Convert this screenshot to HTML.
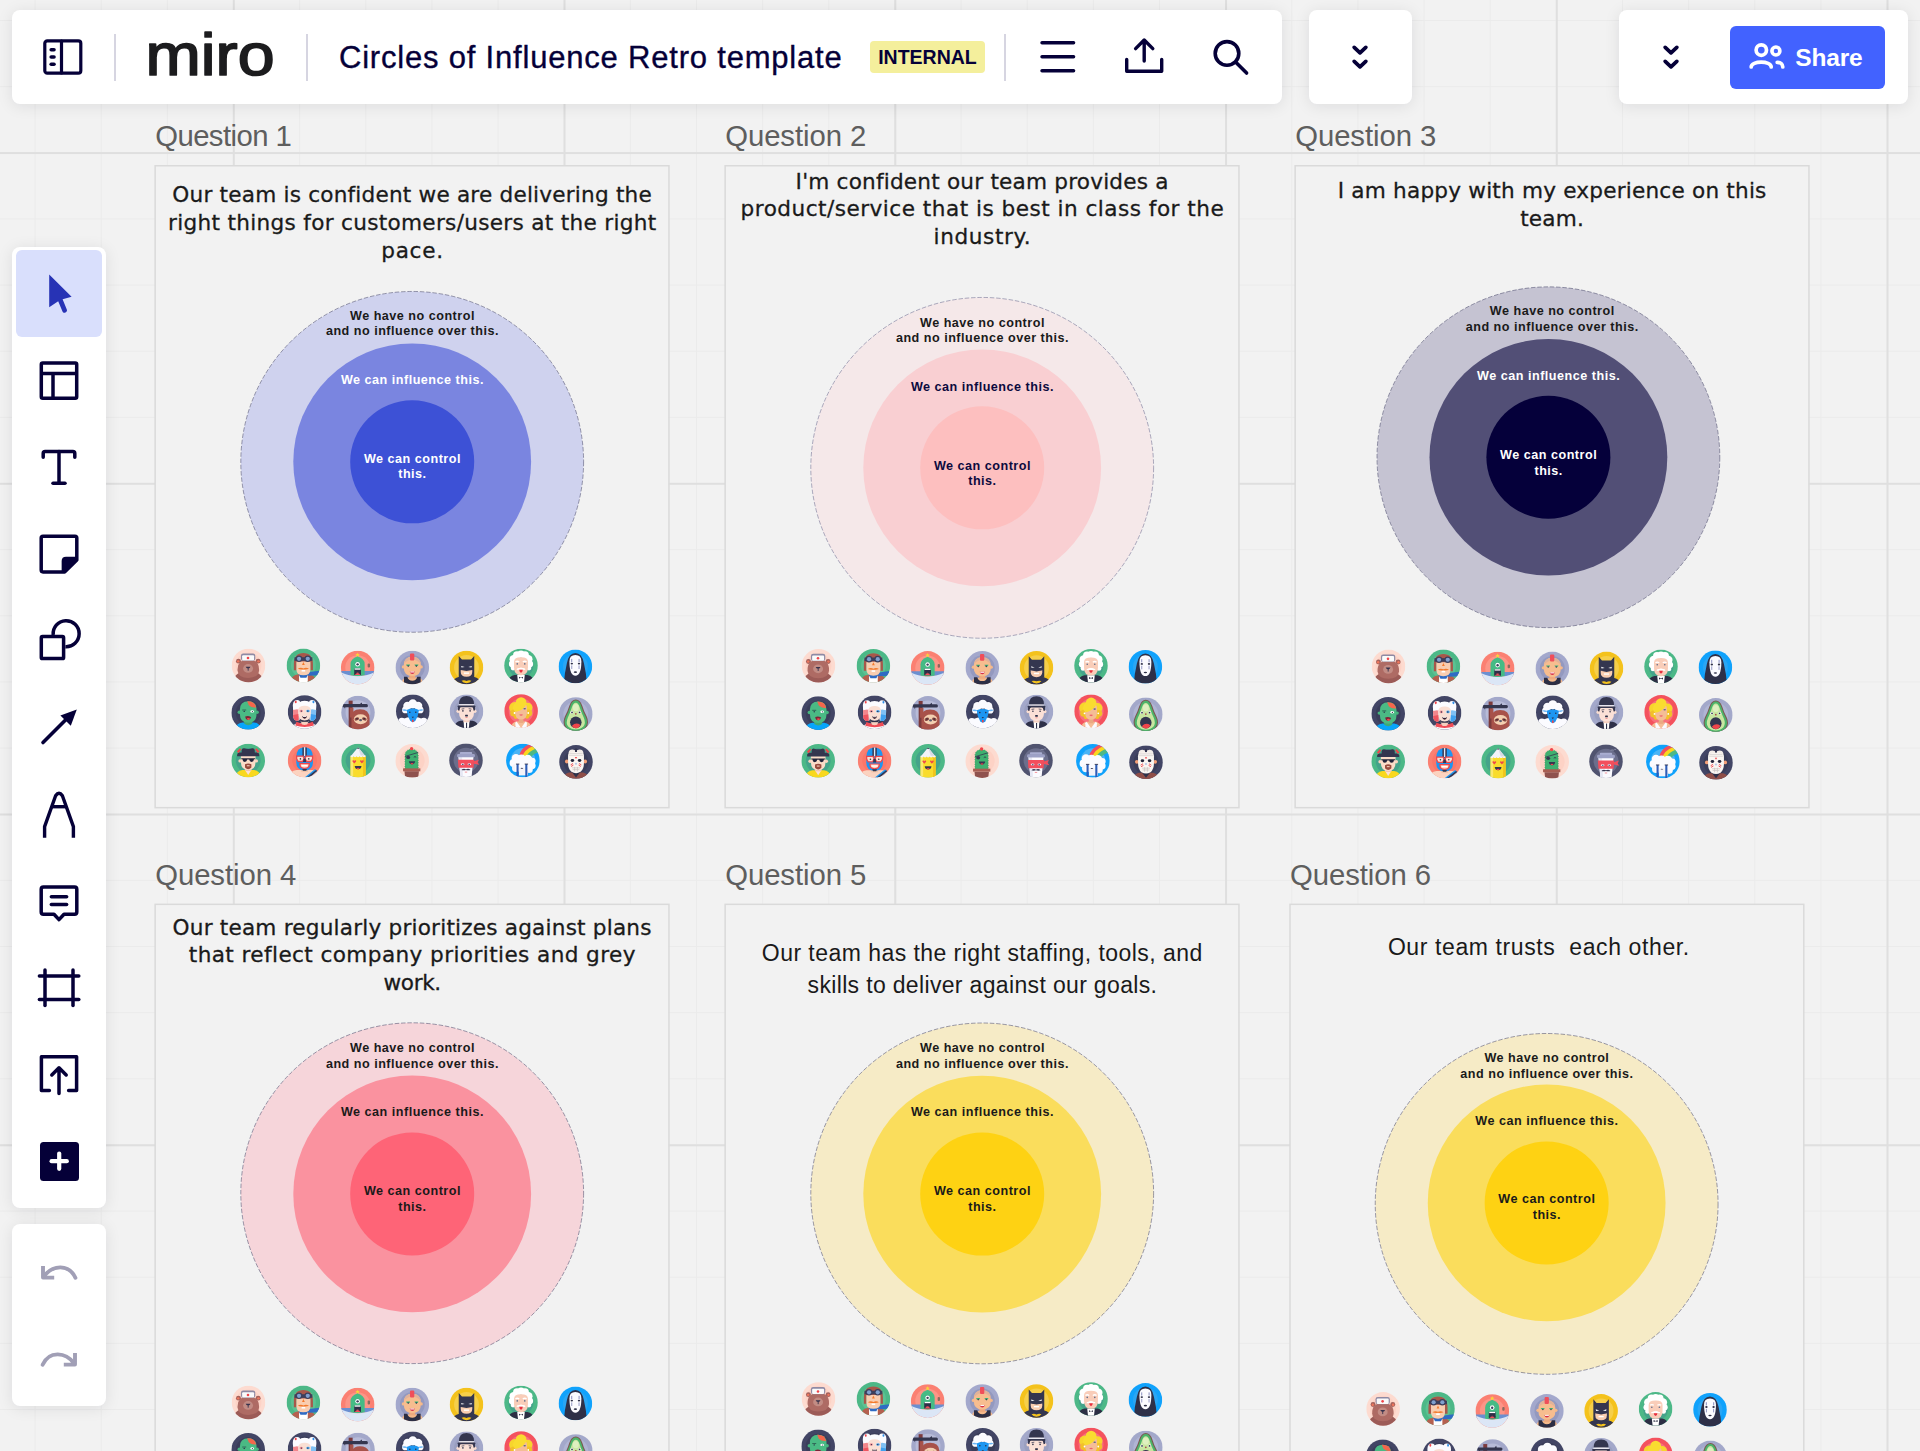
<!DOCTYPE html>
<html lang="en"><head><meta charset="utf-8"><title>Circles of Influence Retro template</title>
<style>
*{box-sizing:border-box;margin:0;padding:0}
html,body{width:1920px;height:1451px;overflow:hidden}
body{position:relative;background-color:#f2f2f2;font-family:"Liberation Sans",sans-serif;
background-image:
 linear-gradient(to right,#dfdfdf 0,#dfdfdf 1.5px,transparent 1.5px),
 linear-gradient(to bottom,#dfdfdf 0,#dfdfdf 1.5px,transparent 1.5px),
 linear-gradient(to right,#ebebeb 0,#ebebeb 1px,transparent 1px),
 linear-gradient(to bottom,#ebebeb 0,#ebebeb 1px,transparent 1px);
background-size:330.75px 330.75px,330.75px 330.75px,66.15px 66.15px,66.15px 66.15px;
background-position:232.8px 0,0 152.05px,34.6px 0,0 20.05px;
}
.panel{position:absolute;background:#fff;border-radius:8px;box-shadow:0 2px 16px rgba(20,20,30,.095)}
.abs{position:absolute}
.qlabel{position:absolute;font-size:29.3px;line-height:34px;color:#5e5e5e;white-space:nowrap;letter-spacing:-0.57px}
.cardsvg{overflow:hidden}
.ctext{position:absolute;width:600px;text-align:center;color:#1a1a1a;white-space:nowrap}
.geo{font-family:"DejaVu Sans","Liberation Sans",sans-serif;font-size:21.6px;line-height:27.7px;letter-spacing:0.2px;padding-left:0.2px;-webkit-text-stroke:0.3px #1a1a1a}
.os{font-size:23px;line-height:32.6px;letter-spacing:0.45px;padding-left:0.45px}
.circ{position:absolute;border-radius:50%}
.cl{position:absolute;width:300px;text-align:center;font-weight:bold;font-size:12.6px;line-height:15.8px;white-space:nowrap;letter-spacing:0.5px;padding-left:0.5px}
svg{position:absolute;overflow:visible}
</style></head>
<body>
<svg width="0" height="0" style="left:0;top:0"><defs><clipPath id="avc"><circle cx="17" cy="17" r="16.9"/></clipPath></defs></svg>
<div class="qlabel" style="left:155.2px;top:118.9px;letter-spacing:-0.57px">Question 1</div>
<svg class="cardsvg" style="left:153px;top:164px" width="520" height="648" viewBox="153 164 520 648">
<rect x="155.15" y="165.75" width="513.8" height="641.9" fill="#f2f2f2" stroke="#dadada" stroke-width="1.5"/>
<ellipse cx="412.2" cy="461.85" rx="171.4" ry="170.4" fill="#cfd2ee" stroke="rgba(40,40,80,.5)" stroke-width="0.9" stroke-dasharray="4.5 1.8"/>
<ellipse cx="412.2" cy="461.85" rx="118.9" ry="118.3" fill="#7a85e0"/>
<ellipse cx="412.2" cy="461.85" rx="62" ry="61.5" fill="#3d51d6"/>
<g transform="translate(231.6 648.6) scale(0.9941)"><g clip-path="url(#avc)"><rect width="34" height="34" fill="#fddbd0"/><circle cx="17" cy="17" r="13" fill="#fdd3c6"/><circle cx="6.9" cy="12.6" r="2.5" fill="#a5625c"/><circle cx="26.7" cy="12.6" r="2.5" fill="#a5625c"/><circle cx="6.6" cy="12.8" r="1.2" fill="#f0765c"/><circle cx="27" cy="12.8" r="1.2" fill="#f0765c"/><ellipse cx="16.8" cy="31.5" rx="14.6" ry="9" fill="#9c5b57"/><path d="M6 22 Q5.4 11 16.8 11 Q28.2 11 27.6 22 Q27 29.5 16.8 29.5 Q6.6 29.5 6 22 Z" fill="#ae6b64"/><ellipse cx="16.6" cy="20" rx="5" ry="4.4" fill="#c28c84"/><path d="M14.2 18.2 H19 Q18.6 20 16.6 20 Q14.6 20 14.2 18.2 Z" fill="#37324c"/><rect x="16.2" y="19.6" width=".9" height="2.6" fill="#37324c"/><rect x="9.4" y="5" width="14.4" height="7.2" rx="2.2" fill="#8e8aa4"/><rect x="10.6" y="6.6" width="12" height="5.4" rx="1" fill="#fafafa"/><circle cx="16.5" cy="9.4" r="1.3" fill="#f0454a"/></g></g>
<g transform="translate(286.5 648.5) scale(0.9941)"><g clip-path="url(#avc)"><rect width="34" height="34" fill="#4cb887"/><circle cx="17" cy="17" r="12.5" fill="#5cc193"/><path d="M4 34 Q5 26.5 12 26 H22 Q29 26.5 30 34 Z" fill="#b5604f"/><rect x="12.6" y="27" width="8.8" height="8" fill="#fff"/><path d="M12 25.5 H22 L20 29.5 H14 Z" fill="#2f6bc4"/><path d="M21 24 L33 22.4 V27 L22 27.5 Z" fill="#2f6bc4"/><path d="M7.4 16 Q7.4 4.6 17 4.6 Q26.6 4.6 26.6 16 V22 H24 V14 H10 V22 H7.4 Z" fill="#a8574a"/><path d="M10 13 H24 V21 Q24 27 17 27 Q10 27 10 21 Z" fill="#f9cdb0"/><path d="M17 13.6 L15.6 16.6 H18.4 Z" fill="#f47a2c"/><path d="M11.4 20.4 Q14 18.6 17 20 Q20 18.6 22.6 20.4 Q20 21.6 17 21 Q14 21.6 11.4 20.4 Z" fill="#f47a2c"/><rect x="15.2" y="21.6" width="3.6" height="1.6" fill="#fff"/><rect x="8" y="8.8" width="18" height="3.6" fill="#3c3f5c"/><circle cx="12.6" cy="10.4" r="3.3" fill="#3c3f5c"/><circle cx="21.4" cy="10.4" r="3.3" fill="#3c3f5c"/><circle cx="12.6" cy="10.4" r="2.1" fill="#7fa0cf"/><circle cx="21.4" cy="10.4" r="2.1" fill="#7fa0cf"/></g></g>
<g transform="translate(340.8 650.7) scale(0.9941)"><g clip-path="url(#avc)"><rect width="34" height="34" fill="#fb8072"/><circle cx="17" cy="17" r="12.5" fill="#fc9587"/><path d="M0 20.4 H34 V25 H0 Z" fill="#6b8fd0"/><path d="M9.8 25 V13.4 Q9.8 8.4 16.9 5.7 Q24 8.4 24 13.4 V25 Z" fill="#45bb85"/><path d="M16.9 2 L17.6 3.4 L19.1 3.6 L18 4.7 L18.3 6.2 L16.9 5.4 L15.5 6.2 L15.8 4.7 L14.7 3.6 L16.2 3.4 Z" fill="#f9d23a"/><path d="M13.8 12.6 Q16.9 9.6 20 12.6 Z" fill="#2f9a78"/><circle cx="16.9" cy="13.6" r="2.3" fill="#fff"/><circle cx="16.9" cy="13.7" r="1.2" fill="#3c3f5c"/><path d="M13.5 17.8 H20.3 V24 H13.5 Z" fill="#2e3048"/><rect x="13.9" y="17.8" width="6" height="1.3" fill="#fff"/><path d="M14 24 Q16.9 19.8 19.8 24 Z" fill="#f0505a"/><rect x="27" y="13" width="2.4" height="3.8" rx="1" fill="#8a6a5e"/><path d="M0 21.6 Q17 29.6 34 21.6 V34 H0 Z" fill="#dbe6f6"/><path d="M12.4 24.8 Q16.9 26.2 21.4 24.8 V23 H12.4 Z" fill="#45bb85"/><path d="M13.5 22.4 H20.3 V24.4 H13.5 Z" fill="#2e3048"/><path d="M14 24.4 Q16.9 20.6 19.8 24.4 Z" fill="#f0505a"/></g></g>
<g transform="translate(395.4 650.6) scale(0.9941)"><g clip-path="url(#avc)"><rect width="34" height="34" fill="#a3a8cc"/><circle cx="17" cy="17" r="12.5" fill="#9499bf"/><path d="M6 34 Q6.4 28 10.4 27 H23.6 Q27.6 28 28 34 Z" fill="#f5b98a"/><path d="M8.6 34 V26.4 H12 Q13 30.4 17 30.4 Q21 30.4 22 26.4 H25.4 V34 Z" fill="#2c2e44"/><rect x="14" y="23" width="6" height="5" fill="#eeaa7e"/><circle cx="8" cy="16.4" r="1.6" fill="#f5b98a"/><circle cx="26" cy="16.4" r="1.6" fill="#f5b98a"/><path d="M8.4 15 Q8.4 6.3 17 6.3 Q25.6 6.3 25.6 15 V17 Q25.6 25.6 17 25.6 Q8.4 25.6 8.4 17 Z" fill="#f7bd8f"/><path d="M8.7 13 Q9.8 6.6 17 6.3 Q24.2 6.6 25.3 13 Q21 9 17 9 Q13 9 8.7 13 Z" fill="#e0b29a"/><rect x="14.7" y="3" width="4.3" height="7" rx="1" fill="#f04e5a"/><path d="M10.8 14 H14.8 L14.2 15.4 H11.4 Z" fill="#3fb577"/><path d="M19.2 14 H23.2 L22.6 15.4 H19.8 Z" fill="#3fb577"/><circle cx="12.9" cy="15.6" r=".8" fill="#3c3f5c"/><circle cx="21.1" cy="15.6" r=".8" fill="#3c3f5c"/><path d="M14.4 21 H19.6 Q19 23.6 17 23.6 Q15 23.6 14.4 21 Z" fill="#d8304a"/><rect x="15" y="21" width="4" height="1" fill="#fff"/></g></g>
<g transform="translate(449.6 650.6) scale(0.9941)"><g clip-path="url(#avc)"><rect width="34" height="34" fill="#f4c21c"/><circle cx="17" cy="17" r="12.5" fill="#f6cf4a"/><path d="M2 34 Q3 27.5 10 26.4 L17 25 L24 26.4 Q31 27.5 32 34 Z" fill="#34364f"/><path d="M9.2 27 V5.4 L12.4 9 H21.6 L24.8 5.4 V27 Z" fill="#34364f"/><path d="M11.2 19.4 H22.8 V21.6 Q22.8 26.4 17 26.4 Q11.2 26.4 11.2 21.6 Z" fill="#f9cdb0"/><path d="M11.2 19.4 L17 17.6 L22.8 19.4 L17 20.6 Z" fill="#34364f"/><path d="M11.6 15.4 L15.2 16.6 L12 17 Z" fill="#fff"/><path d="M22.4 15.4 L18.8 16.6 L22 17 Z" fill="#fff"/><rect x="14.4" y="22" width="5.2" height="1.4" fill="#fff"/><path d="M12 30.4 Q14.6 29.4 17 30.6 Q19.4 29.4 22 30.4 Q20.6 32.6 17 32.8 Q13.4 32.6 12 30.4 Z" fill="#f4c21c"/></g></g>
<g transform="translate(504.1 648.6) scale(0.9941)"><g clip-path="url(#avc)"><rect width="34" height="34" fill="#4cb887"/><circle cx="17" cy="17" r="12.5" fill="#44a38a"/><path d="M4 34 Q4.6 27.6 10.6 26.6 H23.4 Q29.4 27.6 30 34 Z" fill="#2c2e44"/><path d="M13.2 26.6 H20.8 L20 34 H14 Z" fill="#fff"/><path d="M15 28.2 L17 29.2 L19 28.2 V30.2 L17 29.4 L15 30.2 Z" fill="#2c2e44"/><circle cx="9.6" cy="10.6" r="4.2" fill="#fff"/><circle cx="24.4" cy="10.6" r="4.2" fill="#fff"/><circle cx="13" cy="6.6" r="4" fill="#fff"/><circle cx="21" cy="6.6" r="4" fill="#fff"/><circle cx="17" cy="5.6" r="3.6" fill="#fff"/><circle cx="8.2" cy="15.4" r="3.4" fill="#fff"/><circle cx="25.8" cy="15.4" r="3.4" fill="#fff"/><circle cx="9" cy="19.6" r="2.4" fill="#fff"/><circle cx="25" cy="19.6" r="2.4" fill="#fff"/><path d="M10 13 Q10 8.6 17 8.6 Q24 8.6 24 13 V19 Q24 26.8 17 26.8 Q10 26.8 10 19 Z" fill="#f9cdb9"/><path d="M11.4 13.4 Q13.2 12 15.2 13.4" stroke="#fff" stroke-width="1.3" fill="none"/><path d="M18.8 13.4 Q20.8 12 22.6 13.4" stroke="#fff" stroke-width="1.3" fill="none"/><circle cx="13.2" cy="15.4" r=".8" fill="#5a6a8a"/><circle cx="20.8" cy="15.4" r=".8" fill="#5a6a8a"/><path d="M12.8 20.8 Q17 18.2 21.2 20.8 Q17 20.4 12.8 20.8 Z" fill="#fff" stroke="#fff" stroke-width="1"/><path d="M15.2 21.4 H18.8 Q18.6 24.2 17 24.2 Q15.4 24.2 15.2 21.4 Z" fill="#e83040"/></g></g>
<g transform="translate(558.5 649.5) scale(0.9941)"><g clip-path="url(#avc)"><rect width="34" height="34" fill="#10a2fc"/><circle cx="17" cy="17" r="12.5" fill="#2aa6f4"/><path d="M5.4 34 Q6 24 8.4 14 Q10.4 3.6 17 3.6 Q23.6 3.6 25.6 14 Q28 24 28.6 34 Z" fill="#2e3048"/><path d="M11 12 Q11 5.6 17 5.6 Q23 5.6 23 12 Q23 19 21.4 23 Q20 26.4 17 26.4 Q14 26.4 12.6 23 Q11 19 11 12 Z" fill="#fbfbff"/><ellipse cx="13.4" cy="14.2" rx="1.2" ry=".9" fill="#2e3048"/><ellipse cx="20.6" cy="14.2" rx="1.2" ry=".9" fill="#2e3048"/><rect x="12.8" y="9.4" width="1" height="3.2" fill="#8a8fc0"/><rect x="20.2" y="9.4" width="1" height="3.2" fill="#8a8fc0"/><rect x="12.9" y="16" width=".9" height="3.6" fill="#8a8fc0"/><rect x="20.2" y="16" width=".9" height="3.6" fill="#8a8fc0"/><ellipse cx="17" cy="22.8" rx="1.7" ry=".8" fill="#2e3048"/></g></g>
<g transform="translate(231.3 695.9) scale(0.9941)"><g clip-path="url(#avc)"><rect width="34" height="34" fill="#424565"/><circle cx="17" cy="17" r="12.5" fill="#3a3d5a"/><path d="M3.6 34 Q5 27.4 11 26.8 H23 Q29 27.4 30.4 34 Z" fill="#08a5fa"/><path d="M13 25 H21 V28 Q17 31 13 28 Z" fill="#3fa874"/><circle cx="8" cy="16.4" r="1.7" fill="#46b47e"/><circle cx="26" cy="16.4" r="1.7" fill="#46b47e"/><path d="M8.6 14 Q8.6 5.4 17 5.4 Q25.4 5.4 25.4 14 V18 Q25.4 27 17 27 Q8.6 27 8.6 18 Z" fill="#4aba84"/><path d="M16 5.4 Q23.6 5 25 11.6 Q20.6 12.4 17.6 9.4 Z" fill="#f4664c"/><path d="M11 14.2 H15" stroke="#2e6a58" stroke-width="1"/><circle cx="13" cy="15.6" r=".7" fill="#2e3048"/><ellipse cx="21" cy="15.6" rx="1.8" ry="1.2" fill="#fff"/><circle cx="21.2" cy="15.7" r=".6" fill="#2e3048"/><path d="M14 20.8 Q17 19.6 20 21.4 Q19 24.4 16.6 24.2 Q14.4 24 14 20.8 Z" fill="#7a2438"/><path d="M15.6 22.6 Q17.4 21.6 19 23 Q18 24.4 16.6 24.2 Z" fill="#f0454a"/></g></g>
<g transform="translate(287.7 695.1) scale(0.9941)"><g clip-path="url(#avc)"><rect width="34" height="34" fill="#424565"/><circle cx="17" cy="17" r="12.5" fill="#3a3d5a"/><path d="M5.4 14 Q4 5 9.6 5 Q12.4 5 13 8.4 L12 25 Q7 27 5.6 22 Z" fill="#fbfbff"/><path d="M28.6 14 Q30 5 24.4 5 Q21.6 5 21 8.4 L22 25 Q27 27 28.4 22 Z" fill="#fbfbff"/><path d="M5.3 15 L10.8 14 L11 25.4 Q7 27 5.6 22 Z" fill="#f2868c"/><path d="M5.5 20 L10.9 19 L11 25.4 Q7 27 5.6 22 Z" fill="#ee5560"/><path d="M28.7 15 L23.2 14 L23 25.4 Q27 27 28.4 22 Z" fill="#7fc0f4"/><path d="M28.5 20 L23.1 19 L23 25.4 Q27 27 28.4 22 Z" fill="#3fa0ee"/><rect x="7.2" y="5.6" width="1.8" height="2.6" rx=".8" fill="#f0454a"/><rect x="25" y="5.6" width="1.8" height="2.6" rx=".8" fill="#2f8ee8"/><path d="M3.6 34 Q5 29 10.6 28.4 H23.4 Q29 29 30.4 34 Z" fill="#fbfbff"/><path d="M8.8 26.8 Q17 30.6 25.2 26.8 L26.4 30.6 Q17 33.6 7.6 30.6 Z" fill="#ef4c56"/><path d="M13 26 H21 L19.6 29.6 Q17 30.6 14.4 29.6 Z" fill="#f6d0c0"/><rect x="13.6" y="25.4" width="6.8" height="1.5" fill="#2e3048"/><path d="M10.8 14 Q10.8 8 17 8 Q23.2 8 23.2 14 V18 Q23.2 25.6 17 25.6 Q10.8 25.6 10.8 18 Z" fill="#fadfd4"/><path d="M9.8 15 Q9 5.6 17 5.6 Q25 5.6 24.2 15 Q22 10.4 17 10.6 Q12 10.4 9.8 15 Z" fill="#fbfbff"/><ellipse cx="13.6" cy="16" rx="1.7" ry="1.3" fill="#f4949a"/><ellipse cx="20.4" cy="16" rx="1.7" ry="1.3" fill="#4aa6f0"/><circle cx="13.8" cy="16.1" r=".7" fill="#2e3048"/><circle cx="20.2" cy="16.1" r=".7" fill="#2e3048"/><path d="M14.6 21 H19.4 Q19 23.8 17 23.8 Q15 23.8 14.6 21 Z" fill="#3a2030"/><rect x="15.2" y="21" width="3.6" height=".9" fill="#fff"/></g></g>
<g transform="translate(341.1 695.7) scale(0.9941)"><g clip-path="url(#avc)"><rect width="34" height="34" fill="#a3a8ca"/><circle cx="17" cy="17" r="12.5" fill="#b7bbd8"/><rect x="7.6" y="5" width="4" height="29" fill="#7c3a3c"/><path d="M1.6 8.4 H19 L20.6 6.8 L21.2 8.4 H25.6 Q27 8.4 27 10 Q27 11.6 25.6 11.6 H4.4 L3.6 13 L3.2 11.6 H1.6 Z" fill="#34364f"/><path d="M10.4 34 V22 Q10.4 13.6 19 13.6 Q28.6 13.6 28.6 23 V34 Z" fill="#a8524a"/><path d="M9 12 H12.4 V22 H9 Z" fill="#a8524a"/><ellipse cx="19.6" cy="23.6" rx="6.8" ry="5" fill="#f3cfb0"/><ellipse cx="15.8" cy="23.4" rx="2.4" ry="1.5" fill="#8a4844" transform="rotate(-20 15.8 23.4)"/><ellipse cx="23.4" cy="23.4" rx="2.4" ry="1.5" fill="#8a4844" transform="rotate(20 23.4 23.4)"/><circle cx="16" cy="23.2" r=".7" fill="#1e1e2e"/><circle cx="23.2" cy="23.2" r=".7" fill="#1e1e2e"/><ellipse cx="19.6" cy="24.6" rx="1.5" ry="1.1" fill="#5a5a6e"/></g></g>
<g transform="translate(395.9 694.4) scale(0.9941)"><g clip-path="url(#avc)"><rect width="34" height="34" fill="#424565"/><circle cx="17" cy="17" r="12.5" fill="#3a3d5a"/><circle cx="17" cy="9.6" r="4.6" fill="#fbfbff"/><circle cx="11.6" cy="11.6" r="4.2" fill="#fbfbff"/><circle cx="22.4" cy="11.6" r="4.2" fill="#fbfbff"/><circle cx="9.6" cy="15.6" r="3.4" fill="#fbfbff"/><circle cx="24.4" cy="15.6" r="3.4" fill="#fbfbff"/><ellipse cx="17" cy="31" rx="15" ry="8.6" fill="#fbfbff"/><circle cx="6" cy="27" r="3.6" fill="#fbfbff"/><circle cx="28" cy="27" r="3.6" fill="#fbfbff"/><path d="M6 15.4 Q9 14.2 11.6 16 Q9 17.6 6 15.4 Z" fill="#6ab4f4"/><path d="M28 15.4 Q25 14.2 22.4 16 Q25 17.6 28 15.4 Z" fill="#6ab4f4"/><path d="M10.8 15.6 Q17 13 23.2 15.6 Q22.6 22 19.6 26.6 Q17 29.6 14.4 26.6 Q11.4 22 10.8 15.6 Z" fill="#1c96f2"/><circle cx="14" cy="18" r=".8" fill="#2e3048"/><circle cx="20" cy="18" r=".8" fill="#2e3048"/><path d="M15.8 22.4 H18.2 L17 24 Z" fill="#2e3048"/><path d="M16.2 25.4 H17.8 V27.4 Q17 28.4 16.2 27.4 Z" fill="#f0454a"/></g></g>
<g transform="translate(449.6 694.4) scale(0.9941)"><g clip-path="url(#avc)"><rect width="34" height="34" fill="#a3a8ca"/><circle cx="17" cy="17" r="12.5" fill="#9a9fc0"/><path d="M4.4 34 Q5.4 27.6 11 26.6 H23 Q28.6 27.6 29.6 34 Z" fill="#2e3048"/><path d="M14 26 H20 L19.4 34 H14.6 Z" fill="#fff"/><rect x="16.5" y="28.4" width="1.1" height="6" fill="#2e3048"/><rect x="14" y="23" width="6" height="5" fill="#f6d0c0"/><circle cx="8.6" cy="17" r="1.7" fill="#f9dcd0"/><circle cx="25.4" cy="17" r="1.7" fill="#f9dcd0"/><path d="M9.4 14 Q9.4 9 17 9 Q24.6 9 24.6 14 V18 Q24.6 26.4 17 26.4 Q9.4 26.4 9.4 18 Z" fill="#fbe0d6"/><path d="M8.4 16 V12 H12 Q10.2 13 9.8 16.4 Z" fill="#34364f"/><path d="M25.6 16 V12 H22 Q23.8 13 24.2 16.4 Z" fill="#34364f"/><path d="M9.4 10 Q9.4 1.6 17 1.6 Q24.6 1.6 24.6 10 Z" fill="#34364f"/><rect x="9.2" y="9.8" width="15.6" height="1.4" fill="#e8e8f2"/><rect x="8" y="11.2" width="18" height="1.7" rx=".8" fill="#34364f"/><circle cx="13.4" cy="16.6" r=".8" fill="#2e3048"/><circle cx="20.6" cy="16.6" r=".8" fill="#2e3048"/><path d="M12 14.8 L14.8 14.4" stroke="#2e3048" stroke-width=".7"/><path d="M22 14.8 L19.2 14.4" stroke="#2e3048" stroke-width=".7"/><rect x="15.6" y="20.4" width="2.8" height="1.8" rx=".4" fill="#2e3048"/><rect x="16" y="22.8" width="2" height=".9" fill="#f0888a"/></g></g>
<g transform="translate(504.2 694.1) scale(0.9941)"><g clip-path="url(#avc)"><rect width="34" height="34" fill="#f4525e"/><circle cx="17" cy="17" r="12.5" fill="#f8707c"/><path d="M6.6 34 Q7.6 28.6 12 27.6 H22 Q26.4 28.6 27.4 34 Z" fill="#f5bd95"/><path d="M11.6 28 L15.4 34 H11.4 Z" fill="#fff"/><path d="M22.4 28 L18.6 34 H22.6 Z" fill="#fff"/><path d="M12.4 27.6 L17 34 H12 L11.2 29 Z" fill="#fbfbff"/><path d="M21.6 27.6 L17 34 H22 L22.8 29 Z" fill="#fbfbff"/><rect x="14.6" y="22" width="4.8" height="7" fill="#eaa982"/><circle cx="10.6" cy="13.6" r="5.6" fill="#f7d52c"/><circle cx="23.4" cy="13.6" r="5" fill="#f7d52c"/><circle cx="17" cy="8.6" r="5.4" fill="#f9dc30"/><circle cx="9.6" cy="19" r="3.6" fill="#f2c02a"/><circle cx="24.8" cy="19" r="3.4" fill="#f2c02a"/><circle cx="11.8" cy="22.6" r="2.4" fill="#f2c02a"/><circle cx="23" cy="22.4" r="2.4" fill="#f2c02a"/><path d="M11 14 Q11 9 17 9 Q23 9 23 14 V18 Q23 25.6 17 25.6 Q11 25.6 11 18 Z" fill="#f5bd95"/><path d="M8.6 14 Q10 6.6 17 6.6 Q22 6.6 22.6 9.6 Q19.6 15.6 13 17.6 Q10 18 8.6 14 Z" fill="#f9dc30"/><ellipse cx="20.6" cy="14.8" rx="1.3" ry=".8" fill="#5a6a8a"/><path d="M15 20.8 Q17 19.8 19 20.8 Q17 23 15 20.8 Z" fill="#f0606c"/><circle cx="10.4" cy="19" r=".9" fill="#fff"/><circle cx="24.2" cy="19" r=".9" fill="#fff"/></g></g>
<g transform="translate(558.9 697.1) scale(0.9941)"><g clip-path="url(#avc)"><rect width="34" height="34" fill="#a3a8ca"/><circle cx="17" cy="17" r="12.5" fill="#b0b5d4"/><path d="M17 2.4 Q21.6 2.4 23.6 9 Q25 14 28 19.6 Q31 26.6 27 31.6 Q23 35.6 17 35.6 Q11 35.6 7 31.6 Q3 26.6 6 19.6 Q9 14 10.4 9 Q12.4 2.4 17 2.4 Z" fill="#7a5a50"/><path d="M17 3.4 Q20.8 3.4 22.6 9.4 Q24 14.4 27 20 Q29.8 26.4 26.2 30.8 Q22.6 34.6 17 34.6 Q11.4 34.6 7.8 30.8 Q4.2 26.4 7 20 Q10 14.4 11.4 9.4 Q13.2 3.4 17 3.4 Z" fill="#4cb46a"/><path d="M17 5.6 Q19.6 5.6 21 10.4 Q22.4 15.4 25 20.4 Q27.4 26 24.6 29.6 Q21.6 32.6 17 32.6 Q12.4 32.6 9.4 29.6 Q6.6 26 9 20.4 Q11.6 15.4 13 10.4 Q14.4 5.6 17 5.6 Z" fill="#c9e6a0"/><ellipse cx="17" cy="10.6" rx="3" ry="3.6" fill="#dff0c0"/><circle cx="13" cy="15.4" r="1.4" fill="#fff"/><circle cx="21" cy="15.4" r="1.4" fill="#fff"/><circle cx="13.2" cy="15.4" r=".9" fill="#34364f"/><circle cx="20.8" cy="15.4" r=".9" fill="#34364f"/><circle cx="17" cy="16.8" r=".9" fill="#a8524a"/><ellipse cx="17" cy="25.4" rx="5.8" ry="6" fill="#34364f"/><path d="M13 29 Q17 24.6 21.6 28 Q20 31.4 17 31.4 Q14.4 31.4 13 29 Z" fill="#f0454a"/></g></g>
<g transform="translate(231.3 743.6) scale(0.9941)"><g clip-path="url(#avc)"><rect width="34" height="34" fill="#4cb887"/><circle cx="17" cy="17" r="12.5" fill="#44a38a"/><path d="M4 34 Q5 27.6 11 26.6 H23 Q29 27.6 30 34 Z" fill="#f9d81e"/><path d="M13.4 26 L17 31.6 L20.6 26 Z" fill="#fbe0d6"/><rect x="14" y="23" width="6" height="4.6" fill="#f2c4a8"/><circle cx="8.8" cy="17.4" r="1.7" fill="#f9d3bd"/><circle cx="25.2" cy="17.4" r="1.7" fill="#f9d3bd"/><path d="M9.6 12 H24.4 V18 Q24.4 26.6 17 26.6 Q9.6 26.6 9.6 18 Z" fill="#fbdcc8"/><path d="M13.8 20.8 Q17 19 20.2 20.8 V24 Q17 27.4 13.8 24 Z" fill="#9a4a3c"/><rect x="15.6" y="21.8" width="2.8" height="1" fill="#fbdcc8"/><path d="M10 14.8 H24 V15.8 H22.8 Q22.6 18.4 20.4 18.4 Q18.4 18.4 18 16 H16 Q15.6 18.4 13.6 18.4 Q11.4 18.4 11.2 15.8 H10 Z" fill="#22243a"/><path d="M6 12.6 Q5 9.6 8.4 9 H25.6 Q29 9.6 28 12.6 Z" fill="#34364f"/><path d="M10.4 10 V7 Q10.4 4.4 13 4.8 Q17 6 21 4.8 Q23.6 4.4 23.6 7 V10 Z" fill="#34364f"/><path d="M5.6 8 L8.6 4.6 L10 6 L7.4 9.4 Z" fill="#f0454a"/><path d="M28.4 8 L25.4 4.6 L24 6 L26.6 9.4 Z" fill="#f0454a"/></g></g>
<g transform="translate(287.7 743.6) scale(0.9941)"><g clip-path="url(#avc)"><rect width="34" height="34" fill="#fb8072"/><circle cx="17" cy="17" r="12.5" fill="#fc7668"/><path d="M1 34 Q2 27.6 9 26.6 H25 Q32 27.6 33 34 Z" fill="#fbd3c0"/><path d="M17 34 L27.6 25.6 L29.6 27.6 L22 34 Z" fill="#1c96f2"/><path d="M19 34 L28.6 26.6 L29.6 27.6 L22 34 Z" fill="#34364f"/><rect x="13.6" y="23" width="6.8" height="5.6" fill="#f2c4a8"/><path d="M8.6 14 Q8.6 3.6 17 3.6 Q25.4 3.6 25.4 14 V19 Q25.4 27 17 27 Q8.6 27 8.6 19 Z" fill="#1c96f2"/><path d="M14.8 3.8 H19.2 V13 H14.8 Z" fill="#34364f"/><rect x="16.3" y="3.6" width="1.4" height="9" fill="#dfe8f7"/><path d="M9 12.6 H15.4 L16.6 15 L15 18 H10.6 L9 15.4 Z" fill="#fbe0d6" stroke="#f0454a" stroke-width="1.3"/><path d="M25 12.6 H18.6 L17.4 15 L19 18 H23.4 L25 15.4 Z" fill="#fbe0d6" stroke="#f0454a" stroke-width="1.3"/><circle cx="12.8" cy="15.4" r=".8" fill="#34364f"/><circle cx="21.2" cy="15.4" r=".8" fill="#34364f"/><path d="M16 15 H18 L18.6 18.6 H15.4 Z" fill="#34364f"/><path d="M11.6 19.6 H22.4 Q22.8 25.6 17 25.6 Q11.2 25.6 11.6 19.6 Z" fill="#f0454a"/><path d="M13 20.8 H21 Q21 24.4 17 24.4 Q13 24.4 13 20.8 Z" fill="#fbd3c0"/><rect x="14" y="21.6" width="6" height="1.3" fill="#fff"/><path d="M14.6 25.6 H19.4 L18.6 27.4 H15.4 Z" fill="#34364f"/></g></g>
<g transform="translate(341.2 743.6) scale(0.9941)"><g clip-path="url(#avc)"><rect width="34" height="34" fill="#4cb887"/><circle cx="17" cy="17" r="12.5" fill="#44a38a"/><path d="M9.4 13 L17 3.6 L24.6 13 Z" fill="#f3f3f8"/><path d="M17 3.6 L24.6 13 H20 Z" fill="#d9d9e4"/><path d="M15.8 5.1 L17 3.6 L18.2 5.1 Z" fill="#34364f"/><rect x="9.4" y="12.6" width="15.2" height="22" fill="#f9dc2c"/><rect x="9.4" y="12.6" width="2.6" height="22" fill="#fbe870"/><rect x="22" y="12.6" width="2.6" height="22" fill="#f2c41c"/><path d="M9.4 12.8 Q11 14.6 12.4 12.8 Q14 14.6 15.5 12.8 Q17 14.6 18.5 12.8 Q20 14.6 21.6 12.8 Q23 14.6 24.6 12.8 V12 H9.4 Z" fill="#f3f3f8"/><path d="M13.2 20 L11.4 18 Q11 16.8 12.2 16.8 Q13 16.8 13.2 17.6 Q13.4 16.8 14.2 16.8 Q15.4 16.8 15 18 Z" fill="#f0454a"/><path d="M20.8 20 L19 18 Q18.6 16.8 19.8 16.8 Q20.6 16.8 20.8 17.6 Q21 16.8 21.8 16.8 Q23 16.8 22.6 18 Z" fill="#f0454a"/><path d="M13.6 22.6 H20.4 Q20 25.8 17 25.8 Q14 25.8 13.6 22.6 Z" fill="#34364f"/><path d="M15.4 24.8 Q17 23.8 18.6 24.8 Q18 25.8 17 25.8 Q16 25.8 15.4 24.8 Z" fill="#f0454a"/></g></g>
<g transform="translate(395.3 743.9) scale(0.9941)"><g clip-path="url(#avc)"><rect width="34" height="34" fill="#fddbd0"/><circle cx="17" cy="17" r="12.5" fill="#fdd2c5"/><path d="M9.8 25.6 V11.6 Q9.8 5.6 16.4 5.6 Q23 5.6 23 11.6 V25.6 Z" fill="#3fb070" stroke="#2e9a60" stroke-width=".8" stroke-dasharray="1 1.4"/><circle cx="16.4" cy="4.8" r="1.7" fill="#f0454a"/><path d="M9.8 12.6 L23 8.6" stroke="#34364f" stroke-width=".8"/><ellipse cx="13" cy="13.6" rx="2" ry="1.7" fill="#34364f"/><path d="M18.6 13.4 Q19.8 12.2 21 13.4" stroke="#34364f" stroke-width=".9" fill="none"/><path d="M13.6 17.4 H20 Q19.6 20.6 16.8 20.6 Q14 20.6 13.6 17.4 Z" fill="#34364f"/><path d="M15.2 19.6 Q16.8 18.6 18.4 19.6 Q17.8 20.6 16.8 20.6 Q15.8 20.6 15.2 19.6 Z" fill="#f0454a"/><rect x="7.8" y="24.6" width="17.4" height="3" fill="#a85e52"/><path d="M9.2 27.6 H23.8 L23 34 H10 Z" fill="#8f524e"/></g></g>
<g transform="translate(449.1 743.4) scale(0.9941)"><g clip-path="url(#avc)"><rect width="34" height="34" fill="#50536f"/><circle cx="17" cy="17" r="12.5" fill="#6b6e8c"/><path d="M21.6 6.4 Q23 5 24.4 6 Q25.6 4.4 27 5.4" stroke="#8a8da8" stroke-width="1" fill="none"/><path d="M9.4 13 H24.6 L22.6 34 H11.4 Z" fill="#fbfbff"/><path d="M9.4 13 H13 L14 34 H11.4 Z" fill="#e6e8f4"/><rect x="10.8" y="8.6" width="12.4" height="2.6" rx="1" fill="#a9add0"/><rect x="8" y="10.6" width="18" height="3.4" rx="1.4" fill="#9da1c6"/><path d="M8.8 16.4 H25.2 L24.6 24.6 H9.4 Z" fill="#f24e5c"/><path d="M25 18 L30 16.4 L28.6 19 L30.4 21.6 L25 20.4 Z" fill="#f24e5c"/><ellipse cx="13.6" cy="21" rx="1.9" ry="1" fill="#e6e8f4"/><ellipse cx="20.4" cy="21" rx="1.9" ry="1" fill="#e6e8f4"/><circle cx="13.8" cy="21.2" r=".7" fill="#34364f"/><circle cx="20.2" cy="21.2" r=".7" fill="#34364f"/><path d="M12.4 26.8 Q14.6 24.6 17 26.2 Q19.4 24.6 21.6 26.8 Q19.4 27.4 17 26.8 Q14.6 27.4 12.4 26.8 Z" fill="#34364f"/><rect x="15.8" y="28.4" width="2.4" height=".9" fill="#f28a92"/></g></g>
<g transform="translate(506 743.6) scale(0.9941)"><g clip-path="url(#avc)"><rect width="34" height="34" fill="#10a2fc"/><circle cx="17" cy="17" r="12.5" fill="#49b4f6"/><path d="M13 13 Q15 3.6 25.4 0 L28.4 3.6 Q19 7 17.6 15 Z" fill="#f24e5c"/><path d="M16.2 14 Q18 6 27.4 2.4 L30.4 6 Q22 8.6 20.6 16 Z" fill="#f9d81e"/><path d="M19.4 15 Q21 9 29.6 5.2 L32.6 9 Q25.6 10.6 23.8 17 Z" fill="#4cb887"/><circle cx="10" cy="14.6" r="4.2" fill="#fbfbff"/><circle cx="15.6" cy="15" r="4" fill="#fbfbff"/><circle cx="22" cy="15.4" r="4.2" fill="#fbfbff"/><circle cx="26.4" cy="17.6" r="3.4" fill="#fbfbff"/><circle cx="7.6" cy="19.6" r="4" fill="#fbfbff"/><circle cx="26" cy="22" r="3.8" fill="#fbfbff"/><circle cx="10" cy="24.6" r="4" fill="#f3f3f8"/><circle cx="23.4" cy="26" r="3.6" fill="#f3f3f8"/><rect x="9" y="14" width="17" height="14" fill="#fbfbff"/><rect x="13" y="24" width="9" height="8" fill="#f3f3f8"/><rect x="10.6" y="20.6" width="2.1" height="14" fill="#2d5cb8"/><rect x="19.4" y="20.6" width="2.1" height="14" fill="#2d5cb8"/><path d="M10 20.6 H13.4 M18.8 20.6 H22.2" stroke="#34364f" stroke-width=".9"/><path d="M14.6 25.2 Q16 23.4 17.4 25.2 Z" fill="#34364f"/></g></g>
<g transform="translate(559.1 745) scale(0.9941)"><g clip-path="url(#avc)"><rect width="34" height="34" fill="#424565"/><circle cx="17" cy="17" r="12.5" fill="#3a3d5a"/><path d="M4 34 Q5 28.6 10 27.6 H24 Q29 28.6 30 34 Z" fill="#8f4e48"/><path d="M12.6 27 H21.4 L17 32.6 Z" fill="#2e3048"/><circle cx="7.8" cy="16.6" r="1.9" fill="#f5a078"/><circle cx="26.2" cy="16.6" r="1.9" fill="#f5a078"/><path d="M9.4 9 Q9.4 4.6 13.6 4.6 L17 5.6 L20.4 4.6 Q24.6 4.6 24.6 9 V11 H9.4 Z" fill="#f3ede8"/><path d="M16 3.6 H18 V7 H16 Z" fill="#34364f"/><path d="M9 11 Q9 7 17 7 Q25 7 25 11 V18 Q25 24 21.6 27 Q17 29.6 12.4 27 Q9 24 9 18 Z" fill="#faf6f2"/><path d="M10.6 8.6 H23.4 M10 10.4 H24" stroke="#d8d2d0" stroke-width=".8"/><ellipse cx="13.4" cy="15.6" rx="1.8" ry="1.5" fill="#22243a"/><ellipse cx="20.6" cy="15.6" rx="1.8" ry="1.5" fill="#22243a"/><path d="M15.8 12 L17 14 L18.2 12 Z" fill="#f0454a"/><path d="M11.6 20 L14 18.6 M12 21.6 L14.4 20.2" stroke="#f0454a" stroke-width=".9"/><path d="M22.4 20 L20 18.6 M22 21.6 L19.6 20.2" stroke="#f0454a" stroke-width=".9"/><ellipse cx="17" cy="18.8" rx="1.2" ry="1" fill="#b8c8e8"/><path d="M13 23 H21 M13.6 24.8 H20.4 M15.6 22 V26.6 M18.4 22 V26.6" stroke="#c8c2c0" stroke-width=".7"/></g></g>
</svg>
<div class="ctext geo" style="left:112.05px;top:181.4px">Our team is confident we are delivering the<br><span style="letter-spacing:0.30px;padding-left:0.30px">right things for customers/users at the right</span><br><span style="letter-spacing:0.70px;padding-left:0.70px">pace.</span></div>
<div class="cl" style="left:262.2px;top:308.6px;color:#1a1a1a">We have no control<br>and no influence over this.</div>
<div class="cl" style="left:262.2px;top:372.5px;color:#ffffff">We can influence this.</div>
<div class="cl" style="left:262.2px;top:451.6px;color:#ffffff">We can control<br>this.</div>
<div class="qlabel" style="left:725.2px;top:118.9px;letter-spacing:-0.07px">Question 2</div>
<svg class="cardsvg" style="left:723px;top:164px" width="520" height="648" viewBox="723 164 520 648">
<rect x="725.15" y="165.75" width="513.8" height="641.9" fill="#f2f2f2" stroke="#dadada" stroke-width="1.5"/>
<ellipse cx="982.2" cy="467.85" rx="171.4" ry="170.4" fill="#f5e8e9" stroke="rgba(60,60,110,.45)" stroke-width="0.9" stroke-dasharray="4.5 1.8"/>
<ellipse cx="982.2" cy="467.85" rx="118.9" ry="118.3" fill="#f9cfd2"/>
<ellipse cx="982.2" cy="467.85" rx="62" ry="61.5" fill="#fdbfbf"/>
<g transform="translate(801.6 648.9) scale(0.9941)"><g clip-path="url(#avc)"><rect width="34" height="34" fill="#fddbd0"/><circle cx="17" cy="17" r="13" fill="#fdd3c6"/><circle cx="6.9" cy="12.6" r="2.5" fill="#a5625c"/><circle cx="26.7" cy="12.6" r="2.5" fill="#a5625c"/><circle cx="6.6" cy="12.8" r="1.2" fill="#f0765c"/><circle cx="27" cy="12.8" r="1.2" fill="#f0765c"/><ellipse cx="16.8" cy="31.5" rx="14.6" ry="9" fill="#9c5b57"/><path d="M6 22 Q5.4 11 16.8 11 Q28.2 11 27.6 22 Q27 29.5 16.8 29.5 Q6.6 29.5 6 22 Z" fill="#ae6b64"/><ellipse cx="16.6" cy="20" rx="5" ry="4.4" fill="#c28c84"/><path d="M14.2 18.2 H19 Q18.6 20 16.6 20 Q14.6 20 14.2 18.2 Z" fill="#37324c"/><rect x="16.2" y="19.6" width=".9" height="2.6" fill="#37324c"/><rect x="9.4" y="5" width="14.4" height="7.2" rx="2.2" fill="#8e8aa4"/><rect x="10.6" y="6.6" width="12" height="5.4" rx="1" fill="#fafafa"/><circle cx="16.5" cy="9.4" r="1.3" fill="#f0454a"/></g></g>
<g transform="translate(856.5 648.8) scale(0.9941)"><g clip-path="url(#avc)"><rect width="34" height="34" fill="#4cb887"/><circle cx="17" cy="17" r="12.5" fill="#5cc193"/><path d="M4 34 Q5 26.5 12 26 H22 Q29 26.5 30 34 Z" fill="#b5604f"/><rect x="12.6" y="27" width="8.8" height="8" fill="#fff"/><path d="M12 25.5 H22 L20 29.5 H14 Z" fill="#2f6bc4"/><path d="M21 24 L33 22.4 V27 L22 27.5 Z" fill="#2f6bc4"/><path d="M7.4 16 Q7.4 4.6 17 4.6 Q26.6 4.6 26.6 16 V22 H24 V14 H10 V22 H7.4 Z" fill="#a8574a"/><path d="M10 13 H24 V21 Q24 27 17 27 Q10 27 10 21 Z" fill="#f9cdb0"/><path d="M17 13.6 L15.6 16.6 H18.4 Z" fill="#f47a2c"/><path d="M11.4 20.4 Q14 18.6 17 20 Q20 18.6 22.6 20.4 Q20 21.6 17 21 Q14 21.6 11.4 20.4 Z" fill="#f47a2c"/><rect x="15.2" y="21.6" width="3.6" height="1.6" fill="#fff"/><rect x="8" y="8.8" width="18" height="3.6" fill="#3c3f5c"/><circle cx="12.6" cy="10.4" r="3.3" fill="#3c3f5c"/><circle cx="21.4" cy="10.4" r="3.3" fill="#3c3f5c"/><circle cx="12.6" cy="10.4" r="2.1" fill="#7fa0cf"/><circle cx="21.4" cy="10.4" r="2.1" fill="#7fa0cf"/></g></g>
<g transform="translate(910.8 651) scale(0.9941)"><g clip-path="url(#avc)"><rect width="34" height="34" fill="#fb8072"/><circle cx="17" cy="17" r="12.5" fill="#fc9587"/><path d="M0 20.4 H34 V25 H0 Z" fill="#6b8fd0"/><path d="M9.8 25 V13.4 Q9.8 8.4 16.9 5.7 Q24 8.4 24 13.4 V25 Z" fill="#45bb85"/><path d="M16.9 2 L17.6 3.4 L19.1 3.6 L18 4.7 L18.3 6.2 L16.9 5.4 L15.5 6.2 L15.8 4.7 L14.7 3.6 L16.2 3.4 Z" fill="#f9d23a"/><path d="M13.8 12.6 Q16.9 9.6 20 12.6 Z" fill="#2f9a78"/><circle cx="16.9" cy="13.6" r="2.3" fill="#fff"/><circle cx="16.9" cy="13.7" r="1.2" fill="#3c3f5c"/><path d="M13.5 17.8 H20.3 V24 H13.5 Z" fill="#2e3048"/><rect x="13.9" y="17.8" width="6" height="1.3" fill="#fff"/><path d="M14 24 Q16.9 19.8 19.8 24 Z" fill="#f0505a"/><rect x="27" y="13" width="2.4" height="3.8" rx="1" fill="#8a6a5e"/><path d="M0 21.6 Q17 29.6 34 21.6 V34 H0 Z" fill="#dbe6f6"/><path d="M12.4 24.8 Q16.9 26.2 21.4 24.8 V23 H12.4 Z" fill="#45bb85"/><path d="M13.5 22.4 H20.3 V24.4 H13.5 Z" fill="#2e3048"/><path d="M14 24.4 Q16.9 20.6 19.8 24.4 Z" fill="#f0505a"/></g></g>
<g transform="translate(965.4 650.9) scale(0.9941)"><g clip-path="url(#avc)"><rect width="34" height="34" fill="#a3a8cc"/><circle cx="17" cy="17" r="12.5" fill="#9499bf"/><path d="M6 34 Q6.4 28 10.4 27 H23.6 Q27.6 28 28 34 Z" fill="#f5b98a"/><path d="M8.6 34 V26.4 H12 Q13 30.4 17 30.4 Q21 30.4 22 26.4 H25.4 V34 Z" fill="#2c2e44"/><rect x="14" y="23" width="6" height="5" fill="#eeaa7e"/><circle cx="8" cy="16.4" r="1.6" fill="#f5b98a"/><circle cx="26" cy="16.4" r="1.6" fill="#f5b98a"/><path d="M8.4 15 Q8.4 6.3 17 6.3 Q25.6 6.3 25.6 15 V17 Q25.6 25.6 17 25.6 Q8.4 25.6 8.4 17 Z" fill="#f7bd8f"/><path d="M8.7 13 Q9.8 6.6 17 6.3 Q24.2 6.6 25.3 13 Q21 9 17 9 Q13 9 8.7 13 Z" fill="#e0b29a"/><rect x="14.7" y="3" width="4.3" height="7" rx="1" fill="#f04e5a"/><path d="M10.8 14 H14.8 L14.2 15.4 H11.4 Z" fill="#3fb577"/><path d="M19.2 14 H23.2 L22.6 15.4 H19.8 Z" fill="#3fb577"/><circle cx="12.9" cy="15.6" r=".8" fill="#3c3f5c"/><circle cx="21.1" cy="15.6" r=".8" fill="#3c3f5c"/><path d="M14.4 21 H19.6 Q19 23.6 17 23.6 Q15 23.6 14.4 21 Z" fill="#d8304a"/><rect x="15" y="21" width="4" height="1" fill="#fff"/></g></g>
<g transform="translate(1019.6 650.9) scale(0.9941)"><g clip-path="url(#avc)"><rect width="34" height="34" fill="#f4c21c"/><circle cx="17" cy="17" r="12.5" fill="#f6cf4a"/><path d="M2 34 Q3 27.5 10 26.4 L17 25 L24 26.4 Q31 27.5 32 34 Z" fill="#34364f"/><path d="M9.2 27 V5.4 L12.4 9 H21.6 L24.8 5.4 V27 Z" fill="#34364f"/><path d="M11.2 19.4 H22.8 V21.6 Q22.8 26.4 17 26.4 Q11.2 26.4 11.2 21.6 Z" fill="#f9cdb0"/><path d="M11.2 19.4 L17 17.6 L22.8 19.4 L17 20.6 Z" fill="#34364f"/><path d="M11.6 15.4 L15.2 16.6 L12 17 Z" fill="#fff"/><path d="M22.4 15.4 L18.8 16.6 L22 17 Z" fill="#fff"/><rect x="14.4" y="22" width="5.2" height="1.4" fill="#fff"/><path d="M12 30.4 Q14.6 29.4 17 30.6 Q19.4 29.4 22 30.4 Q20.6 32.6 17 32.8 Q13.4 32.6 12 30.4 Z" fill="#f4c21c"/></g></g>
<g transform="translate(1074.1 648.9) scale(0.9941)"><g clip-path="url(#avc)"><rect width="34" height="34" fill="#4cb887"/><circle cx="17" cy="17" r="12.5" fill="#44a38a"/><path d="M4 34 Q4.6 27.6 10.6 26.6 H23.4 Q29.4 27.6 30 34 Z" fill="#2c2e44"/><path d="M13.2 26.6 H20.8 L20 34 H14 Z" fill="#fff"/><path d="M15 28.2 L17 29.2 L19 28.2 V30.2 L17 29.4 L15 30.2 Z" fill="#2c2e44"/><circle cx="9.6" cy="10.6" r="4.2" fill="#fff"/><circle cx="24.4" cy="10.6" r="4.2" fill="#fff"/><circle cx="13" cy="6.6" r="4" fill="#fff"/><circle cx="21" cy="6.6" r="4" fill="#fff"/><circle cx="17" cy="5.6" r="3.6" fill="#fff"/><circle cx="8.2" cy="15.4" r="3.4" fill="#fff"/><circle cx="25.8" cy="15.4" r="3.4" fill="#fff"/><circle cx="9" cy="19.6" r="2.4" fill="#fff"/><circle cx="25" cy="19.6" r="2.4" fill="#fff"/><path d="M10 13 Q10 8.6 17 8.6 Q24 8.6 24 13 V19 Q24 26.8 17 26.8 Q10 26.8 10 19 Z" fill="#f9cdb9"/><path d="M11.4 13.4 Q13.2 12 15.2 13.4" stroke="#fff" stroke-width="1.3" fill="none"/><path d="M18.8 13.4 Q20.8 12 22.6 13.4" stroke="#fff" stroke-width="1.3" fill="none"/><circle cx="13.2" cy="15.4" r=".8" fill="#5a6a8a"/><circle cx="20.8" cy="15.4" r=".8" fill="#5a6a8a"/><path d="M12.8 20.8 Q17 18.2 21.2 20.8 Q17 20.4 12.8 20.8 Z" fill="#fff" stroke="#fff" stroke-width="1"/><path d="M15.2 21.4 H18.8 Q18.6 24.2 17 24.2 Q15.4 24.2 15.2 21.4 Z" fill="#e83040"/></g></g>
<g transform="translate(1128.5 649.8) scale(0.9941)"><g clip-path="url(#avc)"><rect width="34" height="34" fill="#10a2fc"/><circle cx="17" cy="17" r="12.5" fill="#2aa6f4"/><path d="M5.4 34 Q6 24 8.4 14 Q10.4 3.6 17 3.6 Q23.6 3.6 25.6 14 Q28 24 28.6 34 Z" fill="#2e3048"/><path d="M11 12 Q11 5.6 17 5.6 Q23 5.6 23 12 Q23 19 21.4 23 Q20 26.4 17 26.4 Q14 26.4 12.6 23 Q11 19 11 12 Z" fill="#fbfbff"/><ellipse cx="13.4" cy="14.2" rx="1.2" ry=".9" fill="#2e3048"/><ellipse cx="20.6" cy="14.2" rx="1.2" ry=".9" fill="#2e3048"/><rect x="12.8" y="9.4" width="1" height="3.2" fill="#8a8fc0"/><rect x="20.2" y="9.4" width="1" height="3.2" fill="#8a8fc0"/><rect x="12.9" y="16" width=".9" height="3.6" fill="#8a8fc0"/><rect x="20.2" y="16" width=".9" height="3.6" fill="#8a8fc0"/><ellipse cx="17" cy="22.8" rx="1.7" ry=".8" fill="#2e3048"/></g></g>
<g transform="translate(801.3 696.2) scale(0.9941)"><g clip-path="url(#avc)"><rect width="34" height="34" fill="#424565"/><circle cx="17" cy="17" r="12.5" fill="#3a3d5a"/><path d="M3.6 34 Q5 27.4 11 26.8 H23 Q29 27.4 30.4 34 Z" fill="#08a5fa"/><path d="M13 25 H21 V28 Q17 31 13 28 Z" fill="#3fa874"/><circle cx="8" cy="16.4" r="1.7" fill="#46b47e"/><circle cx="26" cy="16.4" r="1.7" fill="#46b47e"/><path d="M8.6 14 Q8.6 5.4 17 5.4 Q25.4 5.4 25.4 14 V18 Q25.4 27 17 27 Q8.6 27 8.6 18 Z" fill="#4aba84"/><path d="M16 5.4 Q23.6 5 25 11.6 Q20.6 12.4 17.6 9.4 Z" fill="#f4664c"/><path d="M11 14.2 H15" stroke="#2e6a58" stroke-width="1"/><circle cx="13" cy="15.6" r=".7" fill="#2e3048"/><ellipse cx="21" cy="15.6" rx="1.8" ry="1.2" fill="#fff"/><circle cx="21.2" cy="15.7" r=".6" fill="#2e3048"/><path d="M14 20.8 Q17 19.6 20 21.4 Q19 24.4 16.6 24.2 Q14.4 24 14 20.8 Z" fill="#7a2438"/><path d="M15.6 22.6 Q17.4 21.6 19 23 Q18 24.4 16.6 24.2 Z" fill="#f0454a"/></g></g>
<g transform="translate(857.7 695.4) scale(0.9941)"><g clip-path="url(#avc)"><rect width="34" height="34" fill="#424565"/><circle cx="17" cy="17" r="12.5" fill="#3a3d5a"/><path d="M5.4 14 Q4 5 9.6 5 Q12.4 5 13 8.4 L12 25 Q7 27 5.6 22 Z" fill="#fbfbff"/><path d="M28.6 14 Q30 5 24.4 5 Q21.6 5 21 8.4 L22 25 Q27 27 28.4 22 Z" fill="#fbfbff"/><path d="M5.3 15 L10.8 14 L11 25.4 Q7 27 5.6 22 Z" fill="#f2868c"/><path d="M5.5 20 L10.9 19 L11 25.4 Q7 27 5.6 22 Z" fill="#ee5560"/><path d="M28.7 15 L23.2 14 L23 25.4 Q27 27 28.4 22 Z" fill="#7fc0f4"/><path d="M28.5 20 L23.1 19 L23 25.4 Q27 27 28.4 22 Z" fill="#3fa0ee"/><rect x="7.2" y="5.6" width="1.8" height="2.6" rx=".8" fill="#f0454a"/><rect x="25" y="5.6" width="1.8" height="2.6" rx=".8" fill="#2f8ee8"/><path d="M3.6 34 Q5 29 10.6 28.4 H23.4 Q29 29 30.4 34 Z" fill="#fbfbff"/><path d="M8.8 26.8 Q17 30.6 25.2 26.8 L26.4 30.6 Q17 33.6 7.6 30.6 Z" fill="#ef4c56"/><path d="M13 26 H21 L19.6 29.6 Q17 30.6 14.4 29.6 Z" fill="#f6d0c0"/><rect x="13.6" y="25.4" width="6.8" height="1.5" fill="#2e3048"/><path d="M10.8 14 Q10.8 8 17 8 Q23.2 8 23.2 14 V18 Q23.2 25.6 17 25.6 Q10.8 25.6 10.8 18 Z" fill="#fadfd4"/><path d="M9.8 15 Q9 5.6 17 5.6 Q25 5.6 24.2 15 Q22 10.4 17 10.6 Q12 10.4 9.8 15 Z" fill="#fbfbff"/><ellipse cx="13.6" cy="16" rx="1.7" ry="1.3" fill="#f4949a"/><ellipse cx="20.4" cy="16" rx="1.7" ry="1.3" fill="#4aa6f0"/><circle cx="13.8" cy="16.1" r=".7" fill="#2e3048"/><circle cx="20.2" cy="16.1" r=".7" fill="#2e3048"/><path d="M14.6 21 H19.4 Q19 23.8 17 23.8 Q15 23.8 14.6 21 Z" fill="#3a2030"/><rect x="15.2" y="21" width="3.6" height=".9" fill="#fff"/></g></g>
<g transform="translate(911.1 696) scale(0.9941)"><g clip-path="url(#avc)"><rect width="34" height="34" fill="#a3a8ca"/><circle cx="17" cy="17" r="12.5" fill="#b7bbd8"/><rect x="7.6" y="5" width="4" height="29" fill="#7c3a3c"/><path d="M1.6 8.4 H19 L20.6 6.8 L21.2 8.4 H25.6 Q27 8.4 27 10 Q27 11.6 25.6 11.6 H4.4 L3.6 13 L3.2 11.6 H1.6 Z" fill="#34364f"/><path d="M10.4 34 V22 Q10.4 13.6 19 13.6 Q28.6 13.6 28.6 23 V34 Z" fill="#a8524a"/><path d="M9 12 H12.4 V22 H9 Z" fill="#a8524a"/><ellipse cx="19.6" cy="23.6" rx="6.8" ry="5" fill="#f3cfb0"/><ellipse cx="15.8" cy="23.4" rx="2.4" ry="1.5" fill="#8a4844" transform="rotate(-20 15.8 23.4)"/><ellipse cx="23.4" cy="23.4" rx="2.4" ry="1.5" fill="#8a4844" transform="rotate(20 23.4 23.4)"/><circle cx="16" cy="23.2" r=".7" fill="#1e1e2e"/><circle cx="23.2" cy="23.2" r=".7" fill="#1e1e2e"/><ellipse cx="19.6" cy="24.6" rx="1.5" ry="1.1" fill="#5a5a6e"/></g></g>
<g transform="translate(965.9 694.7) scale(0.9941)"><g clip-path="url(#avc)"><rect width="34" height="34" fill="#424565"/><circle cx="17" cy="17" r="12.5" fill="#3a3d5a"/><circle cx="17" cy="9.6" r="4.6" fill="#fbfbff"/><circle cx="11.6" cy="11.6" r="4.2" fill="#fbfbff"/><circle cx="22.4" cy="11.6" r="4.2" fill="#fbfbff"/><circle cx="9.6" cy="15.6" r="3.4" fill="#fbfbff"/><circle cx="24.4" cy="15.6" r="3.4" fill="#fbfbff"/><ellipse cx="17" cy="31" rx="15" ry="8.6" fill="#fbfbff"/><circle cx="6" cy="27" r="3.6" fill="#fbfbff"/><circle cx="28" cy="27" r="3.6" fill="#fbfbff"/><path d="M6 15.4 Q9 14.2 11.6 16 Q9 17.6 6 15.4 Z" fill="#6ab4f4"/><path d="M28 15.4 Q25 14.2 22.4 16 Q25 17.6 28 15.4 Z" fill="#6ab4f4"/><path d="M10.8 15.6 Q17 13 23.2 15.6 Q22.6 22 19.6 26.6 Q17 29.6 14.4 26.6 Q11.4 22 10.8 15.6 Z" fill="#1c96f2"/><circle cx="14" cy="18" r=".8" fill="#2e3048"/><circle cx="20" cy="18" r=".8" fill="#2e3048"/><path d="M15.8 22.4 H18.2 L17 24 Z" fill="#2e3048"/><path d="M16.2 25.4 H17.8 V27.4 Q17 28.4 16.2 27.4 Z" fill="#f0454a"/></g></g>
<g transform="translate(1019.6 694.7) scale(0.9941)"><g clip-path="url(#avc)"><rect width="34" height="34" fill="#a3a8ca"/><circle cx="17" cy="17" r="12.5" fill="#9a9fc0"/><path d="M4.4 34 Q5.4 27.6 11 26.6 H23 Q28.6 27.6 29.6 34 Z" fill="#2e3048"/><path d="M14 26 H20 L19.4 34 H14.6 Z" fill="#fff"/><rect x="16.5" y="28.4" width="1.1" height="6" fill="#2e3048"/><rect x="14" y="23" width="6" height="5" fill="#f6d0c0"/><circle cx="8.6" cy="17" r="1.7" fill="#f9dcd0"/><circle cx="25.4" cy="17" r="1.7" fill="#f9dcd0"/><path d="M9.4 14 Q9.4 9 17 9 Q24.6 9 24.6 14 V18 Q24.6 26.4 17 26.4 Q9.4 26.4 9.4 18 Z" fill="#fbe0d6"/><path d="M8.4 16 V12 H12 Q10.2 13 9.8 16.4 Z" fill="#34364f"/><path d="M25.6 16 V12 H22 Q23.8 13 24.2 16.4 Z" fill="#34364f"/><path d="M9.4 10 Q9.4 1.6 17 1.6 Q24.6 1.6 24.6 10 Z" fill="#34364f"/><rect x="9.2" y="9.8" width="15.6" height="1.4" fill="#e8e8f2"/><rect x="8" y="11.2" width="18" height="1.7" rx=".8" fill="#34364f"/><circle cx="13.4" cy="16.6" r=".8" fill="#2e3048"/><circle cx="20.6" cy="16.6" r=".8" fill="#2e3048"/><path d="M12 14.8 L14.8 14.4" stroke="#2e3048" stroke-width=".7"/><path d="M22 14.8 L19.2 14.4" stroke="#2e3048" stroke-width=".7"/><rect x="15.6" y="20.4" width="2.8" height="1.8" rx=".4" fill="#2e3048"/><rect x="16" y="22.8" width="2" height=".9" fill="#f0888a"/></g></g>
<g transform="translate(1074.2 694.4) scale(0.9941)"><g clip-path="url(#avc)"><rect width="34" height="34" fill="#f4525e"/><circle cx="17" cy="17" r="12.5" fill="#f8707c"/><path d="M6.6 34 Q7.6 28.6 12 27.6 H22 Q26.4 28.6 27.4 34 Z" fill="#f5bd95"/><path d="M11.6 28 L15.4 34 H11.4 Z" fill="#fff"/><path d="M22.4 28 L18.6 34 H22.6 Z" fill="#fff"/><path d="M12.4 27.6 L17 34 H12 L11.2 29 Z" fill="#fbfbff"/><path d="M21.6 27.6 L17 34 H22 L22.8 29 Z" fill="#fbfbff"/><rect x="14.6" y="22" width="4.8" height="7" fill="#eaa982"/><circle cx="10.6" cy="13.6" r="5.6" fill="#f7d52c"/><circle cx="23.4" cy="13.6" r="5" fill="#f7d52c"/><circle cx="17" cy="8.6" r="5.4" fill="#f9dc30"/><circle cx="9.6" cy="19" r="3.6" fill="#f2c02a"/><circle cx="24.8" cy="19" r="3.4" fill="#f2c02a"/><circle cx="11.8" cy="22.6" r="2.4" fill="#f2c02a"/><circle cx="23" cy="22.4" r="2.4" fill="#f2c02a"/><path d="M11 14 Q11 9 17 9 Q23 9 23 14 V18 Q23 25.6 17 25.6 Q11 25.6 11 18 Z" fill="#f5bd95"/><path d="M8.6 14 Q10 6.6 17 6.6 Q22 6.6 22.6 9.6 Q19.6 15.6 13 17.6 Q10 18 8.6 14 Z" fill="#f9dc30"/><ellipse cx="20.6" cy="14.8" rx="1.3" ry=".8" fill="#5a6a8a"/><path d="M15 20.8 Q17 19.8 19 20.8 Q17 23 15 20.8 Z" fill="#f0606c"/><circle cx="10.4" cy="19" r=".9" fill="#fff"/><circle cx="24.2" cy="19" r=".9" fill="#fff"/></g></g>
<g transform="translate(1128.9 697.4) scale(0.9941)"><g clip-path="url(#avc)"><rect width="34" height="34" fill="#a3a8ca"/><circle cx="17" cy="17" r="12.5" fill="#b0b5d4"/><path d="M17 2.4 Q21.6 2.4 23.6 9 Q25 14 28 19.6 Q31 26.6 27 31.6 Q23 35.6 17 35.6 Q11 35.6 7 31.6 Q3 26.6 6 19.6 Q9 14 10.4 9 Q12.4 2.4 17 2.4 Z" fill="#7a5a50"/><path d="M17 3.4 Q20.8 3.4 22.6 9.4 Q24 14.4 27 20 Q29.8 26.4 26.2 30.8 Q22.6 34.6 17 34.6 Q11.4 34.6 7.8 30.8 Q4.2 26.4 7 20 Q10 14.4 11.4 9.4 Q13.2 3.4 17 3.4 Z" fill="#4cb46a"/><path d="M17 5.6 Q19.6 5.6 21 10.4 Q22.4 15.4 25 20.4 Q27.4 26 24.6 29.6 Q21.6 32.6 17 32.6 Q12.4 32.6 9.4 29.6 Q6.6 26 9 20.4 Q11.6 15.4 13 10.4 Q14.4 5.6 17 5.6 Z" fill="#c9e6a0"/><ellipse cx="17" cy="10.6" rx="3" ry="3.6" fill="#dff0c0"/><circle cx="13" cy="15.4" r="1.4" fill="#fff"/><circle cx="21" cy="15.4" r="1.4" fill="#fff"/><circle cx="13.2" cy="15.4" r=".9" fill="#34364f"/><circle cx="20.8" cy="15.4" r=".9" fill="#34364f"/><circle cx="17" cy="16.8" r=".9" fill="#a8524a"/><ellipse cx="17" cy="25.4" rx="5.8" ry="6" fill="#34364f"/><path d="M13 29 Q17 24.6 21.6 28 Q20 31.4 17 31.4 Q14.4 31.4 13 29 Z" fill="#f0454a"/></g></g>
<g transform="translate(801.3 743.9) scale(0.9941)"><g clip-path="url(#avc)"><rect width="34" height="34" fill="#4cb887"/><circle cx="17" cy="17" r="12.5" fill="#44a38a"/><path d="M4 34 Q5 27.6 11 26.6 H23 Q29 27.6 30 34 Z" fill="#f9d81e"/><path d="M13.4 26 L17 31.6 L20.6 26 Z" fill="#fbe0d6"/><rect x="14" y="23" width="6" height="4.6" fill="#f2c4a8"/><circle cx="8.8" cy="17.4" r="1.7" fill="#f9d3bd"/><circle cx="25.2" cy="17.4" r="1.7" fill="#f9d3bd"/><path d="M9.6 12 H24.4 V18 Q24.4 26.6 17 26.6 Q9.6 26.6 9.6 18 Z" fill="#fbdcc8"/><path d="M13.8 20.8 Q17 19 20.2 20.8 V24 Q17 27.4 13.8 24 Z" fill="#9a4a3c"/><rect x="15.6" y="21.8" width="2.8" height="1" fill="#fbdcc8"/><path d="M10 14.8 H24 V15.8 H22.8 Q22.6 18.4 20.4 18.4 Q18.4 18.4 18 16 H16 Q15.6 18.4 13.6 18.4 Q11.4 18.4 11.2 15.8 H10 Z" fill="#22243a"/><path d="M6 12.6 Q5 9.6 8.4 9 H25.6 Q29 9.6 28 12.6 Z" fill="#34364f"/><path d="M10.4 10 V7 Q10.4 4.4 13 4.8 Q17 6 21 4.8 Q23.6 4.4 23.6 7 V10 Z" fill="#34364f"/><path d="M5.6 8 L8.6 4.6 L10 6 L7.4 9.4 Z" fill="#f0454a"/><path d="M28.4 8 L25.4 4.6 L24 6 L26.6 9.4 Z" fill="#f0454a"/></g></g>
<g transform="translate(857.7 743.9) scale(0.9941)"><g clip-path="url(#avc)"><rect width="34" height="34" fill="#fb8072"/><circle cx="17" cy="17" r="12.5" fill="#fc7668"/><path d="M1 34 Q2 27.6 9 26.6 H25 Q32 27.6 33 34 Z" fill="#fbd3c0"/><path d="M17 34 L27.6 25.6 L29.6 27.6 L22 34 Z" fill="#1c96f2"/><path d="M19 34 L28.6 26.6 L29.6 27.6 L22 34 Z" fill="#34364f"/><rect x="13.6" y="23" width="6.8" height="5.6" fill="#f2c4a8"/><path d="M8.6 14 Q8.6 3.6 17 3.6 Q25.4 3.6 25.4 14 V19 Q25.4 27 17 27 Q8.6 27 8.6 19 Z" fill="#1c96f2"/><path d="M14.8 3.8 H19.2 V13 H14.8 Z" fill="#34364f"/><rect x="16.3" y="3.6" width="1.4" height="9" fill="#dfe8f7"/><path d="M9 12.6 H15.4 L16.6 15 L15 18 H10.6 L9 15.4 Z" fill="#fbe0d6" stroke="#f0454a" stroke-width="1.3"/><path d="M25 12.6 H18.6 L17.4 15 L19 18 H23.4 L25 15.4 Z" fill="#fbe0d6" stroke="#f0454a" stroke-width="1.3"/><circle cx="12.8" cy="15.4" r=".8" fill="#34364f"/><circle cx="21.2" cy="15.4" r=".8" fill="#34364f"/><path d="M16 15 H18 L18.6 18.6 H15.4 Z" fill="#34364f"/><path d="M11.6 19.6 H22.4 Q22.8 25.6 17 25.6 Q11.2 25.6 11.6 19.6 Z" fill="#f0454a"/><path d="M13 20.8 H21 Q21 24.4 17 24.4 Q13 24.4 13 20.8 Z" fill="#fbd3c0"/><rect x="14" y="21.6" width="6" height="1.3" fill="#fff"/><path d="M14.6 25.6 H19.4 L18.6 27.4 H15.4 Z" fill="#34364f"/></g></g>
<g transform="translate(911.2 743.9) scale(0.9941)"><g clip-path="url(#avc)"><rect width="34" height="34" fill="#4cb887"/><circle cx="17" cy="17" r="12.5" fill="#44a38a"/><path d="M9.4 13 L17 3.6 L24.6 13 Z" fill="#f3f3f8"/><path d="M17 3.6 L24.6 13 H20 Z" fill="#d9d9e4"/><path d="M15.8 5.1 L17 3.6 L18.2 5.1 Z" fill="#34364f"/><rect x="9.4" y="12.6" width="15.2" height="22" fill="#f9dc2c"/><rect x="9.4" y="12.6" width="2.6" height="22" fill="#fbe870"/><rect x="22" y="12.6" width="2.6" height="22" fill="#f2c41c"/><path d="M9.4 12.8 Q11 14.6 12.4 12.8 Q14 14.6 15.5 12.8 Q17 14.6 18.5 12.8 Q20 14.6 21.6 12.8 Q23 14.6 24.6 12.8 V12 H9.4 Z" fill="#f3f3f8"/><path d="M13.2 20 L11.4 18 Q11 16.8 12.2 16.8 Q13 16.8 13.2 17.6 Q13.4 16.8 14.2 16.8 Q15.4 16.8 15 18 Z" fill="#f0454a"/><path d="M20.8 20 L19 18 Q18.6 16.8 19.8 16.8 Q20.6 16.8 20.8 17.6 Q21 16.8 21.8 16.8 Q23 16.8 22.6 18 Z" fill="#f0454a"/><path d="M13.6 22.6 H20.4 Q20 25.8 17 25.8 Q14 25.8 13.6 22.6 Z" fill="#34364f"/><path d="M15.4 24.8 Q17 23.8 18.6 24.8 Q18 25.8 17 25.8 Q16 25.8 15.4 24.8 Z" fill="#f0454a"/></g></g>
<g transform="translate(965.3 744.2) scale(0.9941)"><g clip-path="url(#avc)"><rect width="34" height="34" fill="#fddbd0"/><circle cx="17" cy="17" r="12.5" fill="#fdd2c5"/><path d="M9.8 25.6 V11.6 Q9.8 5.6 16.4 5.6 Q23 5.6 23 11.6 V25.6 Z" fill="#3fb070" stroke="#2e9a60" stroke-width=".8" stroke-dasharray="1 1.4"/><circle cx="16.4" cy="4.8" r="1.7" fill="#f0454a"/><path d="M9.8 12.6 L23 8.6" stroke="#34364f" stroke-width=".8"/><ellipse cx="13" cy="13.6" rx="2" ry="1.7" fill="#34364f"/><path d="M18.6 13.4 Q19.8 12.2 21 13.4" stroke="#34364f" stroke-width=".9" fill="none"/><path d="M13.6 17.4 H20 Q19.6 20.6 16.8 20.6 Q14 20.6 13.6 17.4 Z" fill="#34364f"/><path d="M15.2 19.6 Q16.8 18.6 18.4 19.6 Q17.8 20.6 16.8 20.6 Q15.8 20.6 15.2 19.6 Z" fill="#f0454a"/><rect x="7.8" y="24.6" width="17.4" height="3" fill="#a85e52"/><path d="M9.2 27.6 H23.8 L23 34 H10 Z" fill="#8f524e"/></g></g>
<g transform="translate(1019.1 743.7) scale(0.9941)"><g clip-path="url(#avc)"><rect width="34" height="34" fill="#50536f"/><circle cx="17" cy="17" r="12.5" fill="#6b6e8c"/><path d="M21.6 6.4 Q23 5 24.4 6 Q25.6 4.4 27 5.4" stroke="#8a8da8" stroke-width="1" fill="none"/><path d="M9.4 13 H24.6 L22.6 34 H11.4 Z" fill="#fbfbff"/><path d="M9.4 13 H13 L14 34 H11.4 Z" fill="#e6e8f4"/><rect x="10.8" y="8.6" width="12.4" height="2.6" rx="1" fill="#a9add0"/><rect x="8" y="10.6" width="18" height="3.4" rx="1.4" fill="#9da1c6"/><path d="M8.8 16.4 H25.2 L24.6 24.6 H9.4 Z" fill="#f24e5c"/><path d="M25 18 L30 16.4 L28.6 19 L30.4 21.6 L25 20.4 Z" fill="#f24e5c"/><ellipse cx="13.6" cy="21" rx="1.9" ry="1" fill="#e6e8f4"/><ellipse cx="20.4" cy="21" rx="1.9" ry="1" fill="#e6e8f4"/><circle cx="13.8" cy="21.2" r=".7" fill="#34364f"/><circle cx="20.2" cy="21.2" r=".7" fill="#34364f"/><path d="M12.4 26.8 Q14.6 24.6 17 26.2 Q19.4 24.6 21.6 26.8 Q19.4 27.4 17 26.8 Q14.6 27.4 12.4 26.8 Z" fill="#34364f"/><rect x="15.8" y="28.4" width="2.4" height=".9" fill="#f28a92"/></g></g>
<g transform="translate(1076 743.9) scale(0.9941)"><g clip-path="url(#avc)"><rect width="34" height="34" fill="#10a2fc"/><circle cx="17" cy="17" r="12.5" fill="#49b4f6"/><path d="M13 13 Q15 3.6 25.4 0 L28.4 3.6 Q19 7 17.6 15 Z" fill="#f24e5c"/><path d="M16.2 14 Q18 6 27.4 2.4 L30.4 6 Q22 8.6 20.6 16 Z" fill="#f9d81e"/><path d="M19.4 15 Q21 9 29.6 5.2 L32.6 9 Q25.6 10.6 23.8 17 Z" fill="#4cb887"/><circle cx="10" cy="14.6" r="4.2" fill="#fbfbff"/><circle cx="15.6" cy="15" r="4" fill="#fbfbff"/><circle cx="22" cy="15.4" r="4.2" fill="#fbfbff"/><circle cx="26.4" cy="17.6" r="3.4" fill="#fbfbff"/><circle cx="7.6" cy="19.6" r="4" fill="#fbfbff"/><circle cx="26" cy="22" r="3.8" fill="#fbfbff"/><circle cx="10" cy="24.6" r="4" fill="#f3f3f8"/><circle cx="23.4" cy="26" r="3.6" fill="#f3f3f8"/><rect x="9" y="14" width="17" height="14" fill="#fbfbff"/><rect x="13" y="24" width="9" height="8" fill="#f3f3f8"/><rect x="10.6" y="20.6" width="2.1" height="14" fill="#2d5cb8"/><rect x="19.4" y="20.6" width="2.1" height="14" fill="#2d5cb8"/><path d="M10 20.6 H13.4 M18.8 20.6 H22.2" stroke="#34364f" stroke-width=".9"/><path d="M14.6 25.2 Q16 23.4 17.4 25.2 Z" fill="#34364f"/></g></g>
<g transform="translate(1129.1 745.3) scale(0.9941)"><g clip-path="url(#avc)"><rect width="34" height="34" fill="#424565"/><circle cx="17" cy="17" r="12.5" fill="#3a3d5a"/><path d="M4 34 Q5 28.6 10 27.6 H24 Q29 28.6 30 34 Z" fill="#8f4e48"/><path d="M12.6 27 H21.4 L17 32.6 Z" fill="#2e3048"/><circle cx="7.8" cy="16.6" r="1.9" fill="#f5a078"/><circle cx="26.2" cy="16.6" r="1.9" fill="#f5a078"/><path d="M9.4 9 Q9.4 4.6 13.6 4.6 L17 5.6 L20.4 4.6 Q24.6 4.6 24.6 9 V11 H9.4 Z" fill="#f3ede8"/><path d="M16 3.6 H18 V7 H16 Z" fill="#34364f"/><path d="M9 11 Q9 7 17 7 Q25 7 25 11 V18 Q25 24 21.6 27 Q17 29.6 12.4 27 Q9 24 9 18 Z" fill="#faf6f2"/><path d="M10.6 8.6 H23.4 M10 10.4 H24" stroke="#d8d2d0" stroke-width=".8"/><ellipse cx="13.4" cy="15.6" rx="1.8" ry="1.5" fill="#22243a"/><ellipse cx="20.6" cy="15.6" rx="1.8" ry="1.5" fill="#22243a"/><path d="M15.8 12 L17 14 L18.2 12 Z" fill="#f0454a"/><path d="M11.6 20 L14 18.6 M12 21.6 L14.4 20.2" stroke="#f0454a" stroke-width=".9"/><path d="M22.4 20 L20 18.6 M22 21.6 L19.6 20.2" stroke="#f0454a" stroke-width=".9"/><ellipse cx="17" cy="18.8" rx="1.2" ry="1" fill="#b8c8e8"/><path d="M13 23 H21 M13.6 24.8 H20.4 M15.6 22 V26.6 M18.4 22 V26.6" stroke="#c8c2c0" stroke-width=".7"/></g></g>
</svg>
<div class="ctext geo" style="left:682.05px;top:167.6px">I'm confident our team provides a<br><span style="letter-spacing:0.48px;padding-left:0.48px">product/service that is best in class for the</span><br><span style="letter-spacing:0.60px;padding-left:0.60px">industry.</span></div>
<div class="cl" style="left:832.2px;top:315.6px;color:#1a1a1a">We have no control<br>and no influence over this.</div>
<div class="cl" style="left:832.2px;top:379.5px;color:#0c0a3e">We can influence this.</div>
<div class="cl" style="left:832.2px;top:458.6px;color:#0c0a3e">We can control<br>this.</div>
<div class="qlabel" style="left:1295.2px;top:118.9px;letter-spacing:-0.07px">Question 3</div>
<svg class="cardsvg" style="left:1293px;top:164px" width="520" height="648" viewBox="1293 164 520 648">
<rect x="1295.15" y="165.75" width="513.8" height="641.9" fill="#f2f2f2" stroke="#dadada" stroke-width="1.5"/>
<ellipse cx="1548.4" cy="457.25" rx="171.4" ry="170.4" fill="#c5c3d2" stroke="rgba(40,40,80,.5)" stroke-width="0.9" stroke-dasharray="4.5 1.8"/>
<ellipse cx="1548.4" cy="457.25" rx="118.9" ry="118.3" fill="#524f76"/>
<ellipse cx="1548.4" cy="457.25" rx="62" ry="61.5" fill="#05003a"/>
<g transform="translate(1371.6 649.5) scale(0.9941)"><g clip-path="url(#avc)"><rect width="34" height="34" fill="#fddbd0"/><circle cx="17" cy="17" r="13" fill="#fdd3c6"/><circle cx="6.9" cy="12.6" r="2.5" fill="#a5625c"/><circle cx="26.7" cy="12.6" r="2.5" fill="#a5625c"/><circle cx="6.6" cy="12.8" r="1.2" fill="#f0765c"/><circle cx="27" cy="12.8" r="1.2" fill="#f0765c"/><ellipse cx="16.8" cy="31.5" rx="14.6" ry="9" fill="#9c5b57"/><path d="M6 22 Q5.4 11 16.8 11 Q28.2 11 27.6 22 Q27 29.5 16.8 29.5 Q6.6 29.5 6 22 Z" fill="#ae6b64"/><ellipse cx="16.6" cy="20" rx="5" ry="4.4" fill="#c28c84"/><path d="M14.2 18.2 H19 Q18.6 20 16.6 20 Q14.6 20 14.2 18.2 Z" fill="#37324c"/><rect x="16.2" y="19.6" width=".9" height="2.6" fill="#37324c"/><rect x="9.4" y="5" width="14.4" height="7.2" rx="2.2" fill="#8e8aa4"/><rect x="10.6" y="6.6" width="12" height="5.4" rx="1" fill="#fafafa"/><circle cx="16.5" cy="9.4" r="1.3" fill="#f0454a"/></g></g>
<g transform="translate(1426.5 649.4) scale(0.9941)"><g clip-path="url(#avc)"><rect width="34" height="34" fill="#4cb887"/><circle cx="17" cy="17" r="12.5" fill="#5cc193"/><path d="M4 34 Q5 26.5 12 26 H22 Q29 26.5 30 34 Z" fill="#b5604f"/><rect x="12.6" y="27" width="8.8" height="8" fill="#fff"/><path d="M12 25.5 H22 L20 29.5 H14 Z" fill="#2f6bc4"/><path d="M21 24 L33 22.4 V27 L22 27.5 Z" fill="#2f6bc4"/><path d="M7.4 16 Q7.4 4.6 17 4.6 Q26.6 4.6 26.6 16 V22 H24 V14 H10 V22 H7.4 Z" fill="#a8574a"/><path d="M10 13 H24 V21 Q24 27 17 27 Q10 27 10 21 Z" fill="#f9cdb0"/><path d="M17 13.6 L15.6 16.6 H18.4 Z" fill="#f47a2c"/><path d="M11.4 20.4 Q14 18.6 17 20 Q20 18.6 22.6 20.4 Q20 21.6 17 21 Q14 21.6 11.4 20.4 Z" fill="#f47a2c"/><rect x="15.2" y="21.6" width="3.6" height="1.6" fill="#fff"/><rect x="8" y="8.8" width="18" height="3.6" fill="#3c3f5c"/><circle cx="12.6" cy="10.4" r="3.3" fill="#3c3f5c"/><circle cx="21.4" cy="10.4" r="3.3" fill="#3c3f5c"/><circle cx="12.6" cy="10.4" r="2.1" fill="#7fa0cf"/><circle cx="21.4" cy="10.4" r="2.1" fill="#7fa0cf"/></g></g>
<g transform="translate(1480.8 651.6) scale(0.9941)"><g clip-path="url(#avc)"><rect width="34" height="34" fill="#fb8072"/><circle cx="17" cy="17" r="12.5" fill="#fc9587"/><path d="M0 20.4 H34 V25 H0 Z" fill="#6b8fd0"/><path d="M9.8 25 V13.4 Q9.8 8.4 16.9 5.7 Q24 8.4 24 13.4 V25 Z" fill="#45bb85"/><path d="M16.9 2 L17.6 3.4 L19.1 3.6 L18 4.7 L18.3 6.2 L16.9 5.4 L15.5 6.2 L15.8 4.7 L14.7 3.6 L16.2 3.4 Z" fill="#f9d23a"/><path d="M13.8 12.6 Q16.9 9.6 20 12.6 Z" fill="#2f9a78"/><circle cx="16.9" cy="13.6" r="2.3" fill="#fff"/><circle cx="16.9" cy="13.7" r="1.2" fill="#3c3f5c"/><path d="M13.5 17.8 H20.3 V24 H13.5 Z" fill="#2e3048"/><rect x="13.9" y="17.8" width="6" height="1.3" fill="#fff"/><path d="M14 24 Q16.9 19.8 19.8 24 Z" fill="#f0505a"/><rect x="27" y="13" width="2.4" height="3.8" rx="1" fill="#8a6a5e"/><path d="M0 21.6 Q17 29.6 34 21.6 V34 H0 Z" fill="#dbe6f6"/><path d="M12.4 24.8 Q16.9 26.2 21.4 24.8 V23 H12.4 Z" fill="#45bb85"/><path d="M13.5 22.4 H20.3 V24.4 H13.5 Z" fill="#2e3048"/><path d="M14 24.4 Q16.9 20.6 19.8 24.4 Z" fill="#f0505a"/></g></g>
<g transform="translate(1535.4 651.5) scale(0.9941)"><g clip-path="url(#avc)"><rect width="34" height="34" fill="#a3a8cc"/><circle cx="17" cy="17" r="12.5" fill="#9499bf"/><path d="M6 34 Q6.4 28 10.4 27 H23.6 Q27.6 28 28 34 Z" fill="#f5b98a"/><path d="M8.6 34 V26.4 H12 Q13 30.4 17 30.4 Q21 30.4 22 26.4 H25.4 V34 Z" fill="#2c2e44"/><rect x="14" y="23" width="6" height="5" fill="#eeaa7e"/><circle cx="8" cy="16.4" r="1.6" fill="#f5b98a"/><circle cx="26" cy="16.4" r="1.6" fill="#f5b98a"/><path d="M8.4 15 Q8.4 6.3 17 6.3 Q25.6 6.3 25.6 15 V17 Q25.6 25.6 17 25.6 Q8.4 25.6 8.4 17 Z" fill="#f7bd8f"/><path d="M8.7 13 Q9.8 6.6 17 6.3 Q24.2 6.6 25.3 13 Q21 9 17 9 Q13 9 8.7 13 Z" fill="#e0b29a"/><rect x="14.7" y="3" width="4.3" height="7" rx="1" fill="#f04e5a"/><path d="M10.8 14 H14.8 L14.2 15.4 H11.4 Z" fill="#3fb577"/><path d="M19.2 14 H23.2 L22.6 15.4 H19.8 Z" fill="#3fb577"/><circle cx="12.9" cy="15.6" r=".8" fill="#3c3f5c"/><circle cx="21.1" cy="15.6" r=".8" fill="#3c3f5c"/><path d="M14.4 21 H19.6 Q19 23.6 17 23.6 Q15 23.6 14.4 21 Z" fill="#d8304a"/><rect x="15" y="21" width="4" height="1" fill="#fff"/></g></g>
<g transform="translate(1589.6 651.5) scale(0.9941)"><g clip-path="url(#avc)"><rect width="34" height="34" fill="#f4c21c"/><circle cx="17" cy="17" r="12.5" fill="#f6cf4a"/><path d="M2 34 Q3 27.5 10 26.4 L17 25 L24 26.4 Q31 27.5 32 34 Z" fill="#34364f"/><path d="M9.2 27 V5.4 L12.4 9 H21.6 L24.8 5.4 V27 Z" fill="#34364f"/><path d="M11.2 19.4 H22.8 V21.6 Q22.8 26.4 17 26.4 Q11.2 26.4 11.2 21.6 Z" fill="#f9cdb0"/><path d="M11.2 19.4 L17 17.6 L22.8 19.4 L17 20.6 Z" fill="#34364f"/><path d="M11.6 15.4 L15.2 16.6 L12 17 Z" fill="#fff"/><path d="M22.4 15.4 L18.8 16.6 L22 17 Z" fill="#fff"/><rect x="14.4" y="22" width="5.2" height="1.4" fill="#fff"/><path d="M12 30.4 Q14.6 29.4 17 30.6 Q19.4 29.4 22 30.4 Q20.6 32.6 17 32.8 Q13.4 32.6 12 30.4 Z" fill="#f4c21c"/></g></g>
<g transform="translate(1644.1 649.5) scale(0.9941)"><g clip-path="url(#avc)"><rect width="34" height="34" fill="#4cb887"/><circle cx="17" cy="17" r="12.5" fill="#44a38a"/><path d="M4 34 Q4.6 27.6 10.6 26.6 H23.4 Q29.4 27.6 30 34 Z" fill="#2c2e44"/><path d="M13.2 26.6 H20.8 L20 34 H14 Z" fill="#fff"/><path d="M15 28.2 L17 29.2 L19 28.2 V30.2 L17 29.4 L15 30.2 Z" fill="#2c2e44"/><circle cx="9.6" cy="10.6" r="4.2" fill="#fff"/><circle cx="24.4" cy="10.6" r="4.2" fill="#fff"/><circle cx="13" cy="6.6" r="4" fill="#fff"/><circle cx="21" cy="6.6" r="4" fill="#fff"/><circle cx="17" cy="5.6" r="3.6" fill="#fff"/><circle cx="8.2" cy="15.4" r="3.4" fill="#fff"/><circle cx="25.8" cy="15.4" r="3.4" fill="#fff"/><circle cx="9" cy="19.6" r="2.4" fill="#fff"/><circle cx="25" cy="19.6" r="2.4" fill="#fff"/><path d="M10 13 Q10 8.6 17 8.6 Q24 8.6 24 13 V19 Q24 26.8 17 26.8 Q10 26.8 10 19 Z" fill="#f9cdb9"/><path d="M11.4 13.4 Q13.2 12 15.2 13.4" stroke="#fff" stroke-width="1.3" fill="none"/><path d="M18.8 13.4 Q20.8 12 22.6 13.4" stroke="#fff" stroke-width="1.3" fill="none"/><circle cx="13.2" cy="15.4" r=".8" fill="#5a6a8a"/><circle cx="20.8" cy="15.4" r=".8" fill="#5a6a8a"/><path d="M12.8 20.8 Q17 18.2 21.2 20.8 Q17 20.4 12.8 20.8 Z" fill="#fff" stroke="#fff" stroke-width="1"/><path d="M15.2 21.4 H18.8 Q18.6 24.2 17 24.2 Q15.4 24.2 15.2 21.4 Z" fill="#e83040"/></g></g>
<g transform="translate(1698.5 650.4) scale(0.9941)"><g clip-path="url(#avc)"><rect width="34" height="34" fill="#10a2fc"/><circle cx="17" cy="17" r="12.5" fill="#2aa6f4"/><path d="M5.4 34 Q6 24 8.4 14 Q10.4 3.6 17 3.6 Q23.6 3.6 25.6 14 Q28 24 28.6 34 Z" fill="#2e3048"/><path d="M11 12 Q11 5.6 17 5.6 Q23 5.6 23 12 Q23 19 21.4 23 Q20 26.4 17 26.4 Q14 26.4 12.6 23 Q11 19 11 12 Z" fill="#fbfbff"/><ellipse cx="13.4" cy="14.2" rx="1.2" ry=".9" fill="#2e3048"/><ellipse cx="20.6" cy="14.2" rx="1.2" ry=".9" fill="#2e3048"/><rect x="12.8" y="9.4" width="1" height="3.2" fill="#8a8fc0"/><rect x="20.2" y="9.4" width="1" height="3.2" fill="#8a8fc0"/><rect x="12.9" y="16" width=".9" height="3.6" fill="#8a8fc0"/><rect x="20.2" y="16" width=".9" height="3.6" fill="#8a8fc0"/><ellipse cx="17" cy="22.8" rx="1.7" ry=".8" fill="#2e3048"/></g></g>
<g transform="translate(1371.3 696.8) scale(0.9941)"><g clip-path="url(#avc)"><rect width="34" height="34" fill="#424565"/><circle cx="17" cy="17" r="12.5" fill="#3a3d5a"/><path d="M3.6 34 Q5 27.4 11 26.8 H23 Q29 27.4 30.4 34 Z" fill="#08a5fa"/><path d="M13 25 H21 V28 Q17 31 13 28 Z" fill="#3fa874"/><circle cx="8" cy="16.4" r="1.7" fill="#46b47e"/><circle cx="26" cy="16.4" r="1.7" fill="#46b47e"/><path d="M8.6 14 Q8.6 5.4 17 5.4 Q25.4 5.4 25.4 14 V18 Q25.4 27 17 27 Q8.6 27 8.6 18 Z" fill="#4aba84"/><path d="M16 5.4 Q23.6 5 25 11.6 Q20.6 12.4 17.6 9.4 Z" fill="#f4664c"/><path d="M11 14.2 H15" stroke="#2e6a58" stroke-width="1"/><circle cx="13" cy="15.6" r=".7" fill="#2e3048"/><ellipse cx="21" cy="15.6" rx="1.8" ry="1.2" fill="#fff"/><circle cx="21.2" cy="15.7" r=".6" fill="#2e3048"/><path d="M14 20.8 Q17 19.6 20 21.4 Q19 24.4 16.6 24.2 Q14.4 24 14 20.8 Z" fill="#7a2438"/><path d="M15.6 22.6 Q17.4 21.6 19 23 Q18 24.4 16.6 24.2 Z" fill="#f0454a"/></g></g>
<g transform="translate(1427.7 696) scale(0.9941)"><g clip-path="url(#avc)"><rect width="34" height="34" fill="#424565"/><circle cx="17" cy="17" r="12.5" fill="#3a3d5a"/><path d="M5.4 14 Q4 5 9.6 5 Q12.4 5 13 8.4 L12 25 Q7 27 5.6 22 Z" fill="#fbfbff"/><path d="M28.6 14 Q30 5 24.4 5 Q21.6 5 21 8.4 L22 25 Q27 27 28.4 22 Z" fill="#fbfbff"/><path d="M5.3 15 L10.8 14 L11 25.4 Q7 27 5.6 22 Z" fill="#f2868c"/><path d="M5.5 20 L10.9 19 L11 25.4 Q7 27 5.6 22 Z" fill="#ee5560"/><path d="M28.7 15 L23.2 14 L23 25.4 Q27 27 28.4 22 Z" fill="#7fc0f4"/><path d="M28.5 20 L23.1 19 L23 25.4 Q27 27 28.4 22 Z" fill="#3fa0ee"/><rect x="7.2" y="5.6" width="1.8" height="2.6" rx=".8" fill="#f0454a"/><rect x="25" y="5.6" width="1.8" height="2.6" rx=".8" fill="#2f8ee8"/><path d="M3.6 34 Q5 29 10.6 28.4 H23.4 Q29 29 30.4 34 Z" fill="#fbfbff"/><path d="M8.8 26.8 Q17 30.6 25.2 26.8 L26.4 30.6 Q17 33.6 7.6 30.6 Z" fill="#ef4c56"/><path d="M13 26 H21 L19.6 29.6 Q17 30.6 14.4 29.6 Z" fill="#f6d0c0"/><rect x="13.6" y="25.4" width="6.8" height="1.5" fill="#2e3048"/><path d="M10.8 14 Q10.8 8 17 8 Q23.2 8 23.2 14 V18 Q23.2 25.6 17 25.6 Q10.8 25.6 10.8 18 Z" fill="#fadfd4"/><path d="M9.8 15 Q9 5.6 17 5.6 Q25 5.6 24.2 15 Q22 10.4 17 10.6 Q12 10.4 9.8 15 Z" fill="#fbfbff"/><ellipse cx="13.6" cy="16" rx="1.7" ry="1.3" fill="#f4949a"/><ellipse cx="20.4" cy="16" rx="1.7" ry="1.3" fill="#4aa6f0"/><circle cx="13.8" cy="16.1" r=".7" fill="#2e3048"/><circle cx="20.2" cy="16.1" r=".7" fill="#2e3048"/><path d="M14.6 21 H19.4 Q19 23.8 17 23.8 Q15 23.8 14.6 21 Z" fill="#3a2030"/><rect x="15.2" y="21" width="3.6" height=".9" fill="#fff"/></g></g>
<g transform="translate(1481.1 696.6) scale(0.9941)"><g clip-path="url(#avc)"><rect width="34" height="34" fill="#a3a8ca"/><circle cx="17" cy="17" r="12.5" fill="#b7bbd8"/><rect x="7.6" y="5" width="4" height="29" fill="#7c3a3c"/><path d="M1.6 8.4 H19 L20.6 6.8 L21.2 8.4 H25.6 Q27 8.4 27 10 Q27 11.6 25.6 11.6 H4.4 L3.6 13 L3.2 11.6 H1.6 Z" fill="#34364f"/><path d="M10.4 34 V22 Q10.4 13.6 19 13.6 Q28.6 13.6 28.6 23 V34 Z" fill="#a8524a"/><path d="M9 12 H12.4 V22 H9 Z" fill="#a8524a"/><ellipse cx="19.6" cy="23.6" rx="6.8" ry="5" fill="#f3cfb0"/><ellipse cx="15.8" cy="23.4" rx="2.4" ry="1.5" fill="#8a4844" transform="rotate(-20 15.8 23.4)"/><ellipse cx="23.4" cy="23.4" rx="2.4" ry="1.5" fill="#8a4844" transform="rotate(20 23.4 23.4)"/><circle cx="16" cy="23.2" r=".7" fill="#1e1e2e"/><circle cx="23.2" cy="23.2" r=".7" fill="#1e1e2e"/><ellipse cx="19.6" cy="24.6" rx="1.5" ry="1.1" fill="#5a5a6e"/></g></g>
<g transform="translate(1535.9 695.3) scale(0.9941)"><g clip-path="url(#avc)"><rect width="34" height="34" fill="#424565"/><circle cx="17" cy="17" r="12.5" fill="#3a3d5a"/><circle cx="17" cy="9.6" r="4.6" fill="#fbfbff"/><circle cx="11.6" cy="11.6" r="4.2" fill="#fbfbff"/><circle cx="22.4" cy="11.6" r="4.2" fill="#fbfbff"/><circle cx="9.6" cy="15.6" r="3.4" fill="#fbfbff"/><circle cx="24.4" cy="15.6" r="3.4" fill="#fbfbff"/><ellipse cx="17" cy="31" rx="15" ry="8.6" fill="#fbfbff"/><circle cx="6" cy="27" r="3.6" fill="#fbfbff"/><circle cx="28" cy="27" r="3.6" fill="#fbfbff"/><path d="M6 15.4 Q9 14.2 11.6 16 Q9 17.6 6 15.4 Z" fill="#6ab4f4"/><path d="M28 15.4 Q25 14.2 22.4 16 Q25 17.6 28 15.4 Z" fill="#6ab4f4"/><path d="M10.8 15.6 Q17 13 23.2 15.6 Q22.6 22 19.6 26.6 Q17 29.6 14.4 26.6 Q11.4 22 10.8 15.6 Z" fill="#1c96f2"/><circle cx="14" cy="18" r=".8" fill="#2e3048"/><circle cx="20" cy="18" r=".8" fill="#2e3048"/><path d="M15.8 22.4 H18.2 L17 24 Z" fill="#2e3048"/><path d="M16.2 25.4 H17.8 V27.4 Q17 28.4 16.2 27.4 Z" fill="#f0454a"/></g></g>
<g transform="translate(1589.6 695.3) scale(0.9941)"><g clip-path="url(#avc)"><rect width="34" height="34" fill="#a3a8ca"/><circle cx="17" cy="17" r="12.5" fill="#9a9fc0"/><path d="M4.4 34 Q5.4 27.6 11 26.6 H23 Q28.6 27.6 29.6 34 Z" fill="#2e3048"/><path d="M14 26 H20 L19.4 34 H14.6 Z" fill="#fff"/><rect x="16.5" y="28.4" width="1.1" height="6" fill="#2e3048"/><rect x="14" y="23" width="6" height="5" fill="#f6d0c0"/><circle cx="8.6" cy="17" r="1.7" fill="#f9dcd0"/><circle cx="25.4" cy="17" r="1.7" fill="#f9dcd0"/><path d="M9.4 14 Q9.4 9 17 9 Q24.6 9 24.6 14 V18 Q24.6 26.4 17 26.4 Q9.4 26.4 9.4 18 Z" fill="#fbe0d6"/><path d="M8.4 16 V12 H12 Q10.2 13 9.8 16.4 Z" fill="#34364f"/><path d="M25.6 16 V12 H22 Q23.8 13 24.2 16.4 Z" fill="#34364f"/><path d="M9.4 10 Q9.4 1.6 17 1.6 Q24.6 1.6 24.6 10 Z" fill="#34364f"/><rect x="9.2" y="9.8" width="15.6" height="1.4" fill="#e8e8f2"/><rect x="8" y="11.2" width="18" height="1.7" rx=".8" fill="#34364f"/><circle cx="13.4" cy="16.6" r=".8" fill="#2e3048"/><circle cx="20.6" cy="16.6" r=".8" fill="#2e3048"/><path d="M12 14.8 L14.8 14.4" stroke="#2e3048" stroke-width=".7"/><path d="M22 14.8 L19.2 14.4" stroke="#2e3048" stroke-width=".7"/><rect x="15.6" y="20.4" width="2.8" height="1.8" rx=".4" fill="#2e3048"/><rect x="16" y="22.8" width="2" height=".9" fill="#f0888a"/></g></g>
<g transform="translate(1644.2 695) scale(0.9941)"><g clip-path="url(#avc)"><rect width="34" height="34" fill="#f4525e"/><circle cx="17" cy="17" r="12.5" fill="#f8707c"/><path d="M6.6 34 Q7.6 28.6 12 27.6 H22 Q26.4 28.6 27.4 34 Z" fill="#f5bd95"/><path d="M11.6 28 L15.4 34 H11.4 Z" fill="#fff"/><path d="M22.4 28 L18.6 34 H22.6 Z" fill="#fff"/><path d="M12.4 27.6 L17 34 H12 L11.2 29 Z" fill="#fbfbff"/><path d="M21.6 27.6 L17 34 H22 L22.8 29 Z" fill="#fbfbff"/><rect x="14.6" y="22" width="4.8" height="7" fill="#eaa982"/><circle cx="10.6" cy="13.6" r="5.6" fill="#f7d52c"/><circle cx="23.4" cy="13.6" r="5" fill="#f7d52c"/><circle cx="17" cy="8.6" r="5.4" fill="#f9dc30"/><circle cx="9.6" cy="19" r="3.6" fill="#f2c02a"/><circle cx="24.8" cy="19" r="3.4" fill="#f2c02a"/><circle cx="11.8" cy="22.6" r="2.4" fill="#f2c02a"/><circle cx="23" cy="22.4" r="2.4" fill="#f2c02a"/><path d="M11 14 Q11 9 17 9 Q23 9 23 14 V18 Q23 25.6 17 25.6 Q11 25.6 11 18 Z" fill="#f5bd95"/><path d="M8.6 14 Q10 6.6 17 6.6 Q22 6.6 22.6 9.6 Q19.6 15.6 13 17.6 Q10 18 8.6 14 Z" fill="#f9dc30"/><ellipse cx="20.6" cy="14.8" rx="1.3" ry=".8" fill="#5a6a8a"/><path d="M15 20.8 Q17 19.8 19 20.8 Q17 23 15 20.8 Z" fill="#f0606c"/><circle cx="10.4" cy="19" r=".9" fill="#fff"/><circle cx="24.2" cy="19" r=".9" fill="#fff"/></g></g>
<g transform="translate(1698.9 698) scale(0.9941)"><g clip-path="url(#avc)"><rect width="34" height="34" fill="#a3a8ca"/><circle cx="17" cy="17" r="12.5" fill="#b0b5d4"/><path d="M17 2.4 Q21.6 2.4 23.6 9 Q25 14 28 19.6 Q31 26.6 27 31.6 Q23 35.6 17 35.6 Q11 35.6 7 31.6 Q3 26.6 6 19.6 Q9 14 10.4 9 Q12.4 2.4 17 2.4 Z" fill="#7a5a50"/><path d="M17 3.4 Q20.8 3.4 22.6 9.4 Q24 14.4 27 20 Q29.8 26.4 26.2 30.8 Q22.6 34.6 17 34.6 Q11.4 34.6 7.8 30.8 Q4.2 26.4 7 20 Q10 14.4 11.4 9.4 Q13.2 3.4 17 3.4 Z" fill="#4cb46a"/><path d="M17 5.6 Q19.6 5.6 21 10.4 Q22.4 15.4 25 20.4 Q27.4 26 24.6 29.6 Q21.6 32.6 17 32.6 Q12.4 32.6 9.4 29.6 Q6.6 26 9 20.4 Q11.6 15.4 13 10.4 Q14.4 5.6 17 5.6 Z" fill="#c9e6a0"/><ellipse cx="17" cy="10.6" rx="3" ry="3.6" fill="#dff0c0"/><circle cx="13" cy="15.4" r="1.4" fill="#fff"/><circle cx="21" cy="15.4" r="1.4" fill="#fff"/><circle cx="13.2" cy="15.4" r=".9" fill="#34364f"/><circle cx="20.8" cy="15.4" r=".9" fill="#34364f"/><circle cx="17" cy="16.8" r=".9" fill="#a8524a"/><ellipse cx="17" cy="25.4" rx="5.8" ry="6" fill="#34364f"/><path d="M13 29 Q17 24.6 21.6 28 Q20 31.4 17 31.4 Q14.4 31.4 13 29 Z" fill="#f0454a"/></g></g>
<g transform="translate(1371.3 744.5) scale(0.9941)"><g clip-path="url(#avc)"><rect width="34" height="34" fill="#4cb887"/><circle cx="17" cy="17" r="12.5" fill="#44a38a"/><path d="M4 34 Q5 27.6 11 26.6 H23 Q29 27.6 30 34 Z" fill="#f9d81e"/><path d="M13.4 26 L17 31.6 L20.6 26 Z" fill="#fbe0d6"/><rect x="14" y="23" width="6" height="4.6" fill="#f2c4a8"/><circle cx="8.8" cy="17.4" r="1.7" fill="#f9d3bd"/><circle cx="25.2" cy="17.4" r="1.7" fill="#f9d3bd"/><path d="M9.6 12 H24.4 V18 Q24.4 26.6 17 26.6 Q9.6 26.6 9.6 18 Z" fill="#fbdcc8"/><path d="M13.8 20.8 Q17 19 20.2 20.8 V24 Q17 27.4 13.8 24 Z" fill="#9a4a3c"/><rect x="15.6" y="21.8" width="2.8" height="1" fill="#fbdcc8"/><path d="M10 14.8 H24 V15.8 H22.8 Q22.6 18.4 20.4 18.4 Q18.4 18.4 18 16 H16 Q15.6 18.4 13.6 18.4 Q11.4 18.4 11.2 15.8 H10 Z" fill="#22243a"/><path d="M6 12.6 Q5 9.6 8.4 9 H25.6 Q29 9.6 28 12.6 Z" fill="#34364f"/><path d="M10.4 10 V7 Q10.4 4.4 13 4.8 Q17 6 21 4.8 Q23.6 4.4 23.6 7 V10 Z" fill="#34364f"/><path d="M5.6 8 L8.6 4.6 L10 6 L7.4 9.4 Z" fill="#f0454a"/><path d="M28.4 8 L25.4 4.6 L24 6 L26.6 9.4 Z" fill="#f0454a"/></g></g>
<g transform="translate(1427.7 744.5) scale(0.9941)"><g clip-path="url(#avc)"><rect width="34" height="34" fill="#fb8072"/><circle cx="17" cy="17" r="12.5" fill="#fc7668"/><path d="M1 34 Q2 27.6 9 26.6 H25 Q32 27.6 33 34 Z" fill="#fbd3c0"/><path d="M17 34 L27.6 25.6 L29.6 27.6 L22 34 Z" fill="#1c96f2"/><path d="M19 34 L28.6 26.6 L29.6 27.6 L22 34 Z" fill="#34364f"/><rect x="13.6" y="23" width="6.8" height="5.6" fill="#f2c4a8"/><path d="M8.6 14 Q8.6 3.6 17 3.6 Q25.4 3.6 25.4 14 V19 Q25.4 27 17 27 Q8.6 27 8.6 19 Z" fill="#1c96f2"/><path d="M14.8 3.8 H19.2 V13 H14.8 Z" fill="#34364f"/><rect x="16.3" y="3.6" width="1.4" height="9" fill="#dfe8f7"/><path d="M9 12.6 H15.4 L16.6 15 L15 18 H10.6 L9 15.4 Z" fill="#fbe0d6" stroke="#f0454a" stroke-width="1.3"/><path d="M25 12.6 H18.6 L17.4 15 L19 18 H23.4 L25 15.4 Z" fill="#fbe0d6" stroke="#f0454a" stroke-width="1.3"/><circle cx="12.8" cy="15.4" r=".8" fill="#34364f"/><circle cx="21.2" cy="15.4" r=".8" fill="#34364f"/><path d="M16 15 H18 L18.6 18.6 H15.4 Z" fill="#34364f"/><path d="M11.6 19.6 H22.4 Q22.8 25.6 17 25.6 Q11.2 25.6 11.6 19.6 Z" fill="#f0454a"/><path d="M13 20.8 H21 Q21 24.4 17 24.4 Q13 24.4 13 20.8 Z" fill="#fbd3c0"/><rect x="14" y="21.6" width="6" height="1.3" fill="#fff"/><path d="M14.6 25.6 H19.4 L18.6 27.4 H15.4 Z" fill="#34364f"/></g></g>
<g transform="translate(1481.2 744.5) scale(0.9941)"><g clip-path="url(#avc)"><rect width="34" height="34" fill="#4cb887"/><circle cx="17" cy="17" r="12.5" fill="#44a38a"/><path d="M9.4 13 L17 3.6 L24.6 13 Z" fill="#f3f3f8"/><path d="M17 3.6 L24.6 13 H20 Z" fill="#d9d9e4"/><path d="M15.8 5.1 L17 3.6 L18.2 5.1 Z" fill="#34364f"/><rect x="9.4" y="12.6" width="15.2" height="22" fill="#f9dc2c"/><rect x="9.4" y="12.6" width="2.6" height="22" fill="#fbe870"/><rect x="22" y="12.6" width="2.6" height="22" fill="#f2c41c"/><path d="M9.4 12.8 Q11 14.6 12.4 12.8 Q14 14.6 15.5 12.8 Q17 14.6 18.5 12.8 Q20 14.6 21.6 12.8 Q23 14.6 24.6 12.8 V12 H9.4 Z" fill="#f3f3f8"/><path d="M13.2 20 L11.4 18 Q11 16.8 12.2 16.8 Q13 16.8 13.2 17.6 Q13.4 16.8 14.2 16.8 Q15.4 16.8 15 18 Z" fill="#f0454a"/><path d="M20.8 20 L19 18 Q18.6 16.8 19.8 16.8 Q20.6 16.8 20.8 17.6 Q21 16.8 21.8 16.8 Q23 16.8 22.6 18 Z" fill="#f0454a"/><path d="M13.6 22.6 H20.4 Q20 25.8 17 25.8 Q14 25.8 13.6 22.6 Z" fill="#34364f"/><path d="M15.4 24.8 Q17 23.8 18.6 24.8 Q18 25.8 17 25.8 Q16 25.8 15.4 24.8 Z" fill="#f0454a"/></g></g>
<g transform="translate(1535.3 744.8) scale(0.9941)"><g clip-path="url(#avc)"><rect width="34" height="34" fill="#fddbd0"/><circle cx="17" cy="17" r="12.5" fill="#fdd2c5"/><path d="M9.8 25.6 V11.6 Q9.8 5.6 16.4 5.6 Q23 5.6 23 11.6 V25.6 Z" fill="#3fb070" stroke="#2e9a60" stroke-width=".8" stroke-dasharray="1 1.4"/><circle cx="16.4" cy="4.8" r="1.7" fill="#f0454a"/><path d="M9.8 12.6 L23 8.6" stroke="#34364f" stroke-width=".8"/><ellipse cx="13" cy="13.6" rx="2" ry="1.7" fill="#34364f"/><path d="M18.6 13.4 Q19.8 12.2 21 13.4" stroke="#34364f" stroke-width=".9" fill="none"/><path d="M13.6 17.4 H20 Q19.6 20.6 16.8 20.6 Q14 20.6 13.6 17.4 Z" fill="#34364f"/><path d="M15.2 19.6 Q16.8 18.6 18.4 19.6 Q17.8 20.6 16.8 20.6 Q15.8 20.6 15.2 19.6 Z" fill="#f0454a"/><rect x="7.8" y="24.6" width="17.4" height="3" fill="#a85e52"/><path d="M9.2 27.6 H23.8 L23 34 H10 Z" fill="#8f524e"/></g></g>
<g transform="translate(1589.1 744.3) scale(0.9941)"><g clip-path="url(#avc)"><rect width="34" height="34" fill="#50536f"/><circle cx="17" cy="17" r="12.5" fill="#6b6e8c"/><path d="M21.6 6.4 Q23 5 24.4 6 Q25.6 4.4 27 5.4" stroke="#8a8da8" stroke-width="1" fill="none"/><path d="M9.4 13 H24.6 L22.6 34 H11.4 Z" fill="#fbfbff"/><path d="M9.4 13 H13 L14 34 H11.4 Z" fill="#e6e8f4"/><rect x="10.8" y="8.6" width="12.4" height="2.6" rx="1" fill="#a9add0"/><rect x="8" y="10.6" width="18" height="3.4" rx="1.4" fill="#9da1c6"/><path d="M8.8 16.4 H25.2 L24.6 24.6 H9.4 Z" fill="#f24e5c"/><path d="M25 18 L30 16.4 L28.6 19 L30.4 21.6 L25 20.4 Z" fill="#f24e5c"/><ellipse cx="13.6" cy="21" rx="1.9" ry="1" fill="#e6e8f4"/><ellipse cx="20.4" cy="21" rx="1.9" ry="1" fill="#e6e8f4"/><circle cx="13.8" cy="21.2" r=".7" fill="#34364f"/><circle cx="20.2" cy="21.2" r=".7" fill="#34364f"/><path d="M12.4 26.8 Q14.6 24.6 17 26.2 Q19.4 24.6 21.6 26.8 Q19.4 27.4 17 26.8 Q14.6 27.4 12.4 26.8 Z" fill="#34364f"/><rect x="15.8" y="28.4" width="2.4" height=".9" fill="#f28a92"/></g></g>
<g transform="translate(1646 744.5) scale(0.9941)"><g clip-path="url(#avc)"><rect width="34" height="34" fill="#10a2fc"/><circle cx="17" cy="17" r="12.5" fill="#49b4f6"/><path d="M13 13 Q15 3.6 25.4 0 L28.4 3.6 Q19 7 17.6 15 Z" fill="#f24e5c"/><path d="M16.2 14 Q18 6 27.4 2.4 L30.4 6 Q22 8.6 20.6 16 Z" fill="#f9d81e"/><path d="M19.4 15 Q21 9 29.6 5.2 L32.6 9 Q25.6 10.6 23.8 17 Z" fill="#4cb887"/><circle cx="10" cy="14.6" r="4.2" fill="#fbfbff"/><circle cx="15.6" cy="15" r="4" fill="#fbfbff"/><circle cx="22" cy="15.4" r="4.2" fill="#fbfbff"/><circle cx="26.4" cy="17.6" r="3.4" fill="#fbfbff"/><circle cx="7.6" cy="19.6" r="4" fill="#fbfbff"/><circle cx="26" cy="22" r="3.8" fill="#fbfbff"/><circle cx="10" cy="24.6" r="4" fill="#f3f3f8"/><circle cx="23.4" cy="26" r="3.6" fill="#f3f3f8"/><rect x="9" y="14" width="17" height="14" fill="#fbfbff"/><rect x="13" y="24" width="9" height="8" fill="#f3f3f8"/><rect x="10.6" y="20.6" width="2.1" height="14" fill="#2d5cb8"/><rect x="19.4" y="20.6" width="2.1" height="14" fill="#2d5cb8"/><path d="M10 20.6 H13.4 M18.8 20.6 H22.2" stroke="#34364f" stroke-width=".9"/><path d="M14.6 25.2 Q16 23.4 17.4 25.2 Z" fill="#34364f"/></g></g>
<g transform="translate(1699.1 745.9) scale(0.9941)"><g clip-path="url(#avc)"><rect width="34" height="34" fill="#424565"/><circle cx="17" cy="17" r="12.5" fill="#3a3d5a"/><path d="M4 34 Q5 28.6 10 27.6 H24 Q29 28.6 30 34 Z" fill="#8f4e48"/><path d="M12.6 27 H21.4 L17 32.6 Z" fill="#2e3048"/><circle cx="7.8" cy="16.6" r="1.9" fill="#f5a078"/><circle cx="26.2" cy="16.6" r="1.9" fill="#f5a078"/><path d="M9.4 9 Q9.4 4.6 13.6 4.6 L17 5.6 L20.4 4.6 Q24.6 4.6 24.6 9 V11 H9.4 Z" fill="#f3ede8"/><path d="M16 3.6 H18 V7 H16 Z" fill="#34364f"/><path d="M9 11 Q9 7 17 7 Q25 7 25 11 V18 Q25 24 21.6 27 Q17 29.6 12.4 27 Q9 24 9 18 Z" fill="#faf6f2"/><path d="M10.6 8.6 H23.4 M10 10.4 H24" stroke="#d8d2d0" stroke-width=".8"/><ellipse cx="13.4" cy="15.6" rx="1.8" ry="1.5" fill="#22243a"/><ellipse cx="20.6" cy="15.6" rx="1.8" ry="1.5" fill="#22243a"/><path d="M15.8 12 L17 14 L18.2 12 Z" fill="#f0454a"/><path d="M11.6 20 L14 18.6 M12 21.6 L14.4 20.2" stroke="#f0454a" stroke-width=".9"/><path d="M22.4 20 L20 18.6 M22 21.6 L19.6 20.2" stroke="#f0454a" stroke-width=".9"/><ellipse cx="17" cy="18.8" rx="1.2" ry="1" fill="#b8c8e8"/><path d="M13 23 H21 M13.6 24.8 H20.4 M15.6 22 V26.6 M18.4 22 V26.6" stroke="#c8c2c0" stroke-width=".7"/></g></g>
</svg>
<div class="ctext geo" style="left:1252.05px;top:177.1px">I am happy with my experience on this<br>team.</div>
<div class="cl" style="left:1402px;top:304px;color:#1a1a1a">We have no control<br>and no influence over this.</div>
<div class="cl" style="left:1398.4px;top:369px;color:#ffffff">We can influence this.</div>
<div class="cl" style="left:1398.4px;top:447.8px;color:#ffffff">We can control<br>this.</div>
<div class="qlabel" style="left:155.2px;top:857.5px;letter-spacing:-0.07px">Question 4</div>
<svg class="cardsvg" style="left:153px;top:902px" width="520" height="551" viewBox="153 902 520 551">
<rect x="155.15" y="904.35" width="513.8" height="641.9" fill="#f2f2f2" stroke="#dadada" stroke-width="1.5"/>
<ellipse cx="412.2" cy="1193.2" rx="171.4" ry="170.4" fill="#f6d5da" stroke="rgba(40,40,80,.5)" stroke-width="0.9" stroke-dasharray="4.5 1.8"/>
<ellipse cx="412.2" cy="1193.9" rx="118.9" ry="118.3" fill="#fa929f"/>
<ellipse cx="412.2" cy="1193.9" rx="62" ry="61.5" fill="#fe6477"/>
<g transform="translate(231.6 1385.6) scale(0.9941)"><g clip-path="url(#avc)"><rect width="34" height="34" fill="#fddbd0"/><circle cx="17" cy="17" r="13" fill="#fdd3c6"/><circle cx="6.9" cy="12.6" r="2.5" fill="#a5625c"/><circle cx="26.7" cy="12.6" r="2.5" fill="#a5625c"/><circle cx="6.6" cy="12.8" r="1.2" fill="#f0765c"/><circle cx="27" cy="12.8" r="1.2" fill="#f0765c"/><ellipse cx="16.8" cy="31.5" rx="14.6" ry="9" fill="#9c5b57"/><path d="M6 22 Q5.4 11 16.8 11 Q28.2 11 27.6 22 Q27 29.5 16.8 29.5 Q6.6 29.5 6 22 Z" fill="#ae6b64"/><ellipse cx="16.6" cy="20" rx="5" ry="4.4" fill="#c28c84"/><path d="M14.2 18.2 H19 Q18.6 20 16.6 20 Q14.6 20 14.2 18.2 Z" fill="#37324c"/><rect x="16.2" y="19.6" width=".9" height="2.6" fill="#37324c"/><rect x="9.4" y="5" width="14.4" height="7.2" rx="2.2" fill="#8e8aa4"/><rect x="10.6" y="6.6" width="12" height="5.4" rx="1" fill="#fafafa"/><circle cx="16.5" cy="9.4" r="1.3" fill="#f0454a"/></g></g>
<g transform="translate(286.5 1385.5) scale(0.9941)"><g clip-path="url(#avc)"><rect width="34" height="34" fill="#4cb887"/><circle cx="17" cy="17" r="12.5" fill="#5cc193"/><path d="M4 34 Q5 26.5 12 26 H22 Q29 26.5 30 34 Z" fill="#b5604f"/><rect x="12.6" y="27" width="8.8" height="8" fill="#fff"/><path d="M12 25.5 H22 L20 29.5 H14 Z" fill="#2f6bc4"/><path d="M21 24 L33 22.4 V27 L22 27.5 Z" fill="#2f6bc4"/><path d="M7.4 16 Q7.4 4.6 17 4.6 Q26.6 4.6 26.6 16 V22 H24 V14 H10 V22 H7.4 Z" fill="#a8574a"/><path d="M10 13 H24 V21 Q24 27 17 27 Q10 27 10 21 Z" fill="#f9cdb0"/><path d="M17 13.6 L15.6 16.6 H18.4 Z" fill="#f47a2c"/><path d="M11.4 20.4 Q14 18.6 17 20 Q20 18.6 22.6 20.4 Q20 21.6 17 21 Q14 21.6 11.4 20.4 Z" fill="#f47a2c"/><rect x="15.2" y="21.6" width="3.6" height="1.6" fill="#fff"/><rect x="8" y="8.8" width="18" height="3.6" fill="#3c3f5c"/><circle cx="12.6" cy="10.4" r="3.3" fill="#3c3f5c"/><circle cx="21.4" cy="10.4" r="3.3" fill="#3c3f5c"/><circle cx="12.6" cy="10.4" r="2.1" fill="#7fa0cf"/><circle cx="21.4" cy="10.4" r="2.1" fill="#7fa0cf"/></g></g>
<g transform="translate(340.8 1387.7) scale(0.9941)"><g clip-path="url(#avc)"><rect width="34" height="34" fill="#fb8072"/><circle cx="17" cy="17" r="12.5" fill="#fc9587"/><path d="M0 20.4 H34 V25 H0 Z" fill="#6b8fd0"/><path d="M9.8 25 V13.4 Q9.8 8.4 16.9 5.7 Q24 8.4 24 13.4 V25 Z" fill="#45bb85"/><path d="M16.9 2 L17.6 3.4 L19.1 3.6 L18 4.7 L18.3 6.2 L16.9 5.4 L15.5 6.2 L15.8 4.7 L14.7 3.6 L16.2 3.4 Z" fill="#f9d23a"/><path d="M13.8 12.6 Q16.9 9.6 20 12.6 Z" fill="#2f9a78"/><circle cx="16.9" cy="13.6" r="2.3" fill="#fff"/><circle cx="16.9" cy="13.7" r="1.2" fill="#3c3f5c"/><path d="M13.5 17.8 H20.3 V24 H13.5 Z" fill="#2e3048"/><rect x="13.9" y="17.8" width="6" height="1.3" fill="#fff"/><path d="M14 24 Q16.9 19.8 19.8 24 Z" fill="#f0505a"/><rect x="27" y="13" width="2.4" height="3.8" rx="1" fill="#8a6a5e"/><path d="M0 21.6 Q17 29.6 34 21.6 V34 H0 Z" fill="#dbe6f6"/><path d="M12.4 24.8 Q16.9 26.2 21.4 24.8 V23 H12.4 Z" fill="#45bb85"/><path d="M13.5 22.4 H20.3 V24.4 H13.5 Z" fill="#2e3048"/><path d="M14 24.4 Q16.9 20.6 19.8 24.4 Z" fill="#f0505a"/></g></g>
<g transform="translate(395.4 1387.6) scale(0.9941)"><g clip-path="url(#avc)"><rect width="34" height="34" fill="#a3a8cc"/><circle cx="17" cy="17" r="12.5" fill="#9499bf"/><path d="M6 34 Q6.4 28 10.4 27 H23.6 Q27.6 28 28 34 Z" fill="#f5b98a"/><path d="M8.6 34 V26.4 H12 Q13 30.4 17 30.4 Q21 30.4 22 26.4 H25.4 V34 Z" fill="#2c2e44"/><rect x="14" y="23" width="6" height="5" fill="#eeaa7e"/><circle cx="8" cy="16.4" r="1.6" fill="#f5b98a"/><circle cx="26" cy="16.4" r="1.6" fill="#f5b98a"/><path d="M8.4 15 Q8.4 6.3 17 6.3 Q25.6 6.3 25.6 15 V17 Q25.6 25.6 17 25.6 Q8.4 25.6 8.4 17 Z" fill="#f7bd8f"/><path d="M8.7 13 Q9.8 6.6 17 6.3 Q24.2 6.6 25.3 13 Q21 9 17 9 Q13 9 8.7 13 Z" fill="#e0b29a"/><rect x="14.7" y="3" width="4.3" height="7" rx="1" fill="#f04e5a"/><path d="M10.8 14 H14.8 L14.2 15.4 H11.4 Z" fill="#3fb577"/><path d="M19.2 14 H23.2 L22.6 15.4 H19.8 Z" fill="#3fb577"/><circle cx="12.9" cy="15.6" r=".8" fill="#3c3f5c"/><circle cx="21.1" cy="15.6" r=".8" fill="#3c3f5c"/><path d="M14.4 21 H19.6 Q19 23.6 17 23.6 Q15 23.6 14.4 21 Z" fill="#d8304a"/><rect x="15" y="21" width="4" height="1" fill="#fff"/></g></g>
<g transform="translate(449.6 1387.6) scale(0.9941)"><g clip-path="url(#avc)"><rect width="34" height="34" fill="#f4c21c"/><circle cx="17" cy="17" r="12.5" fill="#f6cf4a"/><path d="M2 34 Q3 27.5 10 26.4 L17 25 L24 26.4 Q31 27.5 32 34 Z" fill="#34364f"/><path d="M9.2 27 V5.4 L12.4 9 H21.6 L24.8 5.4 V27 Z" fill="#34364f"/><path d="M11.2 19.4 H22.8 V21.6 Q22.8 26.4 17 26.4 Q11.2 26.4 11.2 21.6 Z" fill="#f9cdb0"/><path d="M11.2 19.4 L17 17.6 L22.8 19.4 L17 20.6 Z" fill="#34364f"/><path d="M11.6 15.4 L15.2 16.6 L12 17 Z" fill="#fff"/><path d="M22.4 15.4 L18.8 16.6 L22 17 Z" fill="#fff"/><rect x="14.4" y="22" width="5.2" height="1.4" fill="#fff"/><path d="M12 30.4 Q14.6 29.4 17 30.6 Q19.4 29.4 22 30.4 Q20.6 32.6 17 32.8 Q13.4 32.6 12 30.4 Z" fill="#f4c21c"/></g></g>
<g transform="translate(504.1 1385.6) scale(0.9941)"><g clip-path="url(#avc)"><rect width="34" height="34" fill="#4cb887"/><circle cx="17" cy="17" r="12.5" fill="#44a38a"/><path d="M4 34 Q4.6 27.6 10.6 26.6 H23.4 Q29.4 27.6 30 34 Z" fill="#2c2e44"/><path d="M13.2 26.6 H20.8 L20 34 H14 Z" fill="#fff"/><path d="M15 28.2 L17 29.2 L19 28.2 V30.2 L17 29.4 L15 30.2 Z" fill="#2c2e44"/><circle cx="9.6" cy="10.6" r="4.2" fill="#fff"/><circle cx="24.4" cy="10.6" r="4.2" fill="#fff"/><circle cx="13" cy="6.6" r="4" fill="#fff"/><circle cx="21" cy="6.6" r="4" fill="#fff"/><circle cx="17" cy="5.6" r="3.6" fill="#fff"/><circle cx="8.2" cy="15.4" r="3.4" fill="#fff"/><circle cx="25.8" cy="15.4" r="3.4" fill="#fff"/><circle cx="9" cy="19.6" r="2.4" fill="#fff"/><circle cx="25" cy="19.6" r="2.4" fill="#fff"/><path d="M10 13 Q10 8.6 17 8.6 Q24 8.6 24 13 V19 Q24 26.8 17 26.8 Q10 26.8 10 19 Z" fill="#f9cdb9"/><path d="M11.4 13.4 Q13.2 12 15.2 13.4" stroke="#fff" stroke-width="1.3" fill="none"/><path d="M18.8 13.4 Q20.8 12 22.6 13.4" stroke="#fff" stroke-width="1.3" fill="none"/><circle cx="13.2" cy="15.4" r=".8" fill="#5a6a8a"/><circle cx="20.8" cy="15.4" r=".8" fill="#5a6a8a"/><path d="M12.8 20.8 Q17 18.2 21.2 20.8 Q17 20.4 12.8 20.8 Z" fill="#fff" stroke="#fff" stroke-width="1"/><path d="M15.2 21.4 H18.8 Q18.6 24.2 17 24.2 Q15.4 24.2 15.2 21.4 Z" fill="#e83040"/></g></g>
<g transform="translate(558.5 1386.5) scale(0.9941)"><g clip-path="url(#avc)"><rect width="34" height="34" fill="#10a2fc"/><circle cx="17" cy="17" r="12.5" fill="#2aa6f4"/><path d="M5.4 34 Q6 24 8.4 14 Q10.4 3.6 17 3.6 Q23.6 3.6 25.6 14 Q28 24 28.6 34 Z" fill="#2e3048"/><path d="M11 12 Q11 5.6 17 5.6 Q23 5.6 23 12 Q23 19 21.4 23 Q20 26.4 17 26.4 Q14 26.4 12.6 23 Q11 19 11 12 Z" fill="#fbfbff"/><ellipse cx="13.4" cy="14.2" rx="1.2" ry=".9" fill="#2e3048"/><ellipse cx="20.6" cy="14.2" rx="1.2" ry=".9" fill="#2e3048"/><rect x="12.8" y="9.4" width="1" height="3.2" fill="#8a8fc0"/><rect x="20.2" y="9.4" width="1" height="3.2" fill="#8a8fc0"/><rect x="12.9" y="16" width=".9" height="3.6" fill="#8a8fc0"/><rect x="20.2" y="16" width=".9" height="3.6" fill="#8a8fc0"/><ellipse cx="17" cy="22.8" rx="1.7" ry=".8" fill="#2e3048"/></g></g>
<g transform="translate(231.3 1432.9) scale(0.9941)"><g clip-path="url(#avc)"><rect width="34" height="34" fill="#424565"/><circle cx="17" cy="17" r="12.5" fill="#3a3d5a"/><path d="M3.6 34 Q5 27.4 11 26.8 H23 Q29 27.4 30.4 34 Z" fill="#08a5fa"/><path d="M13 25 H21 V28 Q17 31 13 28 Z" fill="#3fa874"/><circle cx="8" cy="16.4" r="1.7" fill="#46b47e"/><circle cx="26" cy="16.4" r="1.7" fill="#46b47e"/><path d="M8.6 14 Q8.6 5.4 17 5.4 Q25.4 5.4 25.4 14 V18 Q25.4 27 17 27 Q8.6 27 8.6 18 Z" fill="#4aba84"/><path d="M16 5.4 Q23.6 5 25 11.6 Q20.6 12.4 17.6 9.4 Z" fill="#f4664c"/><path d="M11 14.2 H15" stroke="#2e6a58" stroke-width="1"/><circle cx="13" cy="15.6" r=".7" fill="#2e3048"/><ellipse cx="21" cy="15.6" rx="1.8" ry="1.2" fill="#fff"/><circle cx="21.2" cy="15.7" r=".6" fill="#2e3048"/><path d="M14 20.8 Q17 19.6 20 21.4 Q19 24.4 16.6 24.2 Q14.4 24 14 20.8 Z" fill="#7a2438"/><path d="M15.6 22.6 Q17.4 21.6 19 23 Q18 24.4 16.6 24.2 Z" fill="#f0454a"/></g></g>
<g transform="translate(287.7 1432.1) scale(0.9941)"><g clip-path="url(#avc)"><rect width="34" height="34" fill="#424565"/><circle cx="17" cy="17" r="12.5" fill="#3a3d5a"/><path d="M5.4 14 Q4 5 9.6 5 Q12.4 5 13 8.4 L12 25 Q7 27 5.6 22 Z" fill="#fbfbff"/><path d="M28.6 14 Q30 5 24.4 5 Q21.6 5 21 8.4 L22 25 Q27 27 28.4 22 Z" fill="#fbfbff"/><path d="M5.3 15 L10.8 14 L11 25.4 Q7 27 5.6 22 Z" fill="#f2868c"/><path d="M5.5 20 L10.9 19 L11 25.4 Q7 27 5.6 22 Z" fill="#ee5560"/><path d="M28.7 15 L23.2 14 L23 25.4 Q27 27 28.4 22 Z" fill="#7fc0f4"/><path d="M28.5 20 L23.1 19 L23 25.4 Q27 27 28.4 22 Z" fill="#3fa0ee"/><rect x="7.2" y="5.6" width="1.8" height="2.6" rx=".8" fill="#f0454a"/><rect x="25" y="5.6" width="1.8" height="2.6" rx=".8" fill="#2f8ee8"/><path d="M3.6 34 Q5 29 10.6 28.4 H23.4 Q29 29 30.4 34 Z" fill="#fbfbff"/><path d="M8.8 26.8 Q17 30.6 25.2 26.8 L26.4 30.6 Q17 33.6 7.6 30.6 Z" fill="#ef4c56"/><path d="M13 26 H21 L19.6 29.6 Q17 30.6 14.4 29.6 Z" fill="#f6d0c0"/><rect x="13.6" y="25.4" width="6.8" height="1.5" fill="#2e3048"/><path d="M10.8 14 Q10.8 8 17 8 Q23.2 8 23.2 14 V18 Q23.2 25.6 17 25.6 Q10.8 25.6 10.8 18 Z" fill="#fadfd4"/><path d="M9.8 15 Q9 5.6 17 5.6 Q25 5.6 24.2 15 Q22 10.4 17 10.6 Q12 10.4 9.8 15 Z" fill="#fbfbff"/><ellipse cx="13.6" cy="16" rx="1.7" ry="1.3" fill="#f4949a"/><ellipse cx="20.4" cy="16" rx="1.7" ry="1.3" fill="#4aa6f0"/><circle cx="13.8" cy="16.1" r=".7" fill="#2e3048"/><circle cx="20.2" cy="16.1" r=".7" fill="#2e3048"/><path d="M14.6 21 H19.4 Q19 23.8 17 23.8 Q15 23.8 14.6 21 Z" fill="#3a2030"/><rect x="15.2" y="21" width="3.6" height=".9" fill="#fff"/></g></g>
<g transform="translate(341.1 1432.7) scale(0.9941)"><g clip-path="url(#avc)"><rect width="34" height="34" fill="#a3a8ca"/><circle cx="17" cy="17" r="12.5" fill="#b7bbd8"/><rect x="7.6" y="5" width="4" height="29" fill="#7c3a3c"/><path d="M1.6 8.4 H19 L20.6 6.8 L21.2 8.4 H25.6 Q27 8.4 27 10 Q27 11.6 25.6 11.6 H4.4 L3.6 13 L3.2 11.6 H1.6 Z" fill="#34364f"/><path d="M10.4 34 V22 Q10.4 13.6 19 13.6 Q28.6 13.6 28.6 23 V34 Z" fill="#a8524a"/><path d="M9 12 H12.4 V22 H9 Z" fill="#a8524a"/><ellipse cx="19.6" cy="23.6" rx="6.8" ry="5" fill="#f3cfb0"/><ellipse cx="15.8" cy="23.4" rx="2.4" ry="1.5" fill="#8a4844" transform="rotate(-20 15.8 23.4)"/><ellipse cx="23.4" cy="23.4" rx="2.4" ry="1.5" fill="#8a4844" transform="rotate(20 23.4 23.4)"/><circle cx="16" cy="23.2" r=".7" fill="#1e1e2e"/><circle cx="23.2" cy="23.2" r=".7" fill="#1e1e2e"/><ellipse cx="19.6" cy="24.6" rx="1.5" ry="1.1" fill="#5a5a6e"/></g></g>
<g transform="translate(395.9 1431.4) scale(0.9941)"><g clip-path="url(#avc)"><rect width="34" height="34" fill="#424565"/><circle cx="17" cy="17" r="12.5" fill="#3a3d5a"/><circle cx="17" cy="9.6" r="4.6" fill="#fbfbff"/><circle cx="11.6" cy="11.6" r="4.2" fill="#fbfbff"/><circle cx="22.4" cy="11.6" r="4.2" fill="#fbfbff"/><circle cx="9.6" cy="15.6" r="3.4" fill="#fbfbff"/><circle cx="24.4" cy="15.6" r="3.4" fill="#fbfbff"/><ellipse cx="17" cy="31" rx="15" ry="8.6" fill="#fbfbff"/><circle cx="6" cy="27" r="3.6" fill="#fbfbff"/><circle cx="28" cy="27" r="3.6" fill="#fbfbff"/><path d="M6 15.4 Q9 14.2 11.6 16 Q9 17.6 6 15.4 Z" fill="#6ab4f4"/><path d="M28 15.4 Q25 14.2 22.4 16 Q25 17.6 28 15.4 Z" fill="#6ab4f4"/><path d="M10.8 15.6 Q17 13 23.2 15.6 Q22.6 22 19.6 26.6 Q17 29.6 14.4 26.6 Q11.4 22 10.8 15.6 Z" fill="#1c96f2"/><circle cx="14" cy="18" r=".8" fill="#2e3048"/><circle cx="20" cy="18" r=".8" fill="#2e3048"/><path d="M15.8 22.4 H18.2 L17 24 Z" fill="#2e3048"/><path d="M16.2 25.4 H17.8 V27.4 Q17 28.4 16.2 27.4 Z" fill="#f0454a"/></g></g>
<g transform="translate(449.6 1431.4) scale(0.9941)"><g clip-path="url(#avc)"><rect width="34" height="34" fill="#a3a8ca"/><circle cx="17" cy="17" r="12.5" fill="#9a9fc0"/><path d="M4.4 34 Q5.4 27.6 11 26.6 H23 Q28.6 27.6 29.6 34 Z" fill="#2e3048"/><path d="M14 26 H20 L19.4 34 H14.6 Z" fill="#fff"/><rect x="16.5" y="28.4" width="1.1" height="6" fill="#2e3048"/><rect x="14" y="23" width="6" height="5" fill="#f6d0c0"/><circle cx="8.6" cy="17" r="1.7" fill="#f9dcd0"/><circle cx="25.4" cy="17" r="1.7" fill="#f9dcd0"/><path d="M9.4 14 Q9.4 9 17 9 Q24.6 9 24.6 14 V18 Q24.6 26.4 17 26.4 Q9.4 26.4 9.4 18 Z" fill="#fbe0d6"/><path d="M8.4 16 V12 H12 Q10.2 13 9.8 16.4 Z" fill="#34364f"/><path d="M25.6 16 V12 H22 Q23.8 13 24.2 16.4 Z" fill="#34364f"/><path d="M9.4 10 Q9.4 1.6 17 1.6 Q24.6 1.6 24.6 10 Z" fill="#34364f"/><rect x="9.2" y="9.8" width="15.6" height="1.4" fill="#e8e8f2"/><rect x="8" y="11.2" width="18" height="1.7" rx=".8" fill="#34364f"/><circle cx="13.4" cy="16.6" r=".8" fill="#2e3048"/><circle cx="20.6" cy="16.6" r=".8" fill="#2e3048"/><path d="M12 14.8 L14.8 14.4" stroke="#2e3048" stroke-width=".7"/><path d="M22 14.8 L19.2 14.4" stroke="#2e3048" stroke-width=".7"/><rect x="15.6" y="20.4" width="2.8" height="1.8" rx=".4" fill="#2e3048"/><rect x="16" y="22.8" width="2" height=".9" fill="#f0888a"/></g></g>
<g transform="translate(504.2 1431.1) scale(0.9941)"><g clip-path="url(#avc)"><rect width="34" height="34" fill="#f4525e"/><circle cx="17" cy="17" r="12.5" fill="#f8707c"/><path d="M6.6 34 Q7.6 28.6 12 27.6 H22 Q26.4 28.6 27.4 34 Z" fill="#f5bd95"/><path d="M11.6 28 L15.4 34 H11.4 Z" fill="#fff"/><path d="M22.4 28 L18.6 34 H22.6 Z" fill="#fff"/><path d="M12.4 27.6 L17 34 H12 L11.2 29 Z" fill="#fbfbff"/><path d="M21.6 27.6 L17 34 H22 L22.8 29 Z" fill="#fbfbff"/><rect x="14.6" y="22" width="4.8" height="7" fill="#eaa982"/><circle cx="10.6" cy="13.6" r="5.6" fill="#f7d52c"/><circle cx="23.4" cy="13.6" r="5" fill="#f7d52c"/><circle cx="17" cy="8.6" r="5.4" fill="#f9dc30"/><circle cx="9.6" cy="19" r="3.6" fill="#f2c02a"/><circle cx="24.8" cy="19" r="3.4" fill="#f2c02a"/><circle cx="11.8" cy="22.6" r="2.4" fill="#f2c02a"/><circle cx="23" cy="22.4" r="2.4" fill="#f2c02a"/><path d="M11 14 Q11 9 17 9 Q23 9 23 14 V18 Q23 25.6 17 25.6 Q11 25.6 11 18 Z" fill="#f5bd95"/><path d="M8.6 14 Q10 6.6 17 6.6 Q22 6.6 22.6 9.6 Q19.6 15.6 13 17.6 Q10 18 8.6 14 Z" fill="#f9dc30"/><ellipse cx="20.6" cy="14.8" rx="1.3" ry=".8" fill="#5a6a8a"/><path d="M15 20.8 Q17 19.8 19 20.8 Q17 23 15 20.8 Z" fill="#f0606c"/><circle cx="10.4" cy="19" r=".9" fill="#fff"/><circle cx="24.2" cy="19" r=".9" fill="#fff"/></g></g>
<g transform="translate(558.9 1434.1) scale(0.9941)"><g clip-path="url(#avc)"><rect width="34" height="34" fill="#a3a8ca"/><circle cx="17" cy="17" r="12.5" fill="#b0b5d4"/><path d="M17 2.4 Q21.6 2.4 23.6 9 Q25 14 28 19.6 Q31 26.6 27 31.6 Q23 35.6 17 35.6 Q11 35.6 7 31.6 Q3 26.6 6 19.6 Q9 14 10.4 9 Q12.4 2.4 17 2.4 Z" fill="#7a5a50"/><path d="M17 3.4 Q20.8 3.4 22.6 9.4 Q24 14.4 27 20 Q29.8 26.4 26.2 30.8 Q22.6 34.6 17 34.6 Q11.4 34.6 7.8 30.8 Q4.2 26.4 7 20 Q10 14.4 11.4 9.4 Q13.2 3.4 17 3.4 Z" fill="#4cb46a"/><path d="M17 5.6 Q19.6 5.6 21 10.4 Q22.4 15.4 25 20.4 Q27.4 26 24.6 29.6 Q21.6 32.6 17 32.6 Q12.4 32.6 9.4 29.6 Q6.6 26 9 20.4 Q11.6 15.4 13 10.4 Q14.4 5.6 17 5.6 Z" fill="#c9e6a0"/><ellipse cx="17" cy="10.6" rx="3" ry="3.6" fill="#dff0c0"/><circle cx="13" cy="15.4" r="1.4" fill="#fff"/><circle cx="21" cy="15.4" r="1.4" fill="#fff"/><circle cx="13.2" cy="15.4" r=".9" fill="#34364f"/><circle cx="20.8" cy="15.4" r=".9" fill="#34364f"/><circle cx="17" cy="16.8" r=".9" fill="#a8524a"/><ellipse cx="17" cy="25.4" rx="5.8" ry="6" fill="#34364f"/><path d="M13 29 Q17 24.6 21.6 28 Q20 31.4 17 31.4 Q14.4 31.4 13 29 Z" fill="#f0454a"/></g></g>
</svg>
<div class="ctext geo" style="left:112.05px;top:913.7px">Our team regularly prioritizes against plans<br><span style="letter-spacing:0.40px;padding-left:0.40px">that reflect company priorities and grey</span><br><span style="letter-spacing:-0.40px;padding-left:-0.40px">work.</span></div>
<div class="cl" style="left:262.2px;top:1041.3px;color:#1a1a1a">We have no control<br>and no influence over this.</div>
<div class="cl" style="left:262.2px;top:1105.1px;color:#1a1a1a">We can influence this.</div>
<div class="cl" style="left:262.2px;top:1184.2px;color:#1a1a1a">We can control<br>this.</div>
<div class="qlabel" style="left:725.2px;top:857.5px;letter-spacing:-0.07px">Question 5</div>
<svg class="cardsvg" style="left:723px;top:902px" width="520" height="551" viewBox="723 902 520 551">
<rect x="725.15" y="904.35" width="513.8" height="641.9" fill="#f2f2f2" stroke="#dadada" stroke-width="1.5"/>
<ellipse cx="982.2" cy="1193.4" rx="171.4" ry="170.4" fill="#f6ebc6" stroke="rgba(40,40,80,.5)" stroke-width="0.9" stroke-dasharray="4.5 1.8"/>
<ellipse cx="982.2" cy="1194.1" rx="118.9" ry="118.3" fill="#fadd5c"/>
<ellipse cx="982.2" cy="1194.1" rx="62" ry="61.5" fill="#fed213"/>
<g transform="translate(801.6 1382.1) scale(0.9941)"><g clip-path="url(#avc)"><rect width="34" height="34" fill="#fddbd0"/><circle cx="17" cy="17" r="13" fill="#fdd3c6"/><circle cx="6.9" cy="12.6" r="2.5" fill="#a5625c"/><circle cx="26.7" cy="12.6" r="2.5" fill="#a5625c"/><circle cx="6.6" cy="12.8" r="1.2" fill="#f0765c"/><circle cx="27" cy="12.8" r="1.2" fill="#f0765c"/><ellipse cx="16.8" cy="31.5" rx="14.6" ry="9" fill="#9c5b57"/><path d="M6 22 Q5.4 11 16.8 11 Q28.2 11 27.6 22 Q27 29.5 16.8 29.5 Q6.6 29.5 6 22 Z" fill="#ae6b64"/><ellipse cx="16.6" cy="20" rx="5" ry="4.4" fill="#c28c84"/><path d="M14.2 18.2 H19 Q18.6 20 16.6 20 Q14.6 20 14.2 18.2 Z" fill="#37324c"/><rect x="16.2" y="19.6" width=".9" height="2.6" fill="#37324c"/><rect x="9.4" y="5" width="14.4" height="7.2" rx="2.2" fill="#8e8aa4"/><rect x="10.6" y="6.6" width="12" height="5.4" rx="1" fill="#fafafa"/><circle cx="16.5" cy="9.4" r="1.3" fill="#f0454a"/></g></g>
<g transform="translate(856.5 1382) scale(0.9941)"><g clip-path="url(#avc)"><rect width="34" height="34" fill="#4cb887"/><circle cx="17" cy="17" r="12.5" fill="#5cc193"/><path d="M4 34 Q5 26.5 12 26 H22 Q29 26.5 30 34 Z" fill="#b5604f"/><rect x="12.6" y="27" width="8.8" height="8" fill="#fff"/><path d="M12 25.5 H22 L20 29.5 H14 Z" fill="#2f6bc4"/><path d="M21 24 L33 22.4 V27 L22 27.5 Z" fill="#2f6bc4"/><path d="M7.4 16 Q7.4 4.6 17 4.6 Q26.6 4.6 26.6 16 V22 H24 V14 H10 V22 H7.4 Z" fill="#a8574a"/><path d="M10 13 H24 V21 Q24 27 17 27 Q10 27 10 21 Z" fill="#f9cdb0"/><path d="M17 13.6 L15.6 16.6 H18.4 Z" fill="#f47a2c"/><path d="M11.4 20.4 Q14 18.6 17 20 Q20 18.6 22.6 20.4 Q20 21.6 17 21 Q14 21.6 11.4 20.4 Z" fill="#f47a2c"/><rect x="15.2" y="21.6" width="3.6" height="1.6" fill="#fff"/><rect x="8" y="8.8" width="18" height="3.6" fill="#3c3f5c"/><circle cx="12.6" cy="10.4" r="3.3" fill="#3c3f5c"/><circle cx="21.4" cy="10.4" r="3.3" fill="#3c3f5c"/><circle cx="12.6" cy="10.4" r="2.1" fill="#7fa0cf"/><circle cx="21.4" cy="10.4" r="2.1" fill="#7fa0cf"/></g></g>
<g transform="translate(910.8 1384.2) scale(0.9941)"><g clip-path="url(#avc)"><rect width="34" height="34" fill="#fb8072"/><circle cx="17" cy="17" r="12.5" fill="#fc9587"/><path d="M0 20.4 H34 V25 H0 Z" fill="#6b8fd0"/><path d="M9.8 25 V13.4 Q9.8 8.4 16.9 5.7 Q24 8.4 24 13.4 V25 Z" fill="#45bb85"/><path d="M16.9 2 L17.6 3.4 L19.1 3.6 L18 4.7 L18.3 6.2 L16.9 5.4 L15.5 6.2 L15.8 4.7 L14.7 3.6 L16.2 3.4 Z" fill="#f9d23a"/><path d="M13.8 12.6 Q16.9 9.6 20 12.6 Z" fill="#2f9a78"/><circle cx="16.9" cy="13.6" r="2.3" fill="#fff"/><circle cx="16.9" cy="13.7" r="1.2" fill="#3c3f5c"/><path d="M13.5 17.8 H20.3 V24 H13.5 Z" fill="#2e3048"/><rect x="13.9" y="17.8" width="6" height="1.3" fill="#fff"/><path d="M14 24 Q16.9 19.8 19.8 24 Z" fill="#f0505a"/><rect x="27" y="13" width="2.4" height="3.8" rx="1" fill="#8a6a5e"/><path d="M0 21.6 Q17 29.6 34 21.6 V34 H0 Z" fill="#dbe6f6"/><path d="M12.4 24.8 Q16.9 26.2 21.4 24.8 V23 H12.4 Z" fill="#45bb85"/><path d="M13.5 22.4 H20.3 V24.4 H13.5 Z" fill="#2e3048"/><path d="M14 24.4 Q16.9 20.6 19.8 24.4 Z" fill="#f0505a"/></g></g>
<g transform="translate(965.4 1384.1) scale(0.9941)"><g clip-path="url(#avc)"><rect width="34" height="34" fill="#a3a8cc"/><circle cx="17" cy="17" r="12.5" fill="#9499bf"/><path d="M6 34 Q6.4 28 10.4 27 H23.6 Q27.6 28 28 34 Z" fill="#f5b98a"/><path d="M8.6 34 V26.4 H12 Q13 30.4 17 30.4 Q21 30.4 22 26.4 H25.4 V34 Z" fill="#2c2e44"/><rect x="14" y="23" width="6" height="5" fill="#eeaa7e"/><circle cx="8" cy="16.4" r="1.6" fill="#f5b98a"/><circle cx="26" cy="16.4" r="1.6" fill="#f5b98a"/><path d="M8.4 15 Q8.4 6.3 17 6.3 Q25.6 6.3 25.6 15 V17 Q25.6 25.6 17 25.6 Q8.4 25.6 8.4 17 Z" fill="#f7bd8f"/><path d="M8.7 13 Q9.8 6.6 17 6.3 Q24.2 6.6 25.3 13 Q21 9 17 9 Q13 9 8.7 13 Z" fill="#e0b29a"/><rect x="14.7" y="3" width="4.3" height="7" rx="1" fill="#f04e5a"/><path d="M10.8 14 H14.8 L14.2 15.4 H11.4 Z" fill="#3fb577"/><path d="M19.2 14 H23.2 L22.6 15.4 H19.8 Z" fill="#3fb577"/><circle cx="12.9" cy="15.6" r=".8" fill="#3c3f5c"/><circle cx="21.1" cy="15.6" r=".8" fill="#3c3f5c"/><path d="M14.4 21 H19.6 Q19 23.6 17 23.6 Q15 23.6 14.4 21 Z" fill="#d8304a"/><rect x="15" y="21" width="4" height="1" fill="#fff"/></g></g>
<g transform="translate(1019.6 1384.1) scale(0.9941)"><g clip-path="url(#avc)"><rect width="34" height="34" fill="#f4c21c"/><circle cx="17" cy="17" r="12.5" fill="#f6cf4a"/><path d="M2 34 Q3 27.5 10 26.4 L17 25 L24 26.4 Q31 27.5 32 34 Z" fill="#34364f"/><path d="M9.2 27 V5.4 L12.4 9 H21.6 L24.8 5.4 V27 Z" fill="#34364f"/><path d="M11.2 19.4 H22.8 V21.6 Q22.8 26.4 17 26.4 Q11.2 26.4 11.2 21.6 Z" fill="#f9cdb0"/><path d="M11.2 19.4 L17 17.6 L22.8 19.4 L17 20.6 Z" fill="#34364f"/><path d="M11.6 15.4 L15.2 16.6 L12 17 Z" fill="#fff"/><path d="M22.4 15.4 L18.8 16.6 L22 17 Z" fill="#fff"/><rect x="14.4" y="22" width="5.2" height="1.4" fill="#fff"/><path d="M12 30.4 Q14.6 29.4 17 30.6 Q19.4 29.4 22 30.4 Q20.6 32.6 17 32.8 Q13.4 32.6 12 30.4 Z" fill="#f4c21c"/></g></g>
<g transform="translate(1074.1 1382.1) scale(0.9941)"><g clip-path="url(#avc)"><rect width="34" height="34" fill="#4cb887"/><circle cx="17" cy="17" r="12.5" fill="#44a38a"/><path d="M4 34 Q4.6 27.6 10.6 26.6 H23.4 Q29.4 27.6 30 34 Z" fill="#2c2e44"/><path d="M13.2 26.6 H20.8 L20 34 H14 Z" fill="#fff"/><path d="M15 28.2 L17 29.2 L19 28.2 V30.2 L17 29.4 L15 30.2 Z" fill="#2c2e44"/><circle cx="9.6" cy="10.6" r="4.2" fill="#fff"/><circle cx="24.4" cy="10.6" r="4.2" fill="#fff"/><circle cx="13" cy="6.6" r="4" fill="#fff"/><circle cx="21" cy="6.6" r="4" fill="#fff"/><circle cx="17" cy="5.6" r="3.6" fill="#fff"/><circle cx="8.2" cy="15.4" r="3.4" fill="#fff"/><circle cx="25.8" cy="15.4" r="3.4" fill="#fff"/><circle cx="9" cy="19.6" r="2.4" fill="#fff"/><circle cx="25" cy="19.6" r="2.4" fill="#fff"/><path d="M10 13 Q10 8.6 17 8.6 Q24 8.6 24 13 V19 Q24 26.8 17 26.8 Q10 26.8 10 19 Z" fill="#f9cdb9"/><path d="M11.4 13.4 Q13.2 12 15.2 13.4" stroke="#fff" stroke-width="1.3" fill="none"/><path d="M18.8 13.4 Q20.8 12 22.6 13.4" stroke="#fff" stroke-width="1.3" fill="none"/><circle cx="13.2" cy="15.4" r=".8" fill="#5a6a8a"/><circle cx="20.8" cy="15.4" r=".8" fill="#5a6a8a"/><path d="M12.8 20.8 Q17 18.2 21.2 20.8 Q17 20.4 12.8 20.8 Z" fill="#fff" stroke="#fff" stroke-width="1"/><path d="M15.2 21.4 H18.8 Q18.6 24.2 17 24.2 Q15.4 24.2 15.2 21.4 Z" fill="#e83040"/></g></g>
<g transform="translate(1128.5 1383) scale(0.9941)"><g clip-path="url(#avc)"><rect width="34" height="34" fill="#10a2fc"/><circle cx="17" cy="17" r="12.5" fill="#2aa6f4"/><path d="M5.4 34 Q6 24 8.4 14 Q10.4 3.6 17 3.6 Q23.6 3.6 25.6 14 Q28 24 28.6 34 Z" fill="#2e3048"/><path d="M11 12 Q11 5.6 17 5.6 Q23 5.6 23 12 Q23 19 21.4 23 Q20 26.4 17 26.4 Q14 26.4 12.6 23 Q11 19 11 12 Z" fill="#fbfbff"/><ellipse cx="13.4" cy="14.2" rx="1.2" ry=".9" fill="#2e3048"/><ellipse cx="20.6" cy="14.2" rx="1.2" ry=".9" fill="#2e3048"/><rect x="12.8" y="9.4" width="1" height="3.2" fill="#8a8fc0"/><rect x="20.2" y="9.4" width="1" height="3.2" fill="#8a8fc0"/><rect x="12.9" y="16" width=".9" height="3.6" fill="#8a8fc0"/><rect x="20.2" y="16" width=".9" height="3.6" fill="#8a8fc0"/><ellipse cx="17" cy="22.8" rx="1.7" ry=".8" fill="#2e3048"/></g></g>
<g transform="translate(801.3 1429.4) scale(0.9941)"><g clip-path="url(#avc)"><rect width="34" height="34" fill="#424565"/><circle cx="17" cy="17" r="12.5" fill="#3a3d5a"/><path d="M3.6 34 Q5 27.4 11 26.8 H23 Q29 27.4 30.4 34 Z" fill="#08a5fa"/><path d="M13 25 H21 V28 Q17 31 13 28 Z" fill="#3fa874"/><circle cx="8" cy="16.4" r="1.7" fill="#46b47e"/><circle cx="26" cy="16.4" r="1.7" fill="#46b47e"/><path d="M8.6 14 Q8.6 5.4 17 5.4 Q25.4 5.4 25.4 14 V18 Q25.4 27 17 27 Q8.6 27 8.6 18 Z" fill="#4aba84"/><path d="M16 5.4 Q23.6 5 25 11.6 Q20.6 12.4 17.6 9.4 Z" fill="#f4664c"/><path d="M11 14.2 H15" stroke="#2e6a58" stroke-width="1"/><circle cx="13" cy="15.6" r=".7" fill="#2e3048"/><ellipse cx="21" cy="15.6" rx="1.8" ry="1.2" fill="#fff"/><circle cx="21.2" cy="15.7" r=".6" fill="#2e3048"/><path d="M14 20.8 Q17 19.6 20 21.4 Q19 24.4 16.6 24.2 Q14.4 24 14 20.8 Z" fill="#7a2438"/><path d="M15.6 22.6 Q17.4 21.6 19 23 Q18 24.4 16.6 24.2 Z" fill="#f0454a"/></g></g>
<g transform="translate(857.7 1428.6) scale(0.9941)"><g clip-path="url(#avc)"><rect width="34" height="34" fill="#424565"/><circle cx="17" cy="17" r="12.5" fill="#3a3d5a"/><path d="M5.4 14 Q4 5 9.6 5 Q12.4 5 13 8.4 L12 25 Q7 27 5.6 22 Z" fill="#fbfbff"/><path d="M28.6 14 Q30 5 24.4 5 Q21.6 5 21 8.4 L22 25 Q27 27 28.4 22 Z" fill="#fbfbff"/><path d="M5.3 15 L10.8 14 L11 25.4 Q7 27 5.6 22 Z" fill="#f2868c"/><path d="M5.5 20 L10.9 19 L11 25.4 Q7 27 5.6 22 Z" fill="#ee5560"/><path d="M28.7 15 L23.2 14 L23 25.4 Q27 27 28.4 22 Z" fill="#7fc0f4"/><path d="M28.5 20 L23.1 19 L23 25.4 Q27 27 28.4 22 Z" fill="#3fa0ee"/><rect x="7.2" y="5.6" width="1.8" height="2.6" rx=".8" fill="#f0454a"/><rect x="25" y="5.6" width="1.8" height="2.6" rx=".8" fill="#2f8ee8"/><path d="M3.6 34 Q5 29 10.6 28.4 H23.4 Q29 29 30.4 34 Z" fill="#fbfbff"/><path d="M8.8 26.8 Q17 30.6 25.2 26.8 L26.4 30.6 Q17 33.6 7.6 30.6 Z" fill="#ef4c56"/><path d="M13 26 H21 L19.6 29.6 Q17 30.6 14.4 29.6 Z" fill="#f6d0c0"/><rect x="13.6" y="25.4" width="6.8" height="1.5" fill="#2e3048"/><path d="M10.8 14 Q10.8 8 17 8 Q23.2 8 23.2 14 V18 Q23.2 25.6 17 25.6 Q10.8 25.6 10.8 18 Z" fill="#fadfd4"/><path d="M9.8 15 Q9 5.6 17 5.6 Q25 5.6 24.2 15 Q22 10.4 17 10.6 Q12 10.4 9.8 15 Z" fill="#fbfbff"/><ellipse cx="13.6" cy="16" rx="1.7" ry="1.3" fill="#f4949a"/><ellipse cx="20.4" cy="16" rx="1.7" ry="1.3" fill="#4aa6f0"/><circle cx="13.8" cy="16.1" r=".7" fill="#2e3048"/><circle cx="20.2" cy="16.1" r=".7" fill="#2e3048"/><path d="M14.6 21 H19.4 Q19 23.8 17 23.8 Q15 23.8 14.6 21 Z" fill="#3a2030"/><rect x="15.2" y="21" width="3.6" height=".9" fill="#fff"/></g></g>
<g transform="translate(911.1 1429.2) scale(0.9941)"><g clip-path="url(#avc)"><rect width="34" height="34" fill="#a3a8ca"/><circle cx="17" cy="17" r="12.5" fill="#b7bbd8"/><rect x="7.6" y="5" width="4" height="29" fill="#7c3a3c"/><path d="M1.6 8.4 H19 L20.6 6.8 L21.2 8.4 H25.6 Q27 8.4 27 10 Q27 11.6 25.6 11.6 H4.4 L3.6 13 L3.2 11.6 H1.6 Z" fill="#34364f"/><path d="M10.4 34 V22 Q10.4 13.6 19 13.6 Q28.6 13.6 28.6 23 V34 Z" fill="#a8524a"/><path d="M9 12 H12.4 V22 H9 Z" fill="#a8524a"/><ellipse cx="19.6" cy="23.6" rx="6.8" ry="5" fill="#f3cfb0"/><ellipse cx="15.8" cy="23.4" rx="2.4" ry="1.5" fill="#8a4844" transform="rotate(-20 15.8 23.4)"/><ellipse cx="23.4" cy="23.4" rx="2.4" ry="1.5" fill="#8a4844" transform="rotate(20 23.4 23.4)"/><circle cx="16" cy="23.2" r=".7" fill="#1e1e2e"/><circle cx="23.2" cy="23.2" r=".7" fill="#1e1e2e"/><ellipse cx="19.6" cy="24.6" rx="1.5" ry="1.1" fill="#5a5a6e"/></g></g>
<g transform="translate(965.9 1427.9) scale(0.9941)"><g clip-path="url(#avc)"><rect width="34" height="34" fill="#424565"/><circle cx="17" cy="17" r="12.5" fill="#3a3d5a"/><circle cx="17" cy="9.6" r="4.6" fill="#fbfbff"/><circle cx="11.6" cy="11.6" r="4.2" fill="#fbfbff"/><circle cx="22.4" cy="11.6" r="4.2" fill="#fbfbff"/><circle cx="9.6" cy="15.6" r="3.4" fill="#fbfbff"/><circle cx="24.4" cy="15.6" r="3.4" fill="#fbfbff"/><ellipse cx="17" cy="31" rx="15" ry="8.6" fill="#fbfbff"/><circle cx="6" cy="27" r="3.6" fill="#fbfbff"/><circle cx="28" cy="27" r="3.6" fill="#fbfbff"/><path d="M6 15.4 Q9 14.2 11.6 16 Q9 17.6 6 15.4 Z" fill="#6ab4f4"/><path d="M28 15.4 Q25 14.2 22.4 16 Q25 17.6 28 15.4 Z" fill="#6ab4f4"/><path d="M10.8 15.6 Q17 13 23.2 15.6 Q22.6 22 19.6 26.6 Q17 29.6 14.4 26.6 Q11.4 22 10.8 15.6 Z" fill="#1c96f2"/><circle cx="14" cy="18" r=".8" fill="#2e3048"/><circle cx="20" cy="18" r=".8" fill="#2e3048"/><path d="M15.8 22.4 H18.2 L17 24 Z" fill="#2e3048"/><path d="M16.2 25.4 H17.8 V27.4 Q17 28.4 16.2 27.4 Z" fill="#f0454a"/></g></g>
<g transform="translate(1019.6 1427.9) scale(0.9941)"><g clip-path="url(#avc)"><rect width="34" height="34" fill="#a3a8ca"/><circle cx="17" cy="17" r="12.5" fill="#9a9fc0"/><path d="M4.4 34 Q5.4 27.6 11 26.6 H23 Q28.6 27.6 29.6 34 Z" fill="#2e3048"/><path d="M14 26 H20 L19.4 34 H14.6 Z" fill="#fff"/><rect x="16.5" y="28.4" width="1.1" height="6" fill="#2e3048"/><rect x="14" y="23" width="6" height="5" fill="#f6d0c0"/><circle cx="8.6" cy="17" r="1.7" fill="#f9dcd0"/><circle cx="25.4" cy="17" r="1.7" fill="#f9dcd0"/><path d="M9.4 14 Q9.4 9 17 9 Q24.6 9 24.6 14 V18 Q24.6 26.4 17 26.4 Q9.4 26.4 9.4 18 Z" fill="#fbe0d6"/><path d="M8.4 16 V12 H12 Q10.2 13 9.8 16.4 Z" fill="#34364f"/><path d="M25.6 16 V12 H22 Q23.8 13 24.2 16.4 Z" fill="#34364f"/><path d="M9.4 10 Q9.4 1.6 17 1.6 Q24.6 1.6 24.6 10 Z" fill="#34364f"/><rect x="9.2" y="9.8" width="15.6" height="1.4" fill="#e8e8f2"/><rect x="8" y="11.2" width="18" height="1.7" rx=".8" fill="#34364f"/><circle cx="13.4" cy="16.6" r=".8" fill="#2e3048"/><circle cx="20.6" cy="16.6" r=".8" fill="#2e3048"/><path d="M12 14.8 L14.8 14.4" stroke="#2e3048" stroke-width=".7"/><path d="M22 14.8 L19.2 14.4" stroke="#2e3048" stroke-width=".7"/><rect x="15.6" y="20.4" width="2.8" height="1.8" rx=".4" fill="#2e3048"/><rect x="16" y="22.8" width="2" height=".9" fill="#f0888a"/></g></g>
<g transform="translate(1074.2 1427.6) scale(0.9941)"><g clip-path="url(#avc)"><rect width="34" height="34" fill="#f4525e"/><circle cx="17" cy="17" r="12.5" fill="#f8707c"/><path d="M6.6 34 Q7.6 28.6 12 27.6 H22 Q26.4 28.6 27.4 34 Z" fill="#f5bd95"/><path d="M11.6 28 L15.4 34 H11.4 Z" fill="#fff"/><path d="M22.4 28 L18.6 34 H22.6 Z" fill="#fff"/><path d="M12.4 27.6 L17 34 H12 L11.2 29 Z" fill="#fbfbff"/><path d="M21.6 27.6 L17 34 H22 L22.8 29 Z" fill="#fbfbff"/><rect x="14.6" y="22" width="4.8" height="7" fill="#eaa982"/><circle cx="10.6" cy="13.6" r="5.6" fill="#f7d52c"/><circle cx="23.4" cy="13.6" r="5" fill="#f7d52c"/><circle cx="17" cy="8.6" r="5.4" fill="#f9dc30"/><circle cx="9.6" cy="19" r="3.6" fill="#f2c02a"/><circle cx="24.8" cy="19" r="3.4" fill="#f2c02a"/><circle cx="11.8" cy="22.6" r="2.4" fill="#f2c02a"/><circle cx="23" cy="22.4" r="2.4" fill="#f2c02a"/><path d="M11 14 Q11 9 17 9 Q23 9 23 14 V18 Q23 25.6 17 25.6 Q11 25.6 11 18 Z" fill="#f5bd95"/><path d="M8.6 14 Q10 6.6 17 6.6 Q22 6.6 22.6 9.6 Q19.6 15.6 13 17.6 Q10 18 8.6 14 Z" fill="#f9dc30"/><ellipse cx="20.6" cy="14.8" rx="1.3" ry=".8" fill="#5a6a8a"/><path d="M15 20.8 Q17 19.8 19 20.8 Q17 23 15 20.8 Z" fill="#f0606c"/><circle cx="10.4" cy="19" r=".9" fill="#fff"/><circle cx="24.2" cy="19" r=".9" fill="#fff"/></g></g>
<g transform="translate(1128.9 1430.6) scale(0.9941)"><g clip-path="url(#avc)"><rect width="34" height="34" fill="#a3a8ca"/><circle cx="17" cy="17" r="12.5" fill="#b0b5d4"/><path d="M17 2.4 Q21.6 2.4 23.6 9 Q25 14 28 19.6 Q31 26.6 27 31.6 Q23 35.6 17 35.6 Q11 35.6 7 31.6 Q3 26.6 6 19.6 Q9 14 10.4 9 Q12.4 2.4 17 2.4 Z" fill="#7a5a50"/><path d="M17 3.4 Q20.8 3.4 22.6 9.4 Q24 14.4 27 20 Q29.8 26.4 26.2 30.8 Q22.6 34.6 17 34.6 Q11.4 34.6 7.8 30.8 Q4.2 26.4 7 20 Q10 14.4 11.4 9.4 Q13.2 3.4 17 3.4 Z" fill="#4cb46a"/><path d="M17 5.6 Q19.6 5.6 21 10.4 Q22.4 15.4 25 20.4 Q27.4 26 24.6 29.6 Q21.6 32.6 17 32.6 Q12.4 32.6 9.4 29.6 Q6.6 26 9 20.4 Q11.6 15.4 13 10.4 Q14.4 5.6 17 5.6 Z" fill="#c9e6a0"/><ellipse cx="17" cy="10.6" rx="3" ry="3.6" fill="#dff0c0"/><circle cx="13" cy="15.4" r="1.4" fill="#fff"/><circle cx="21" cy="15.4" r="1.4" fill="#fff"/><circle cx="13.2" cy="15.4" r=".9" fill="#34364f"/><circle cx="20.8" cy="15.4" r=".9" fill="#34364f"/><circle cx="17" cy="16.8" r=".9" fill="#a8524a"/><ellipse cx="17" cy="25.4" rx="5.8" ry="6" fill="#34364f"/><path d="M13 29 Q17 24.6 21.6 28 Q20 31.4 17 31.4 Q14.4 31.4 13 29 Z" fill="#f0454a"/></g></g>
</svg>
<div class="ctext os" style="left:682.05px;top:936.5px">Our team has the right staffing, tools, and<br><span style="letter-spacing:0.34px;padding-left:0.34px">skills to deliver against our goals.</span></div>
<div class="cl" style="left:832.2px;top:1041.3px;color:#1a1a1a">We have no control<br>and no influence over this.</div>
<div class="cl" style="left:832.2px;top:1105.1px;color:#1a1a1a">We can influence this.</div>
<div class="cl" style="left:832.2px;top:1184.2px;color:#1a1a1a">We can control<br>this.</div>
<div class="qlabel" style="left:1290.05px;top:857.5px;letter-spacing:-0.07px">Question 6</div>
<svg class="cardsvg" style="left:1288px;top:902px" width="520" height="551" viewBox="1288 902 520 551">
<rect x="1290" y="904.35" width="513.8" height="641.9" fill="#f2f2f2" stroke="#dadada" stroke-width="1.5"/>
<ellipse cx="1546.65" cy="1203.9" rx="171.4" ry="170.4" fill="#f6ebc6" stroke="rgba(40,40,80,.5)" stroke-width="0.9" stroke-dasharray="4.5 1.8"/>
<ellipse cx="1546.65" cy="1202.9" rx="118.9" ry="118.3" fill="#fadd5c"/>
<ellipse cx="1546.65" cy="1202.9" rx="62" ry="61.5" fill="#fed213"/>
<g transform="translate(1366.2 1392) scale(0.9941)"><g clip-path="url(#avc)"><rect width="34" height="34" fill="#fddbd0"/><circle cx="17" cy="17" r="13" fill="#fdd3c6"/><circle cx="6.9" cy="12.6" r="2.5" fill="#a5625c"/><circle cx="26.7" cy="12.6" r="2.5" fill="#a5625c"/><circle cx="6.6" cy="12.8" r="1.2" fill="#f0765c"/><circle cx="27" cy="12.8" r="1.2" fill="#f0765c"/><ellipse cx="16.8" cy="31.5" rx="14.6" ry="9" fill="#9c5b57"/><path d="M6 22 Q5.4 11 16.8 11 Q28.2 11 27.6 22 Q27 29.5 16.8 29.5 Q6.6 29.5 6 22 Z" fill="#ae6b64"/><ellipse cx="16.6" cy="20" rx="5" ry="4.4" fill="#c28c84"/><path d="M14.2 18.2 H19 Q18.6 20 16.6 20 Q14.6 20 14.2 18.2 Z" fill="#37324c"/><rect x="16.2" y="19.6" width=".9" height="2.6" fill="#37324c"/><rect x="9.4" y="5" width="14.4" height="7.2" rx="2.2" fill="#8e8aa4"/><rect x="10.6" y="6.6" width="12" height="5.4" rx="1" fill="#fafafa"/><circle cx="16.5" cy="9.4" r="1.3" fill="#f0454a"/></g></g>
<g transform="translate(1421.1 1391.9) scale(0.9941)"><g clip-path="url(#avc)"><rect width="34" height="34" fill="#4cb887"/><circle cx="17" cy="17" r="12.5" fill="#5cc193"/><path d="M4 34 Q5 26.5 12 26 H22 Q29 26.5 30 34 Z" fill="#b5604f"/><rect x="12.6" y="27" width="8.8" height="8" fill="#fff"/><path d="M12 25.5 H22 L20 29.5 H14 Z" fill="#2f6bc4"/><path d="M21 24 L33 22.4 V27 L22 27.5 Z" fill="#2f6bc4"/><path d="M7.4 16 Q7.4 4.6 17 4.6 Q26.6 4.6 26.6 16 V22 H24 V14 H10 V22 H7.4 Z" fill="#a8574a"/><path d="M10 13 H24 V21 Q24 27 17 27 Q10 27 10 21 Z" fill="#f9cdb0"/><path d="M17 13.6 L15.6 16.6 H18.4 Z" fill="#f47a2c"/><path d="M11.4 20.4 Q14 18.6 17 20 Q20 18.6 22.6 20.4 Q20 21.6 17 21 Q14 21.6 11.4 20.4 Z" fill="#f47a2c"/><rect x="15.2" y="21.6" width="3.6" height="1.6" fill="#fff"/><rect x="8" y="8.8" width="18" height="3.6" fill="#3c3f5c"/><circle cx="12.6" cy="10.4" r="3.3" fill="#3c3f5c"/><circle cx="21.4" cy="10.4" r="3.3" fill="#3c3f5c"/><circle cx="12.6" cy="10.4" r="2.1" fill="#7fa0cf"/><circle cx="21.4" cy="10.4" r="2.1" fill="#7fa0cf"/></g></g>
<g transform="translate(1475.4 1394.1) scale(0.9941)"><g clip-path="url(#avc)"><rect width="34" height="34" fill="#fb8072"/><circle cx="17" cy="17" r="12.5" fill="#fc9587"/><path d="M0 20.4 H34 V25 H0 Z" fill="#6b8fd0"/><path d="M9.8 25 V13.4 Q9.8 8.4 16.9 5.7 Q24 8.4 24 13.4 V25 Z" fill="#45bb85"/><path d="M16.9 2 L17.6 3.4 L19.1 3.6 L18 4.7 L18.3 6.2 L16.9 5.4 L15.5 6.2 L15.8 4.7 L14.7 3.6 L16.2 3.4 Z" fill="#f9d23a"/><path d="M13.8 12.6 Q16.9 9.6 20 12.6 Z" fill="#2f9a78"/><circle cx="16.9" cy="13.6" r="2.3" fill="#fff"/><circle cx="16.9" cy="13.7" r="1.2" fill="#3c3f5c"/><path d="M13.5 17.8 H20.3 V24 H13.5 Z" fill="#2e3048"/><rect x="13.9" y="17.8" width="6" height="1.3" fill="#fff"/><path d="M14 24 Q16.9 19.8 19.8 24 Z" fill="#f0505a"/><rect x="27" y="13" width="2.4" height="3.8" rx="1" fill="#8a6a5e"/><path d="M0 21.6 Q17 29.6 34 21.6 V34 H0 Z" fill="#dbe6f6"/><path d="M12.4 24.8 Q16.9 26.2 21.4 24.8 V23 H12.4 Z" fill="#45bb85"/><path d="M13.5 22.4 H20.3 V24.4 H13.5 Z" fill="#2e3048"/><path d="M14 24.4 Q16.9 20.6 19.8 24.4 Z" fill="#f0505a"/></g></g>
<g transform="translate(1530 1394) scale(0.9941)"><g clip-path="url(#avc)"><rect width="34" height="34" fill="#a3a8cc"/><circle cx="17" cy="17" r="12.5" fill="#9499bf"/><path d="M6 34 Q6.4 28 10.4 27 H23.6 Q27.6 28 28 34 Z" fill="#f5b98a"/><path d="M8.6 34 V26.4 H12 Q13 30.4 17 30.4 Q21 30.4 22 26.4 H25.4 V34 Z" fill="#2c2e44"/><rect x="14" y="23" width="6" height="5" fill="#eeaa7e"/><circle cx="8" cy="16.4" r="1.6" fill="#f5b98a"/><circle cx="26" cy="16.4" r="1.6" fill="#f5b98a"/><path d="M8.4 15 Q8.4 6.3 17 6.3 Q25.6 6.3 25.6 15 V17 Q25.6 25.6 17 25.6 Q8.4 25.6 8.4 17 Z" fill="#f7bd8f"/><path d="M8.7 13 Q9.8 6.6 17 6.3 Q24.2 6.6 25.3 13 Q21 9 17 9 Q13 9 8.7 13 Z" fill="#e0b29a"/><rect x="14.7" y="3" width="4.3" height="7" rx="1" fill="#f04e5a"/><path d="M10.8 14 H14.8 L14.2 15.4 H11.4 Z" fill="#3fb577"/><path d="M19.2 14 H23.2 L22.6 15.4 H19.8 Z" fill="#3fb577"/><circle cx="12.9" cy="15.6" r=".8" fill="#3c3f5c"/><circle cx="21.1" cy="15.6" r=".8" fill="#3c3f5c"/><path d="M14.4 21 H19.6 Q19 23.6 17 23.6 Q15 23.6 14.4 21 Z" fill="#d8304a"/><rect x="15" y="21" width="4" height="1" fill="#fff"/></g></g>
<g transform="translate(1584.2 1394) scale(0.9941)"><g clip-path="url(#avc)"><rect width="34" height="34" fill="#f4c21c"/><circle cx="17" cy="17" r="12.5" fill="#f6cf4a"/><path d="M2 34 Q3 27.5 10 26.4 L17 25 L24 26.4 Q31 27.5 32 34 Z" fill="#34364f"/><path d="M9.2 27 V5.4 L12.4 9 H21.6 L24.8 5.4 V27 Z" fill="#34364f"/><path d="M11.2 19.4 H22.8 V21.6 Q22.8 26.4 17 26.4 Q11.2 26.4 11.2 21.6 Z" fill="#f9cdb0"/><path d="M11.2 19.4 L17 17.6 L22.8 19.4 L17 20.6 Z" fill="#34364f"/><path d="M11.6 15.4 L15.2 16.6 L12 17 Z" fill="#fff"/><path d="M22.4 15.4 L18.8 16.6 L22 17 Z" fill="#fff"/><rect x="14.4" y="22" width="5.2" height="1.4" fill="#fff"/><path d="M12 30.4 Q14.6 29.4 17 30.6 Q19.4 29.4 22 30.4 Q20.6 32.6 17 32.8 Q13.4 32.6 12 30.4 Z" fill="#f4c21c"/></g></g>
<g transform="translate(1638.7 1392) scale(0.9941)"><g clip-path="url(#avc)"><rect width="34" height="34" fill="#4cb887"/><circle cx="17" cy="17" r="12.5" fill="#44a38a"/><path d="M4 34 Q4.6 27.6 10.6 26.6 H23.4 Q29.4 27.6 30 34 Z" fill="#2c2e44"/><path d="M13.2 26.6 H20.8 L20 34 H14 Z" fill="#fff"/><path d="M15 28.2 L17 29.2 L19 28.2 V30.2 L17 29.4 L15 30.2 Z" fill="#2c2e44"/><circle cx="9.6" cy="10.6" r="4.2" fill="#fff"/><circle cx="24.4" cy="10.6" r="4.2" fill="#fff"/><circle cx="13" cy="6.6" r="4" fill="#fff"/><circle cx="21" cy="6.6" r="4" fill="#fff"/><circle cx="17" cy="5.6" r="3.6" fill="#fff"/><circle cx="8.2" cy="15.4" r="3.4" fill="#fff"/><circle cx="25.8" cy="15.4" r="3.4" fill="#fff"/><circle cx="9" cy="19.6" r="2.4" fill="#fff"/><circle cx="25" cy="19.6" r="2.4" fill="#fff"/><path d="M10 13 Q10 8.6 17 8.6 Q24 8.6 24 13 V19 Q24 26.8 17 26.8 Q10 26.8 10 19 Z" fill="#f9cdb9"/><path d="M11.4 13.4 Q13.2 12 15.2 13.4" stroke="#fff" stroke-width="1.3" fill="none"/><path d="M18.8 13.4 Q20.8 12 22.6 13.4" stroke="#fff" stroke-width="1.3" fill="none"/><circle cx="13.2" cy="15.4" r=".8" fill="#5a6a8a"/><circle cx="20.8" cy="15.4" r=".8" fill="#5a6a8a"/><path d="M12.8 20.8 Q17 18.2 21.2 20.8 Q17 20.4 12.8 20.8 Z" fill="#fff" stroke="#fff" stroke-width="1"/><path d="M15.2 21.4 H18.8 Q18.6 24.2 17 24.2 Q15.4 24.2 15.2 21.4 Z" fill="#e83040"/></g></g>
<g transform="translate(1693.1 1392.9) scale(0.9941)"><g clip-path="url(#avc)"><rect width="34" height="34" fill="#10a2fc"/><circle cx="17" cy="17" r="12.5" fill="#2aa6f4"/><path d="M5.4 34 Q6 24 8.4 14 Q10.4 3.6 17 3.6 Q23.6 3.6 25.6 14 Q28 24 28.6 34 Z" fill="#2e3048"/><path d="M11 12 Q11 5.6 17 5.6 Q23 5.6 23 12 Q23 19 21.4 23 Q20 26.4 17 26.4 Q14 26.4 12.6 23 Q11 19 11 12 Z" fill="#fbfbff"/><ellipse cx="13.4" cy="14.2" rx="1.2" ry=".9" fill="#2e3048"/><ellipse cx="20.6" cy="14.2" rx="1.2" ry=".9" fill="#2e3048"/><rect x="12.8" y="9.4" width="1" height="3.2" fill="#8a8fc0"/><rect x="20.2" y="9.4" width="1" height="3.2" fill="#8a8fc0"/><rect x="12.9" y="16" width=".9" height="3.6" fill="#8a8fc0"/><rect x="20.2" y="16" width=".9" height="3.6" fill="#8a8fc0"/><ellipse cx="17" cy="22.8" rx="1.7" ry=".8" fill="#2e3048"/></g></g>
<g transform="translate(1365.9 1439.3) scale(0.9941)"><g clip-path="url(#avc)"><rect width="34" height="34" fill="#424565"/><circle cx="17" cy="17" r="12.5" fill="#3a3d5a"/><path d="M3.6 34 Q5 27.4 11 26.8 H23 Q29 27.4 30.4 34 Z" fill="#08a5fa"/><path d="M13 25 H21 V28 Q17 31 13 28 Z" fill="#3fa874"/><circle cx="8" cy="16.4" r="1.7" fill="#46b47e"/><circle cx="26" cy="16.4" r="1.7" fill="#46b47e"/><path d="M8.6 14 Q8.6 5.4 17 5.4 Q25.4 5.4 25.4 14 V18 Q25.4 27 17 27 Q8.6 27 8.6 18 Z" fill="#4aba84"/><path d="M16 5.4 Q23.6 5 25 11.6 Q20.6 12.4 17.6 9.4 Z" fill="#f4664c"/><path d="M11 14.2 H15" stroke="#2e6a58" stroke-width="1"/><circle cx="13" cy="15.6" r=".7" fill="#2e3048"/><ellipse cx="21" cy="15.6" rx="1.8" ry="1.2" fill="#fff"/><circle cx="21.2" cy="15.7" r=".6" fill="#2e3048"/><path d="M14 20.8 Q17 19.6 20 21.4 Q19 24.4 16.6 24.2 Q14.4 24 14 20.8 Z" fill="#7a2438"/><path d="M15.6 22.6 Q17.4 21.6 19 23 Q18 24.4 16.6 24.2 Z" fill="#f0454a"/></g></g>
<g transform="translate(1422.3 1438.5) scale(0.9941)"><g clip-path="url(#avc)"><rect width="34" height="34" fill="#424565"/><circle cx="17" cy="17" r="12.5" fill="#3a3d5a"/><path d="M5.4 14 Q4 5 9.6 5 Q12.4 5 13 8.4 L12 25 Q7 27 5.6 22 Z" fill="#fbfbff"/><path d="M28.6 14 Q30 5 24.4 5 Q21.6 5 21 8.4 L22 25 Q27 27 28.4 22 Z" fill="#fbfbff"/><path d="M5.3 15 L10.8 14 L11 25.4 Q7 27 5.6 22 Z" fill="#f2868c"/><path d="M5.5 20 L10.9 19 L11 25.4 Q7 27 5.6 22 Z" fill="#ee5560"/><path d="M28.7 15 L23.2 14 L23 25.4 Q27 27 28.4 22 Z" fill="#7fc0f4"/><path d="M28.5 20 L23.1 19 L23 25.4 Q27 27 28.4 22 Z" fill="#3fa0ee"/><rect x="7.2" y="5.6" width="1.8" height="2.6" rx=".8" fill="#f0454a"/><rect x="25" y="5.6" width="1.8" height="2.6" rx=".8" fill="#2f8ee8"/><path d="M3.6 34 Q5 29 10.6 28.4 H23.4 Q29 29 30.4 34 Z" fill="#fbfbff"/><path d="M8.8 26.8 Q17 30.6 25.2 26.8 L26.4 30.6 Q17 33.6 7.6 30.6 Z" fill="#ef4c56"/><path d="M13 26 H21 L19.6 29.6 Q17 30.6 14.4 29.6 Z" fill="#f6d0c0"/><rect x="13.6" y="25.4" width="6.8" height="1.5" fill="#2e3048"/><path d="M10.8 14 Q10.8 8 17 8 Q23.2 8 23.2 14 V18 Q23.2 25.6 17 25.6 Q10.8 25.6 10.8 18 Z" fill="#fadfd4"/><path d="M9.8 15 Q9 5.6 17 5.6 Q25 5.6 24.2 15 Q22 10.4 17 10.6 Q12 10.4 9.8 15 Z" fill="#fbfbff"/><ellipse cx="13.6" cy="16" rx="1.7" ry="1.3" fill="#f4949a"/><ellipse cx="20.4" cy="16" rx="1.7" ry="1.3" fill="#4aa6f0"/><circle cx="13.8" cy="16.1" r=".7" fill="#2e3048"/><circle cx="20.2" cy="16.1" r=".7" fill="#2e3048"/><path d="M14.6 21 H19.4 Q19 23.8 17 23.8 Q15 23.8 14.6 21 Z" fill="#3a2030"/><rect x="15.2" y="21" width="3.6" height=".9" fill="#fff"/></g></g>
<g transform="translate(1475.7 1439.1) scale(0.9941)"><g clip-path="url(#avc)"><rect width="34" height="34" fill="#a3a8ca"/><circle cx="17" cy="17" r="12.5" fill="#b7bbd8"/><rect x="7.6" y="5" width="4" height="29" fill="#7c3a3c"/><path d="M1.6 8.4 H19 L20.6 6.8 L21.2 8.4 H25.6 Q27 8.4 27 10 Q27 11.6 25.6 11.6 H4.4 L3.6 13 L3.2 11.6 H1.6 Z" fill="#34364f"/><path d="M10.4 34 V22 Q10.4 13.6 19 13.6 Q28.6 13.6 28.6 23 V34 Z" fill="#a8524a"/><path d="M9 12 H12.4 V22 H9 Z" fill="#a8524a"/><ellipse cx="19.6" cy="23.6" rx="6.8" ry="5" fill="#f3cfb0"/><ellipse cx="15.8" cy="23.4" rx="2.4" ry="1.5" fill="#8a4844" transform="rotate(-20 15.8 23.4)"/><ellipse cx="23.4" cy="23.4" rx="2.4" ry="1.5" fill="#8a4844" transform="rotate(20 23.4 23.4)"/><circle cx="16" cy="23.2" r=".7" fill="#1e1e2e"/><circle cx="23.2" cy="23.2" r=".7" fill="#1e1e2e"/><ellipse cx="19.6" cy="24.6" rx="1.5" ry="1.1" fill="#5a5a6e"/></g></g>
<g transform="translate(1530.5 1437.8) scale(0.9941)"><g clip-path="url(#avc)"><rect width="34" height="34" fill="#424565"/><circle cx="17" cy="17" r="12.5" fill="#3a3d5a"/><circle cx="17" cy="9.6" r="4.6" fill="#fbfbff"/><circle cx="11.6" cy="11.6" r="4.2" fill="#fbfbff"/><circle cx="22.4" cy="11.6" r="4.2" fill="#fbfbff"/><circle cx="9.6" cy="15.6" r="3.4" fill="#fbfbff"/><circle cx="24.4" cy="15.6" r="3.4" fill="#fbfbff"/><ellipse cx="17" cy="31" rx="15" ry="8.6" fill="#fbfbff"/><circle cx="6" cy="27" r="3.6" fill="#fbfbff"/><circle cx="28" cy="27" r="3.6" fill="#fbfbff"/><path d="M6 15.4 Q9 14.2 11.6 16 Q9 17.6 6 15.4 Z" fill="#6ab4f4"/><path d="M28 15.4 Q25 14.2 22.4 16 Q25 17.6 28 15.4 Z" fill="#6ab4f4"/><path d="M10.8 15.6 Q17 13 23.2 15.6 Q22.6 22 19.6 26.6 Q17 29.6 14.4 26.6 Q11.4 22 10.8 15.6 Z" fill="#1c96f2"/><circle cx="14" cy="18" r=".8" fill="#2e3048"/><circle cx="20" cy="18" r=".8" fill="#2e3048"/><path d="M15.8 22.4 H18.2 L17 24 Z" fill="#2e3048"/><path d="M16.2 25.4 H17.8 V27.4 Q17 28.4 16.2 27.4 Z" fill="#f0454a"/></g></g>
<g transform="translate(1584.2 1437.8) scale(0.9941)"><g clip-path="url(#avc)"><rect width="34" height="34" fill="#a3a8ca"/><circle cx="17" cy="17" r="12.5" fill="#9a9fc0"/><path d="M4.4 34 Q5.4 27.6 11 26.6 H23 Q28.6 27.6 29.6 34 Z" fill="#2e3048"/><path d="M14 26 H20 L19.4 34 H14.6 Z" fill="#fff"/><rect x="16.5" y="28.4" width="1.1" height="6" fill="#2e3048"/><rect x="14" y="23" width="6" height="5" fill="#f6d0c0"/><circle cx="8.6" cy="17" r="1.7" fill="#f9dcd0"/><circle cx="25.4" cy="17" r="1.7" fill="#f9dcd0"/><path d="M9.4 14 Q9.4 9 17 9 Q24.6 9 24.6 14 V18 Q24.6 26.4 17 26.4 Q9.4 26.4 9.4 18 Z" fill="#fbe0d6"/><path d="M8.4 16 V12 H12 Q10.2 13 9.8 16.4 Z" fill="#34364f"/><path d="M25.6 16 V12 H22 Q23.8 13 24.2 16.4 Z" fill="#34364f"/><path d="M9.4 10 Q9.4 1.6 17 1.6 Q24.6 1.6 24.6 10 Z" fill="#34364f"/><rect x="9.2" y="9.8" width="15.6" height="1.4" fill="#e8e8f2"/><rect x="8" y="11.2" width="18" height="1.7" rx=".8" fill="#34364f"/><circle cx="13.4" cy="16.6" r=".8" fill="#2e3048"/><circle cx="20.6" cy="16.6" r=".8" fill="#2e3048"/><path d="M12 14.8 L14.8 14.4" stroke="#2e3048" stroke-width=".7"/><path d="M22 14.8 L19.2 14.4" stroke="#2e3048" stroke-width=".7"/><rect x="15.6" y="20.4" width="2.8" height="1.8" rx=".4" fill="#2e3048"/><rect x="16" y="22.8" width="2" height=".9" fill="#f0888a"/></g></g>
<g transform="translate(1638.8 1437.5) scale(0.9941)"><g clip-path="url(#avc)"><rect width="34" height="34" fill="#f4525e"/><circle cx="17" cy="17" r="12.5" fill="#f8707c"/><path d="M6.6 34 Q7.6 28.6 12 27.6 H22 Q26.4 28.6 27.4 34 Z" fill="#f5bd95"/><path d="M11.6 28 L15.4 34 H11.4 Z" fill="#fff"/><path d="M22.4 28 L18.6 34 H22.6 Z" fill="#fff"/><path d="M12.4 27.6 L17 34 H12 L11.2 29 Z" fill="#fbfbff"/><path d="M21.6 27.6 L17 34 H22 L22.8 29 Z" fill="#fbfbff"/><rect x="14.6" y="22" width="4.8" height="7" fill="#eaa982"/><circle cx="10.6" cy="13.6" r="5.6" fill="#f7d52c"/><circle cx="23.4" cy="13.6" r="5" fill="#f7d52c"/><circle cx="17" cy="8.6" r="5.4" fill="#f9dc30"/><circle cx="9.6" cy="19" r="3.6" fill="#f2c02a"/><circle cx="24.8" cy="19" r="3.4" fill="#f2c02a"/><circle cx="11.8" cy="22.6" r="2.4" fill="#f2c02a"/><circle cx="23" cy="22.4" r="2.4" fill="#f2c02a"/><path d="M11 14 Q11 9 17 9 Q23 9 23 14 V18 Q23 25.6 17 25.6 Q11 25.6 11 18 Z" fill="#f5bd95"/><path d="M8.6 14 Q10 6.6 17 6.6 Q22 6.6 22.6 9.6 Q19.6 15.6 13 17.6 Q10 18 8.6 14 Z" fill="#f9dc30"/><ellipse cx="20.6" cy="14.8" rx="1.3" ry=".8" fill="#5a6a8a"/><path d="M15 20.8 Q17 19.8 19 20.8 Q17 23 15 20.8 Z" fill="#f0606c"/><circle cx="10.4" cy="19" r=".9" fill="#fff"/><circle cx="24.2" cy="19" r=".9" fill="#fff"/></g></g>
<g transform="translate(1693.5 1440.5) scale(0.9941)"><g clip-path="url(#avc)"><rect width="34" height="34" fill="#a3a8ca"/><circle cx="17" cy="17" r="12.5" fill="#b0b5d4"/><path d="M17 2.4 Q21.6 2.4 23.6 9 Q25 14 28 19.6 Q31 26.6 27 31.6 Q23 35.6 17 35.6 Q11 35.6 7 31.6 Q3 26.6 6 19.6 Q9 14 10.4 9 Q12.4 2.4 17 2.4 Z" fill="#7a5a50"/><path d="M17 3.4 Q20.8 3.4 22.6 9.4 Q24 14.4 27 20 Q29.8 26.4 26.2 30.8 Q22.6 34.6 17 34.6 Q11.4 34.6 7.8 30.8 Q4.2 26.4 7 20 Q10 14.4 11.4 9.4 Q13.2 3.4 17 3.4 Z" fill="#4cb46a"/><path d="M17 5.6 Q19.6 5.6 21 10.4 Q22.4 15.4 25 20.4 Q27.4 26 24.6 29.6 Q21.6 32.6 17 32.6 Q12.4 32.6 9.4 29.6 Q6.6 26 9 20.4 Q11.6 15.4 13 10.4 Q14.4 5.6 17 5.6 Z" fill="#c9e6a0"/><ellipse cx="17" cy="10.6" rx="3" ry="3.6" fill="#dff0c0"/><circle cx="13" cy="15.4" r="1.4" fill="#fff"/><circle cx="21" cy="15.4" r="1.4" fill="#fff"/><circle cx="13.2" cy="15.4" r=".9" fill="#34364f"/><circle cx="20.8" cy="15.4" r=".9" fill="#34364f"/><circle cx="17" cy="16.8" r=".9" fill="#a8524a"/><ellipse cx="17" cy="25.4" rx="5.8" ry="6" fill="#34364f"/><path d="M13 29 Q17 24.6 21.6 28 Q20 31.4 17 31.4 Q14.4 31.4 13 29 Z" fill="#f0454a"/></g></g>
</svg>
<div class="ctext os" style="left:1238.6px;top:930.5px;letter-spacing:0.6px">Our team trusts &nbsp;each other.</div>
<div class="cl" style="left:1396.65px;top:1050.9px;color:#1a1a1a">We have no control<br>and no influence over this.</div>
<div class="cl" style="left:1396.65px;top:1114.2px;color:#1a1a1a">We can influence this.</div>
<div class="cl" style="left:1396.65px;top:1192.1px;color:#1a1a1a">We can control<br>this.</div>
<!-- top-left panel -->
<div class="panel" style="left:12px;top:10px;width:1270px;height:94px"></div>
<svg style="left:43px;top:39px" width="40" height="36" viewBox="0 0 40 36" fill="none" stroke="#050038" stroke-width="3.2" stroke-linecap="round" stroke-linejoin="round">
  <rect x="1.8" y="1.8" width="36" height="32.4" rx="2.5"/>
  <line x1="18.5" y1="2" x2="18.5" y2="34"/>
  <line x1="8.2" y1="10.8" x2="11" y2="10.8" stroke-width="3.6"/>
  <line x1="8.2" y1="18" x2="11" y2="18" stroke-width="3.6"/>
  <line x1="8.2" y1="25.2" x2="11" y2="25.2" stroke-width="3.6"/>
</svg>
<div class="abs" style="left:114.2px;top:34px;width:2px;height:47px;background:#d6d5e1"></div>
<svg id="logo" style="left:140px;top:20px" width="150" height="70" viewBox="0 0 150 70"><text x="5.6" y="55" font-family="Liberation Sans, sans-serif" font-size="59" fill="#1c1c1e" stroke="#1c1c1e" stroke-width="1.7" stroke-linejoin="round" textLength="129" lengthAdjust="spacingAndGlyphs">miro</text></svg>
<div class="abs" style="left:305.7px;top:34px;width:2px;height:47px;background:#d6d5e1"></div>
<div class="abs" id="title" style="left:339px;top:38.4px;height:40px;line-height:40px;font-size:31px;color:#050038;white-space:nowrap;letter-spacing:0.8px;-webkit-text-stroke:0.35px #050038">Circles of Influence Retro template</div>
<div class="abs" id="badge" style="left:870px;top:41px;width:115px;height:32px;border-radius:4px;background:#f4ef9c;color:#050038;font-weight:bold;font-size:19.5px;line-height:32px;text-align:center;letter-spacing:0px">INTERNAL</div>
<div class="abs" style="left:1004.3px;top:34px;width:2px;height:47px;background:#d6d5e1"></div>
<svg style="left:1038px;top:38px" width="40" height="38" viewBox="0 0 40 38" fill="none" stroke="#050038" stroke-width="3.4" stroke-linecap="round">
  <line x1="4" y1="4.8" x2="35.6" y2="4.8"/><line x1="4" y1="18.8" x2="35.6" y2="18.8"/><line x1="4" y1="32.8" x2="35.6" y2="32.8"/>
</svg>
<svg style="left:1122px;top:36px" width="44" height="40" viewBox="0 0 44 40" fill="none" stroke="#050038" stroke-width="3.4" stroke-linecap="round" stroke-linejoin="round">
  <path d="M4.7 23.5 V35.2 H39.7 V23.5"/>
  <path d="M22.2 25 V4.2 M13.6 12.6 L22.2 4 L30.8 12.6"/>
</svg>
<svg style="left:1210px;top:36px" width="44" height="42" viewBox="0 0 44 42" fill="none" stroke="#050038" stroke-width="3.6" stroke-linecap="round">
  <circle cx="17" cy="17.4" r="11.8"/>
  <line x1="25.8" y1="26.2" x2="36.6" y2="37"/>
</svg>

<!-- second panel -->
<div class="panel" style="left:1309px;top:10px;width:102.5px;height:94px"></div>
<svg style="left:1350px;top:42px" width="20" height="30" viewBox="0 0 20 30" fill="none" stroke="#050038" stroke-width="3.8" stroke-linecap="round" stroke-linejoin="round">
  <path d="M4.2 5.4 L10 10.8 L15.8 5.4"/><path d="M4.2 19.4 L10 24.8 L15.8 19.4"/>
</svg>

<!-- third panel -->
<div class="panel" style="left:1619px;top:10px;width:289px;height:94px"></div>
<svg style="left:1660.6px;top:42px" width="20" height="30" viewBox="0 0 20 30" fill="none" stroke="#050038" stroke-width="3.8" stroke-linecap="round" stroke-linejoin="round">
  <path d="M4.2 5.4 L10 10.8 L15.8 5.4"/><path d="M4.2 19.4 L10 24.8 L15.8 19.4"/>
</svg>
<div class="abs" style="left:1729.5px;top:25.5px;width:155px;height:63px;border-radius:6px;background:#4262ff"></div>
<svg style="left:1746px;top:41px" width="42" height="32" viewBox="0 0 42 32" fill="none" stroke="#fff" stroke-linecap="round" stroke-linejoin="round">
  <circle cx="15.3" cy="9.1" r="5.2" stroke-width="3.7"/>
  <circle cx="29.9" cy="10" r="4" stroke-width="3.6"/>
  <path d="M5.2 26 C5.2 19.6 25.2 19.6 25.2 26" stroke-width="3.7"/>
  <path d="M31.200 21.300 C34.600 21.300 36.800 23.200 36.800 26" stroke-width="3.7"/>
</svg>
<div class="abs" id="share" style="left:1795.2px;letter-spacing:-0.15px;top:25.5px;height:63px;line-height:63px;font-size:24.5px;font-weight:bold;color:#fff;white-space:nowrap">Share</div>

<!-- left toolbar -->
<div class="panel" style="left:12px;top:246.5px;width:94px;height:961.8px"></div>
<div class="abs" style="left:15.7px;top:250px;width:86.5px;height:86.6px;border-radius:6px;background:#d9dffc"></div>
<!-- cursor -->
<svg style="left:39px;top:274px" width="40" height="40" viewBox="0 0 40 40">
  <path d="M10.2 0.4 L32.6 22.8 L23.6 25.3 L27.8 35.6 C28.4 37 27.6 38 26.4 38.5 C25.2 39 24 38.6 23.4 37.2 L19.2 27.3 L10.2 33.2 Z" fill="#2733b5"/>
</svg>
<!-- templates -->
<svg style="left:39px;top:361px" width="40" height="40" viewBox="0 0 40 40" fill="none" stroke="#050038" stroke-width="3.5" stroke-linejoin="round">
  <rect x="2.3" y="1.9" width="35.4" height="35.4" rx="1.5"/>
  <line x1="2.3" y1="12.6" x2="37.7" y2="12.6"/>
  <line x1="14" y1="12.6" x2="14" y2="37.3"/>
</svg>
<!-- text T -->
<svg style="left:39px;top:448px" width="40" height="40" viewBox="0 0 40 40" fill="none" stroke="#050038" stroke-width="3.5" stroke-linecap="round" stroke-linejoin="round">
  <path d="M4.2 9.2 V5.5 Q4.2 3.6 6.1 3.6 H33.9 Q35.8 3.6 35.8 5.5 V9.2"/>
  <line x1="20" y1="3.6" x2="20" y2="35"/>
  <line x1="14" y1="35.2" x2="26" y2="35.2"/>
</svg>
<!-- sticky -->
<svg style="left:39px;top:534px" width="40" height="40" viewBox="0 0 40 40" fill="none" stroke="#050038" stroke-width="3.5" stroke-linejoin="round">
  <path d="M4 2.2 H36 Q37.8 2.2 37.8 4 V26 L25.6 37.9 H4 Q2.2 37.9 2.2 36.1 V4 Q2.2 2.2 4 2.2 Z"/>
  <path d="M37.8 23.4 H27 Q23.4 23.4 23.4 27 V37.9 L37.8 24.5 Z" fill="#050038" stroke-width="1.5"/>
</svg>
<!-- shapes -->
<svg style="left:39px;top:617px" width="44" height="46" viewBox="0 0 44 46" fill="none" stroke="#050038" stroke-width="3.5" stroke-linejoin="round">
  <path d="M14.2 18 A13 13 0 1 1 26.4 29.7"/>
  <rect x="2.3" y="19.6" width="22.3" height="22" rx="1.2"/>
</svg>
<!-- arrow -->
<svg style="left:39px;top:707px" width="40" height="40" viewBox="0 0 40 40" fill="none" stroke="#050038" stroke-width="3.6" stroke-linecap="round">
  <line x1="4" y1="35.6" x2="27" y2="12.6"/>
  <path d="M37.8 2.4 L21.4 8.4 L31.8 18.8 Z" fill="#050038" stroke="none"/>
</svg>
<!-- pen -->
<svg style="left:39px;top:790px" width="40" height="50" viewBox="0 0 40 50" fill="none" stroke="#050038" stroke-width="3.4" stroke-linejoin="round">
  <path d="M5.6 47.8 V36.6 L16.6 5.8 Q20 0.8 23.4 5.8 L34.4 36.6 V47.8"/>
  <line x1="13" y1="16.7" x2="27" y2="16.7"/>
</svg>
<!-- comment -->
<svg style="left:39px;top:884px" width="40" height="40" viewBox="0 0 40 40" fill="none" stroke="#050038" stroke-width="3.5" stroke-linecap="round" stroke-linejoin="round">
  <path d="M4.4 3 H35.6 Q37.8 3 37.8 5.2 V28 Q37.8 30.2 35.6 30.2 H25 L20 35.6 L15 30.2 H4.4 Q2.2 30.2 2.2 28 V5.2 Q2.2 3 4.4 3 Z"/>
  <line x1="12.4" y1="12.8" x2="27.6" y2="12.8" stroke-width="3.6"/>
  <line x1="12.4" y1="20.5" x2="27.6" y2="20.5" stroke-width="3.6"/>
</svg>
<!-- frame -->
<svg style="left:37px;top:967px" width="44" height="42" viewBox="0 0 44 42" fill="none" stroke="#050038" stroke-width="3.5" stroke-linecap="round">
  <line x1="8" y1="3" x2="8" y2="38.4"/><line x1="36" y1="3" x2="36" y2="38.4"/>
  <line x1="2.4" y1="9" x2="41.8" y2="9"/><line x1="2.4" y1="32.6" x2="41.8" y2="32.6"/>
</svg>
<!-- upload -->
<svg style="left:39px;top:1054px" width="40" height="42" viewBox="0 0 40 42" fill="none" stroke="#050038" stroke-width="3.5" stroke-linecap="round" stroke-linejoin="round">
  <path d="M10.4 36.4 H2.4 V2.8 H37.6 V36.4 H29.6"/>
  <path d="M20 39.6 V14.2 M12.8 21 L20 13.8 L27.2 21"/>
</svg>
<!-- plus -->
<div class="abs" style="left:39.5px;top:1141.5px;width:39.2px;height:39.2px;border-radius:3.5px;background:#050038"></div>
<svg style="left:39px;top:1141px" width="40" height="40" viewBox="0 0 40 40" fill="none" stroke="#fff" stroke-width="4.2" stroke-linecap="round">
  <line x1="12.6" y1="20.2" x2="27.8" y2="20.2"/><line x1="20.2" y1="12.6" x2="20.2" y2="27.8"/>
</svg>

<!-- undo/redo -->
<div class="panel" style="left:12px;top:1224.1px;width:94px;height:181.6px"></div>
<svg style="left:39px;top:1262px" width="40" height="22" viewBox="0 0 40 22" fill="none" stroke="#a19fb6" stroke-width="3.9" stroke-linecap="round" stroke-linejoin="round">
  <path d="M4 4 V15.6 H15.2" stroke-linecap="butt"/>
  <path d="M5.4 14 C13 3.4 29.6 1 36.4 15.8"/>
</svg>
<svg style="left:39px;top:1348.5px" width="40" height="22" viewBox="0 0 40 22" fill="none" stroke="#a19fb6" stroke-width="3.9" stroke-linecap="round" stroke-linejoin="round">
  <path d="M36 4 V15.6 H24.8" stroke-linecap="butt"/>
  <path d="M34.6 14 C27 3.4 10.4 1 3.6 15.8"/>
</svg>

</body></html>
